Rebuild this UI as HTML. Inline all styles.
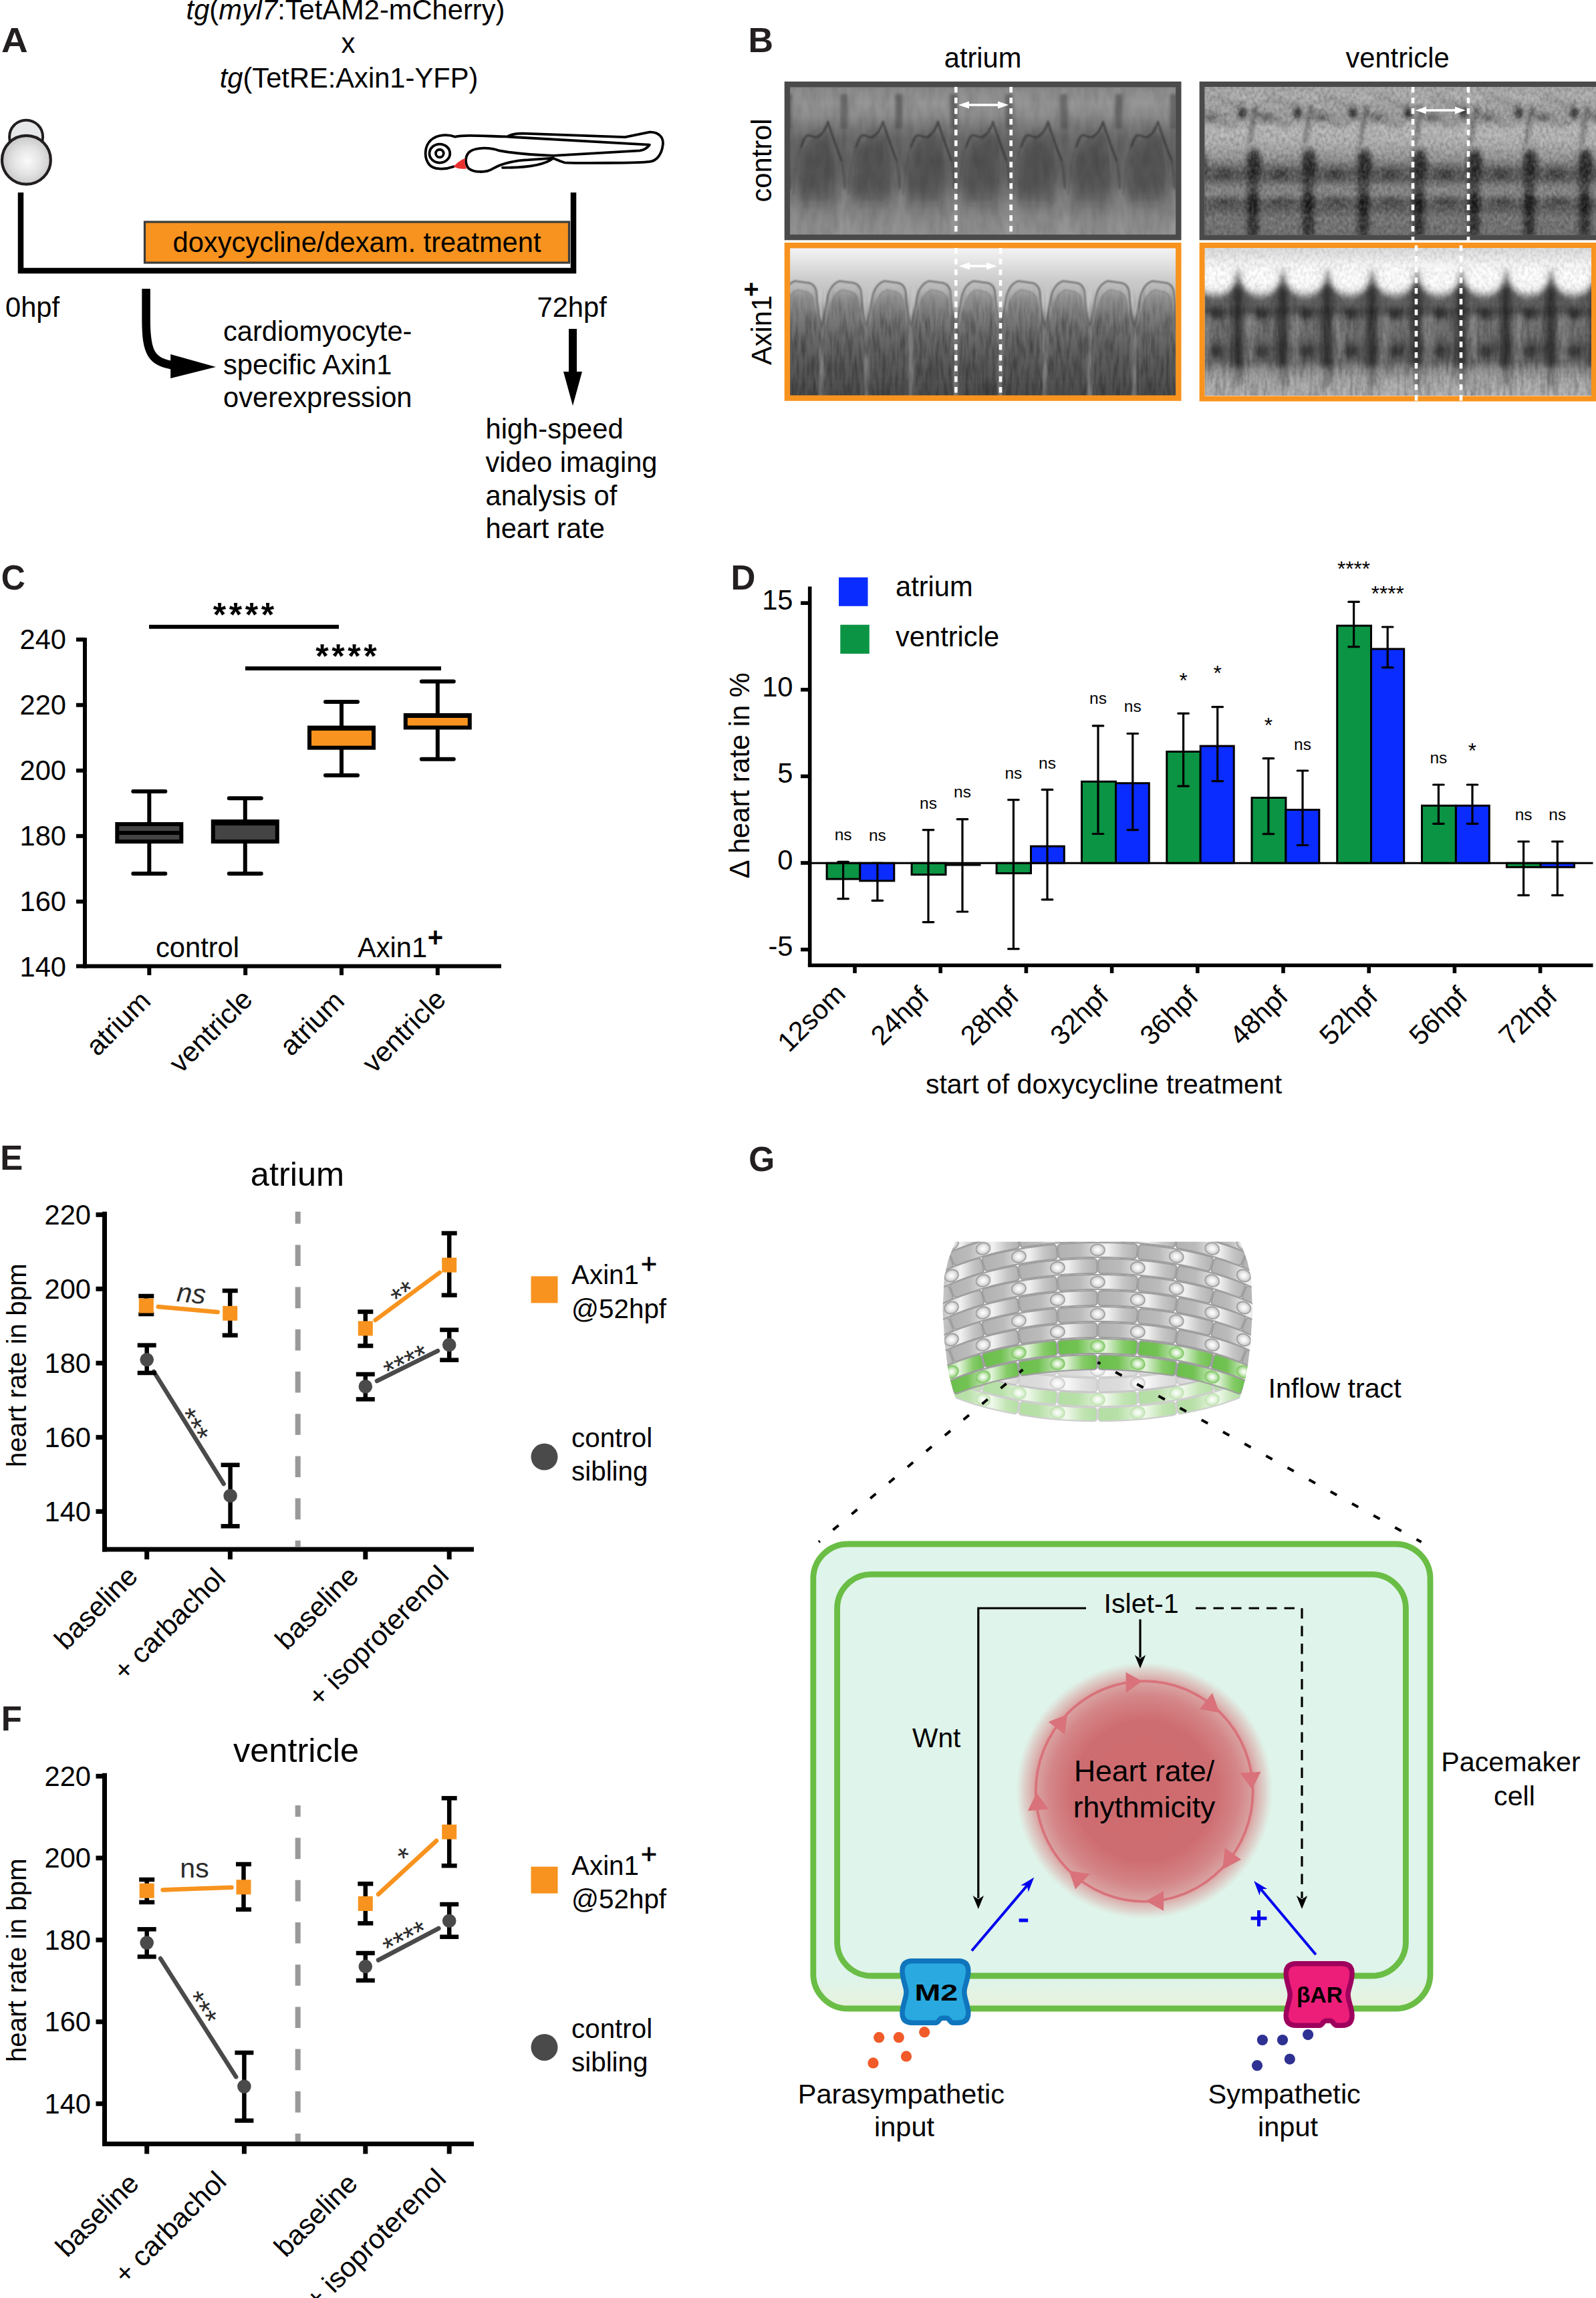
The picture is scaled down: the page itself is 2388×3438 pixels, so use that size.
<!DOCTYPE html>
<html><head><meta charset="utf-8"><title>Figure</title>
<style>
html,body{margin:0;padding:0;background:#fff;}
svg{display:block;}
text{font-family:"Liberation Sans",sans-serif;}
</style></head><body>
<svg width="2388" height="3438" viewBox="0 0 2388 3438">
<rect width="2388" height="3438" fill="#fff"/>
<defs><radialGradient id="eggG" cx="0.52" cy="0.52" r="0.55"><stop offset="0" stop-color="#fafafa"/><stop offset="0.5" stop-color="#e4e4e4"/><stop offset="1" stop-color="#c4c4c4"/></radialGradient>
<filter id="bl2" x="-10%" y="-10%" width="120%" height="120%"><feGaussianBlur stdDeviation="2"/></filter>
<filter id="bl1" x="-10%" y="-10%" width="120%" height="120%"><feGaussianBlur stdDeviation="1.1"/></filter>
<filter id="bl4" x="-10%" y="-10%" width="120%" height="120%"><feGaussianBlur stdDeviation="4"/></filter>
<filter id="bl6" x="-10%" y="-10%" width="120%" height="120%"><feGaussianBlur stdDeviation="6 9"/></filter>
<filter id="bl3" x="-10%" y="-10%" width="120%" height="120%"><feGaussianBlur stdDeviation="3 5"/></filter>
<filter id="nzA" x="0" y="0" width="100%" height="100%"><feTurbulence type="fractalNoise" baseFrequency="0.09 0.03" numOctaves="2" seed="3"/><feColorMatrix type="matrix" values="0 0 0 0 0  0 0 0 0 0  0 0 0 0 0  1.6 0 0 0 -0.55"/></filter>
<filter id="nzB" x="0" y="0" width="100%" height="100%"><feTurbulence type="fractalNoise" baseFrequency="0.22 0.16" numOctaves="3" seed="7"/><feColorMatrix type="matrix" values="0 0 0 0 0  0 0 0 0 0  0 0 0 0 0  2.2 0 0 0 -0.8"/></filter>
<filter id="nzW" x="0" y="0" width="100%" height="100%"><feTurbulence type="fractalNoise" baseFrequency="0.22 0.16" numOctaves="3" seed="11"/><feColorMatrix type="matrix" values="0 0 0 0 1  0 0 0 0 1  0 0 0 0 1  2.2 0 0 0 -0.8"/></filter>
<filter id="nzV" x="0" y="0" width="100%" height="100%"><feTurbulence type="fractalNoise" baseFrequency="0.22 0.025" numOctaves="2" seed="5"/><feColorMatrix type="matrix" values="0 0 0 0 0  0 0 0 0 0  0 0 0 0 0  2.0 0 0 0 -0.75"/></filter>
<linearGradient id="b1g" x1="0" y1="0" x2="0" y2="1"><stop offset="0.000" stop-color="#808080"/><stop offset="0.045" stop-color="#8e8e8e"/><stop offset="0.126" stop-color="#969696"/><stop offset="0.207" stop-color="#8e8e8e"/><stop offset="0.279" stop-color="#7a7a7a"/><stop offset="0.360" stop-color="#6c6c6c"/><stop offset="0.495" stop-color="#666666"/><stop offset="0.631" stop-color="#6a6a6a"/><stop offset="0.766" stop-color="#7a7a7a"/><stop offset="0.878" stop-color="#8a8a8a"/><stop offset="1.000" stop-color="#939393"/></linearGradient>
<linearGradient id="b2g" x1="0" y1="0" x2="0" y2="1"><stop offset="0.000" stop-color="#f4f4f4"/><stop offset="0.063" stop-color="#e6e6e6"/><stop offset="0.154" stop-color="#d4d4d4"/><stop offset="0.213" stop-color="#c8c8c8"/><stop offset="0.226" stop-color="#8c8c8c"/><stop offset="0.240" stop-color="#a8a8a8"/><stop offset="0.276" stop-color="#b0b0b0"/><stop offset="0.299" stop-color="#8e8e8e"/><stop offset="0.317" stop-color="#9a9a9a"/><stop offset="0.357" stop-color="#7c7c7c"/><stop offset="0.448" stop-color="#6a6a6a"/><stop offset="0.561" stop-color="#565656"/><stop offset="0.697" stop-color="#484848"/><stop offset="0.855" stop-color="#404040"/><stop offset="1.000" stop-color="#3b3b3b"/></linearGradient>
<linearGradient id="b3g" x1="0" y1="0" x2="0" y2="1"><stop offset="0.000" stop-color="#a0a0a0"/><stop offset="0.090" stop-color="#b2b2b2"/><stop offset="0.203" stop-color="#9c9c9c"/><stop offset="0.293" stop-color="#b6b6b6"/><stop offset="0.383" stop-color="#b0b0b0"/><stop offset="0.486" stop-color="#929292"/><stop offset="0.563" stop-color="#5a5a5a"/><stop offset="0.613" stop-color="#585858"/><stop offset="0.667" stop-color="#828282"/><stop offset="0.712" stop-color="#868686"/><stop offset="0.757" stop-color="#5e5e5e"/><stop offset="0.811" stop-color="#5c5c5c"/><stop offset="0.865" stop-color="#747474"/><stop offset="0.946" stop-color="#707070"/><stop offset="1.000" stop-color="#6c6c6c"/></linearGradient>
<linearGradient id="b4g" x1="0" y1="0" x2="0" y2="1"><stop offset="0.000" stop-color="#d8d8d8"/><stop offset="0.063" stop-color="#e4e4e4"/><stop offset="0.131" stop-color="#f6f6f6"/><stop offset="0.244" stop-color="#f2f2f2"/><stop offset="0.312" stop-color="#b0b0b0"/><stop offset="0.367" stop-color="#6c6c6c"/><stop offset="0.439" stop-color="#525252"/><stop offset="0.502" stop-color="#747474"/><stop offset="0.584" stop-color="#727272"/><stop offset="0.674" stop-color="#5c5c5c"/><stop offset="0.756" stop-color="#686868"/><stop offset="0.810" stop-color="#949494"/><stop offset="0.878" stop-color="#adadad"/><stop offset="1.000" stop-color="#b8b8b8"/></linearGradient>
<linearGradient id="b2bg" gradientUnits="userSpaceOnUse" x1="0" y1="371" x2="0" y2="592"><stop offset="0" stop-color="#f3f3f3"/><stop offset="0.07" stop-color="#e8e8e8"/><stop offset="0.16" stop-color="#d6d6d6"/><stop offset="0.24" stop-color="#c8c8c8"/><stop offset="0.36" stop-color="#c2c2c2"/><stop offset="0.45" stop-color="#b2b2b2"/><stop offset="0.52" stop-color="#909090"/><stop offset="0.6" stop-color="#6c6c6c"/><stop offset="1" stop-color="#484848"/></linearGradient>
<linearGradient id="b2out" gradientUnits="userSpaceOnUse" x1="0" y1="420" x2="0" y2="592"><stop offset="0" stop-color="#c0c0c0"/><stop offset="0.1" stop-color="#b2b2b2"/><stop offset="0.3" stop-color="#8a8a8a"/><stop offset="0.5" stop-color="#626262"/><stop offset="1" stop-color="#484848"/></linearGradient>
<linearGradient id="b2in" gradientUnits="userSpaceOnUse" x1="0" y1="435" x2="0" y2="592"><stop offset="0" stop-color="#a2a2a2"/><stop offset="0.06" stop-color="#929292"/><stop offset="0.2" stop-color="#808080"/><stop offset="0.4" stop-color="#6c6c6c"/><stop offset="0.6" stop-color="#5e5e5e"/><stop offset="1" stop-color="#4c4c4c"/></linearGradient>
<linearGradient id="fadeV" x1="0" y1="0" x2="0" y2="1"><stop offset="0" stop-color="#000" stop-opacity="0"/><stop offset="0.35" stop-color="#000" stop-opacity="1"/><stop offset="1" stop-color="#000" stop-opacity="1"/></linearGradient>
<filter id="nzVm" x="0" y="0" width="100%" height="100%"><feTurbulence type="fractalNoise" baseFrequency="0.2 0.03" numOctaves="2" seed="5"/><feColorMatrix type="matrix" values="0 0 0 0 0  0 0 0 0 0  0 0 0 0 0  2.0 0 0 0 -0.75"/><feComposite in2="SourceGraphic" operator="in"/></filter>
<linearGradient id="notchG" x1="0" y1="0" x2="0" y2="1"><stop offset="0.000" stop-color="#cdcdcd"/><stop offset="0.500" stop-color="#b4b4b4"/><stop offset="1.000" stop-color="#8a8a8a"/></linearGradient>
<clipPath id="c1"><rect x="1181.7" y="130" width="578" height="221.5"/></clipPath>
<clipPath id="c2"><rect x="1181.7" y="371" width="578" height="221"/></clipPath>
<clipPath id="c3"><rect x="1802.5" y="130" width="586" height="221.5"/></clipPath>
<clipPath id="c4"><rect x="1802.5" y="371" width="586" height="221"/></clipPath>
<linearGradient id="cg"><stop offset="0" stop-color="#b1b1b1"/><stop offset="0.28" stop-color="#bbbbbb"/><stop offset="0.62" stop-color="#f1f1f1"/><stop offset="0.82" stop-color="#c6c6c6"/><stop offset="1" stop-color="#b1b1b1"/></linearGradient>
<linearGradient id="cgr"><stop offset="0" stop-color="#6abf4b"/><stop offset="0.25" stop-color="#72c253"/><stop offset="0.6" stop-color="#e2f3da"/><stop offset="0.82" stop-color="#86cc69"/><stop offset="1" stop-color="#6abf4b"/></linearGradient>
<radialGradient id="ng" cx="0.5" cy="0.5" r="0.55"><stop offset="0" stop-color="#fff"/><stop offset="0.4" stop-color="#eeeeee"/><stop offset="1" stop-color="#bcbcbc"/></radialGradient>
<radialGradient id="ngr" cx="0.5" cy="0.5" r="0.55"><stop offset="0" stop-color="#fff"/><stop offset="0.4" stop-color="#d9f0cf"/><stop offset="1" stop-color="#7cc75e"/></radialGradient>
<radialGradient id="glow" cx="0.5" cy="0.5" r="0.5"><stop offset="0" stop-color="#cd6a6e"/><stop offset="0.55" stop-color="#ce6d71"/><stop offset="0.74" stop-color="#d48688"/><stop offset="0.86" stop-color="#d99c9c" stop-opacity="0.9"/><stop offset="0.94" stop-color="#dcb0ae" stop-opacity="0.5"/><stop offset="1" stop-color="#dfc0bd" stop-opacity="0"/></radialGradient>
<linearGradient id="tint" x1="0" y1="0" x2="0" y2="1"><stop offset="0" stop-color="#eef0d2" stop-opacity="0"/><stop offset="1" stop-color="#eef0d2" stop-opacity="0.55"/></linearGradient>
<clipPath id="cellClip"><rect x="1216.8" y="2310" width="923.2" height="695" rx="52" ry="52"/></clipPath>
<clipPath id="barrelClip"><path d="M1855.3,1857.7 L1865.8,1885.0 L1871.8,1911.0 L1874.1,1960.0 L1871.1,2009.0 L1867.1,2042.0 L1863.3,2063.0 L1858.3,2081.0 L1852.3,2100.0 L1840.3,2145.0 L1444.3,2145.0 L1432.3,2100.0 L1426.3,2081.0 L1421.3,2063.0 L1417.5,2042.0 L1413.5,2009.0 L1410.5,1960.0 L1412.8,1911.0 L1418.8,1885.0 L1429.3,1857.7 Z"/></clipPath></defs>
<g id="pA">
<text font-size="50" font-weight="bold" fill="#231f20" transform="translate(2.0 77.9) scale(1.1 1.02)">A</text>
<text x="517.0" y="29.0" font-size="41.67" text-anchor="middle"><tspan font-style="italic">tg</tspan>(<tspan font-style="italic">myl7</tspan>:TetAM2-mCherry)</text>
<text x="521.0" y="79.0" font-size="41.67" text-anchor="middle">x</text>
<text x="522.0" y="131.0" font-size="41.67" text-anchor="middle"><tspan font-style="italic">tg</tspan>(TetRE:Axin1-YFP)</text>
<circle cx="39.1" cy="204.7" r="25" fill="#e6e7e8" stroke="#231f20" stroke-width="4"/>
<circle cx="39.4" cy="239.3" r="36.4" fill="url(#eggG)" stroke="#231f20" stroke-width="4.2"/>
<path d="M31,288 V405 H858 V288" fill="none" stroke="#000" stroke-width="8.5"/>
<rect x="216.5" y="332.0" width="635.0" height="61.0" fill="#f7931e" stroke="#3c3c3b" stroke-width="3.2"/>
<text x="534.0" y="377.0" font-size="41.67" text-anchor="middle">doxycycline/dexam. treatment</text>
<text x="8.0" y="474.0" font-size="41.67">0hpf</text>
<text x="803.5" y="474.0" font-size="41.67">72hpf</text>
<path d="M218.6,432 V478 C218.6,528 226,542 262,547" fill="none" stroke="#000" stroke-width="12.5"/>
<path d="M255.2,530 L323,549 L255.2,566 Z" fill="#000"/>
<text x="334.0" y="510.0" font-size="41.67">cardiomyocyte-</text>
<text x="334.0" y="560.0" font-size="41.67">specific Axin1</text>
<text x="334.0" y="609.0" font-size="41.67">overexpression</text>
<path d="M851,492 H863 V556 H871 L857,607 L843,556 H851 Z" fill="#000"/>
<text x="726.5" y="656.0" font-size="41.67">high-speed</text>
<text x="726.5" y="706.0" font-size="41.67">video imaging</text>
<text x="726.5" y="756.0" font-size="41.67">analysis of</text>
<text x="726.5" y="805.0" font-size="41.67">heart rate</text>
<g transform="translate(620 180) scale(0.24438)" fill="none" stroke="#000" stroke-width="15.5" stroke-linejoin="round" stroke-linecap="round">
<path d="M240,283 C180,305 115,300 92,272 C58,232 60,160 100,122 C140,86 205,84 250,101 C300,88 400,95 560,100 L1440,150 C1425,172 1405,182 1380,186 L850,216 C700,212 600,200 520,186 C460,164 380,166 342,190 C310,212 308,262 330,292 C360,322 440,322 480,296 C540,262 610,246 700,242 L850,232" fill="#fff"/>
<path d="M575,97 C600,82 625,80 660,80 L1290,103 L1440,72 C1500,70 1528,110 1521,152 C1514,212 1480,250 1440,253 C1380,262 1000,263 920,259 C890,251 870,240 850,232 C800,272 700,290 540,290"/>
<ellipse cx="155" cy="203" rx="63" ry="57"/>
<circle cx="155" cy="203" r="24"/>
<path d="M240,283 C265,255 290,240 312,232 C306,255 310,280 322,296 C295,300 265,296 240,283 Z" fill="#e8312f" stroke="none"/>
</g>
</g>
<g id="pB">
<text font-size="50" font-weight="bold" fill="#231f20" transform="translate(1119.6 78.1) scale(1.04 1.02)">B</text>
<text x="1470.6" y="101.0" font-size="41.67" text-anchor="middle">atrium</text>
<text x="2091.0" y="101.0" font-size="41.67" text-anchor="middle">ventricle</text>
<text x="1153.5" y="240.0" font-size="41.67" text-anchor="middle" transform="rotate(-90 1153.5 240.0)">control</text>
<text x="1153.5" y="546.0" font-size="41.67" transform="rotate(-90 1153.5 546.0)">Axin1</text>
<text x="1137.0" y="433.0" font-size="38" text-anchor="middle" font-weight="bold" transform="rotate(-90 1137.0 433.0)">+</text>
<g clip-path="url(#c1)">
<rect x="1175" y="125" width="595" height="232" fill="url(#b1g)"/>
<g filter="url(#bl6)">
<path d="M1112.7,300 C1108.7,250 1116.7,215 1136.7,205 L1158.7,196 C1166.7,220 1170.7,270 1162.7,300 Z" fill="#262626" opacity="0.33"/>
<path d="M1172.7,352 L1180.7,262 L1192.7,352 Z" fill="#a0a0a0" opacity="0.55"/>
<path d="M1195.0,300 C1191.0,250 1199.0,215 1219.0,205 L1241.0,196 C1249.0,220 1253.0,270 1245.0,300 Z" fill="#262626" opacity="0.33"/>
<path d="M1255.0,352 L1263.0,262 L1275.0,352 Z" fill="#a0a0a0" opacity="0.55"/>
<path d="M1277.3,300 C1273.3,250 1281.3,215 1301.3,205 L1323.3,196 C1331.3,220 1335.3,270 1327.3,300 Z" fill="#262626" opacity="0.33"/>
<path d="M1337.3,352 L1345.3,262 L1357.3,352 Z" fill="#a0a0a0" opacity="0.55"/>
<path d="M1359.6,300 C1355.6,250 1363.6,215 1383.6,205 L1405.6,196 C1413.6,220 1417.6,270 1409.6,300 Z" fill="#262626" opacity="0.33"/>
<path d="M1419.6,352 L1427.6,262 L1439.6,352 Z" fill="#a0a0a0" opacity="0.55"/>
<path d="M1441.9,300 C1437.9,250 1445.9,215 1465.9,205 L1487.9,196 C1495.9,220 1499.9,270 1491.9,300 Z" fill="#262626" opacity="0.33"/>
<path d="M1501.9,352 L1509.9,262 L1521.9,352 Z" fill="#a0a0a0" opacity="0.55"/>
<path d="M1524.2,300 C1520.2,250 1528.2,215 1548.2,205 L1570.2,196 C1578.2,220 1582.2,270 1574.2,300 Z" fill="#262626" opacity="0.33"/>
<path d="M1584.2,352 L1592.2,262 L1604.2,352 Z" fill="#a0a0a0" opacity="0.55"/>
<path d="M1606.5,300 C1602.5,250 1610.5,215 1630.5,205 L1652.5,196 C1660.5,220 1664.5,270 1656.5,300 Z" fill="#262626" opacity="0.33"/>
<path d="M1666.5,352 L1674.5,262 L1686.5,352 Z" fill="#a0a0a0" opacity="0.55"/>
<path d="M1688.8,300 C1684.8,250 1692.8,215 1712.8,205 L1734.8,196 C1742.8,220 1746.8,270 1738.8,300 Z" fill="#262626" opacity="0.33"/>
<path d="M1748.8,352 L1756.8,262 L1768.8,352 Z" fill="#a0a0a0" opacity="0.55"/>
<path d="M1771.1,300 C1767.1,250 1775.1,215 1795.1,205 L1817.1,196 C1825.1,220 1829.1,270 1821.1,300 Z" fill="#262626" opacity="0.33"/>
<path d="M1831.1,352 L1839.1,262 L1851.1,352 Z" fill="#a0a0a0" opacity="0.55"/>
</g>
<g filter="url(#bl2)">
<rect x="1174.7" y="141" width="11" height="52" fill="#444" opacity="0.5"/>
<rect x="1175.7" y="195" width="9" height="85" fill="#555" opacity="0.3"/>
<rect x="1257.0" y="141" width="11" height="52" fill="#444" opacity="0.5"/>
<rect x="1258.0" y="195" width="9" height="85" fill="#555" opacity="0.3"/>
<rect x="1339.3" y="141" width="11" height="52" fill="#444" opacity="0.5"/>
<rect x="1340.3" y="195" width="9" height="85" fill="#555" opacity="0.3"/>
<rect x="1421.6" y="141" width="11" height="52" fill="#444" opacity="0.5"/>
<rect x="1422.6" y="195" width="9" height="85" fill="#555" opacity="0.3"/>
<rect x="1503.9" y="141" width="11" height="52" fill="#444" opacity="0.5"/>
<rect x="1504.9" y="195" width="9" height="85" fill="#555" opacity="0.3"/>
<rect x="1586.2" y="141" width="11" height="52" fill="#444" opacity="0.5"/>
<rect x="1587.2" y="195" width="9" height="85" fill="#555" opacity="0.3"/>
<rect x="1668.5" y="141" width="11" height="52" fill="#444" opacity="0.5"/>
<rect x="1669.5" y="195" width="9" height="85" fill="#555" opacity="0.3"/>
<rect x="1750.8" y="141" width="11" height="52" fill="#444" opacity="0.5"/>
<rect x="1751.8" y="195" width="9" height="85" fill="#555" opacity="0.3"/>
<rect x="1833.1" y="141" width="11" height="52" fill="#444" opacity="0.5"/>
<rect x="1834.1" y="195" width="9" height="85" fill="#555" opacity="0.3"/>
</g>
<g filter="url(#bl1)" fill="none" stroke-linecap="round" stroke-linejoin="round">
<path d="M1116.3,220 C1119.7,210 1121.7,204 1125.7,202.5 C1130.7,201 1134.7,207 1140.7,205 C1148.7,201 1153.7,192 1156.7,182 C1159.7,194 1163.7,204 1166.7,213 C1170.7,224 1173.7,232 1176.7,240" stroke="#2a2a2a" stroke-width="2.8" opacity="0.62"/>
<path d="M1176.7,240 C1179.7,255 1181.7,268 1181.7,282" stroke="#454545" stroke-width="2.4" opacity="0.6"/>
<path d="M1116.3,220 C1110.7,240 1106.7,265 1104.7,290" stroke="#555" stroke-width="2.4" opacity="0.5"/>
<path d="M1198.6,220 C1202.0,210 1204.0,204 1208.0,202.5 C1213.0,201 1217.0,207 1223.0,205 C1231.0,201 1236.0,192 1239.0,182 C1242.0,194 1246.0,204 1249.0,213 C1253.0,224 1256.0,232 1259.0,240" stroke="#2a2a2a" stroke-width="2.8" opacity="0.62"/>
<path d="M1259.0,240 C1262.0,255 1264.0,268 1264.0,282" stroke="#454545" stroke-width="2.4" opacity="0.6"/>
<path d="M1198.6,220 C1193.0,240 1189.0,265 1187.0,290" stroke="#555" stroke-width="2.4" opacity="0.5"/>
<path d="M1280.9,220 C1284.3,210 1286.3,204 1290.3,202.5 C1295.3,201 1299.3,207 1305.3,205 C1313.3,201 1318.3,192 1321.3,182 C1324.3,194 1328.3,204 1331.3,213 C1335.3,224 1338.3,232 1341.3,240" stroke="#2a2a2a" stroke-width="2.8" opacity="0.62"/>
<path d="M1341.3,240 C1344.3,255 1346.3,268 1346.3,282" stroke="#454545" stroke-width="2.4" opacity="0.6"/>
<path d="M1280.9,220 C1275.3,240 1271.3,265 1269.3,290" stroke="#555" stroke-width="2.4" opacity="0.5"/>
<path d="M1363.2,220 C1366.6,210 1368.6,204 1372.6,202.5 C1377.6,201 1381.6,207 1387.6,205 C1395.6,201 1400.6,192 1403.6,182 C1406.6,194 1410.6,204 1413.6,213 C1417.6,224 1420.6,232 1423.6,240" stroke="#2a2a2a" stroke-width="2.8" opacity="0.62"/>
<path d="M1423.6,240 C1426.6,255 1428.6,268 1428.6,282" stroke="#454545" stroke-width="2.4" opacity="0.6"/>
<path d="M1363.2,220 C1357.6,240 1353.6,265 1351.6,290" stroke="#555" stroke-width="2.4" opacity="0.5"/>
<path d="M1445.5,220 C1448.9,210 1450.9,204 1454.9,202.5 C1459.9,201 1463.9,207 1469.9,205 C1477.9,201 1482.9,192 1485.9,182 C1488.9,194 1492.9,204 1495.9,213 C1499.9,224 1502.9,232 1505.9,240" stroke="#2a2a2a" stroke-width="2.8" opacity="0.62"/>
<path d="M1505.9,240 C1508.9,255 1510.9,268 1510.9,282" stroke="#454545" stroke-width="2.4" opacity="0.6"/>
<path d="M1445.5,220 C1439.9,240 1435.9,265 1433.9,290" stroke="#555" stroke-width="2.4" opacity="0.5"/>
<path d="M1527.8,220 C1531.2,210 1533.2,204 1537.2,202.5 C1542.2,201 1546.2,207 1552.2,205 C1560.2,201 1565.2,192 1568.2,182 C1571.2,194 1575.2,204 1578.2,213 C1582.2,224 1585.2,232 1588.2,240" stroke="#2a2a2a" stroke-width="2.8" opacity="0.62"/>
<path d="M1588.2,240 C1591.2,255 1593.2,268 1593.2,282" stroke="#454545" stroke-width="2.4" opacity="0.6"/>
<path d="M1527.8,220 C1522.2,240 1518.2,265 1516.2,290" stroke="#555" stroke-width="2.4" opacity="0.5"/>
<path d="M1610.1,220 C1613.5,210 1615.5,204 1619.5,202.5 C1624.5,201 1628.5,207 1634.5,205 C1642.5,201 1647.5,192 1650.5,182 C1653.5,194 1657.5,204 1660.5,213 C1664.5,224 1667.5,232 1670.5,240" stroke="#2a2a2a" stroke-width="2.8" opacity="0.62"/>
<path d="M1670.5,240 C1673.5,255 1675.5,268 1675.5,282" stroke="#454545" stroke-width="2.4" opacity="0.6"/>
<path d="M1610.1,220 C1604.5,240 1600.5,265 1598.5,290" stroke="#555" stroke-width="2.4" opacity="0.5"/>
<path d="M1692.4,220 C1695.8,210 1697.8,204 1701.8,202.5 C1706.8,201 1710.8,207 1716.8,205 C1724.8,201 1729.8,192 1732.8,182 C1735.8,194 1739.8,204 1742.8,213 C1746.8,224 1749.8,232 1752.8,240" stroke="#2a2a2a" stroke-width="2.8" opacity="0.62"/>
<path d="M1752.8,240 C1755.8,255 1757.8,268 1757.8,282" stroke="#454545" stroke-width="2.4" opacity="0.6"/>
<path d="M1692.4,220 C1686.8,240 1682.8,265 1680.8,290" stroke="#555" stroke-width="2.4" opacity="0.5"/>
<path d="M1774.7,220 C1778.1,210 1780.1,204 1784.1,202.5 C1789.1,201 1793.1,207 1799.1,205 C1807.1,201 1812.1,192 1815.1,182 C1818.1,194 1822.1,204 1825.1,213 C1829.1,224 1832.1,232 1835.1,240" stroke="#2a2a2a" stroke-width="2.8" opacity="0.62"/>
<path d="M1835.1,240 C1838.1,255 1840.1,268 1840.1,282" stroke="#454545" stroke-width="2.4" opacity="0.6"/>
<path d="M1774.7,220 C1769.1,240 1765.1,265 1763.1,290" stroke="#555" stroke-width="2.4" opacity="0.5"/>
</g>
<rect x="1181" y="130" width="580" height="222" filter="url(#nzA)" opacity="0.12"/>
</g>
<rect x="1177.9" y="126.2" width="585.4" height="228.9" fill="none" stroke="#4a4a4a" stroke-width="8.4"/>
<line x1="1430.3" y1="130" x2="1430.3" y2="352" stroke="#fff" stroke-width="4.6" stroke-dasharray="8.6 7.4"/>
<line x1="1512.7" y1="130" x2="1512.7" y2="352" stroke="#fff" stroke-width="4.6" stroke-dasharray="8.6 7.4"/>
<path d="M1446,157 H1497" stroke="#fff" stroke-width="3.6" fill="none"/>
<path d="M1434,157 l16,-5.5 v11 Z M1509,157 l-16,-5.5 v11 Z" fill="#fff"/>
<g clip-path="url(#c2)">
<rect x="1175" y="365" width="595" height="232" fill="url(#b2bg)"/>
<g filter="url(#bl1)">
<path d="M1162.5,600 L1162.5,487.0 C1165.5,480.0 1168.0,462.0 1171.0,446.0 C1173.5,434.0 1178.5,424.0 1189.5,420.5 L1211.4,423.5 C1218.4,426.0 1221.4,432.0 1221.9,440.0 C1223.4,460.0 1225.4,478.0 1229.4,487.0 L1229.4,600 Z" fill="url(#b2out)" stroke="#6c6c6c" stroke-width="2.4"/>
<path d="M1229.4,600 L1229.4,487.0 C1232.4,480.0 1234.9,462.0 1237.9,446.0 C1240.4,434.0 1245.4,424.0 1256.4,420.5 L1278.3,423.5 C1285.3,426.0 1288.3,432.0 1288.8,440.0 C1290.3,460.0 1292.3,478.0 1296.3,487.0 L1296.3,600 Z" fill="url(#b2out)" stroke="#6c6c6c" stroke-width="2.4"/>
<path d="M1296.3,600 L1296.3,487.0 C1299.3,480.0 1301.8,462.0 1304.8,446.0 C1307.3,434.0 1312.3,424.0 1323.3,420.5 L1345.1,423.5 C1352.1,426.0 1355.1,432.0 1355.6,440.0 C1357.1,460.0 1359.1,478.0 1363.1,487.0 L1363.1,600 Z" fill="url(#b2out)" stroke="#6c6c6c" stroke-width="2.4"/>
<path d="M1363.1,600 L1363.1,487.0 C1366.1,480.0 1368.6,462.0 1371.6,446.0 C1374.1,434.0 1379.1,424.0 1390.1,420.5 L1412.0,423.5 C1419.0,426.0 1422.0,432.0 1422.5,440.0 C1424.0,460.0 1426.0,478.0 1430.0,487.0 L1430.0,600 Z" fill="url(#b2out)" stroke="#6c6c6c" stroke-width="2.4"/>
<path d="M1430.0,600 L1430.0,487.0 C1433.0,480.0 1435.5,462.0 1438.5,446.0 C1441.0,434.0 1446.0,424.0 1457.0,420.5 L1478.8,423.5 C1485.8,426.0 1488.8,432.0 1489.3,440.0 C1490.8,460.0 1492.8,478.0 1496.8,487.0 L1496.8,600 Z" fill="url(#b2out)" stroke="#6c6c6c" stroke-width="2.4"/>
<path d="M1496.8,600 L1496.8,487.0 C1499.8,480.0 1502.3,462.0 1505.3,446.0 C1507.8,434.0 1512.8,424.0 1523.8,420.5 L1545.7,423.5 C1552.7,426.0 1555.7,432.0 1556.2,440.0 C1557.7,460.0 1559.7,478.0 1563.7,487.0 L1563.7,600 Z" fill="url(#b2out)" stroke="#6c6c6c" stroke-width="2.4"/>
<path d="M1563.7,600 L1563.7,487.0 C1566.7,480.0 1569.2,462.0 1572.2,446.0 C1574.7,434.0 1579.7,424.0 1590.7,420.5 L1612.6,423.5 C1619.6,426.0 1622.6,432.0 1623.1,440.0 C1624.6,460.0 1626.6,478.0 1630.6,487.0 L1630.6,600 Z" fill="url(#b2out)" stroke="#6c6c6c" stroke-width="2.4"/>
<path d="M1630.6,600 L1630.6,487.0 C1633.6,480.0 1636.1,462.0 1639.1,446.0 C1641.6,434.0 1646.6,424.0 1657.6,420.5 L1679.4,423.5 C1686.4,426.0 1689.4,432.0 1689.9,440.0 C1691.4,460.0 1693.4,478.0 1697.4,487.0 L1697.4,600 Z" fill="url(#b2out)" stroke="#6c6c6c" stroke-width="2.4"/>
<path d="M1697.4,600 L1697.4,487.0 C1700.4,480.0 1702.9,462.0 1705.9,446.0 C1708.4,434.0 1713.4,424.0 1724.4,420.5 L1746.3,423.5 C1753.3,426.0 1756.3,432.0 1756.8,440.0 C1758.3,460.0 1760.3,478.0 1764.3,487.0 L1764.3,600 Z" fill="url(#b2out)" stroke="#6c6c6c" stroke-width="2.4"/>
<path d="M1764.3,600 L1764.3,487.0 C1767.3,480.0 1769.8,462.0 1772.8,446.0 C1775.3,434.0 1780.3,424.0 1791.3,420.5 L1813.1,423.5 C1820.1,426.0 1823.1,432.0 1823.6,440.0 C1825.1,460.0 1827.1,478.0 1831.1,487.0 L1831.1,600 Z" fill="url(#b2out)" stroke="#6c6c6c" stroke-width="2.4"/>
<path d="M1164.2,600 L1164.2,491.2 C1168.1,484.2 1172.2,466.2 1175.2,459.0 C1177.7,447.0 1182.7,437.0 1193.7,433.5 L1207.2,436.5 C1214.2,439.0 1217.2,445.0 1217.7,453.0 C1219.2,464.2 1221.2,482.2 1227.7,491.2 L1227.7,600 Z" fill="url(#b2in)" stroke="#858585" stroke-width="1.6"/>
<path d="M1231.1,600 L1231.1,491.2 C1234.9,484.2 1239.1,466.2 1242.1,459.0 C1244.6,447.0 1249.6,437.0 1260.6,433.5 L1274.1,436.5 C1281.1,439.0 1284.1,445.0 1284.6,453.0 C1286.1,464.2 1288.1,482.2 1294.6,491.2 L1294.6,600 Z" fill="url(#b2in)" stroke="#858585" stroke-width="1.6"/>
<path d="M1297.9,600 L1297.9,491.2 C1301.8,484.2 1306.0,466.2 1309.0,459.0 C1311.5,447.0 1316.5,437.0 1327.5,433.5 L1340.9,436.5 C1347.9,439.0 1350.9,445.0 1351.4,453.0 C1352.9,464.2 1354.9,482.2 1361.4,491.2 L1361.4,600 Z" fill="url(#b2in)" stroke="#858585" stroke-width="1.6"/>
<path d="M1364.8,600 L1364.8,491.2 C1368.6,484.2 1372.8,466.2 1375.8,459.0 C1378.3,447.0 1383.3,437.0 1394.3,433.5 L1407.8,436.5 C1414.8,439.0 1417.8,445.0 1418.3,453.0 C1419.8,464.2 1421.8,482.2 1428.3,491.2 L1428.3,600 Z" fill="url(#b2in)" stroke="#858585" stroke-width="1.6"/>
<path d="M1431.7,600 L1431.7,491.2 C1435.5,484.2 1439.7,466.2 1442.7,459.0 C1445.2,447.0 1450.2,437.0 1461.2,433.5 L1474.6,436.5 C1481.6,439.0 1484.6,445.0 1485.1,453.0 C1486.6,464.2 1488.6,482.2 1495.2,491.2 L1495.2,600 Z" fill="url(#b2in)" stroke="#858585" stroke-width="1.6"/>
<path d="M1498.5,600 L1498.5,491.2 C1502.4,484.2 1506.5,466.2 1509.5,459.0 C1512.0,447.0 1517.0,437.0 1528.0,433.5 L1541.5,436.5 C1548.5,439.0 1551.5,445.0 1552.0,453.0 C1553.5,464.2 1555.5,482.2 1562.0,491.2 L1562.0,600 Z" fill="url(#b2in)" stroke="#858585" stroke-width="1.6"/>
<path d="M1565.4,600 L1565.4,491.2 C1569.2,484.2 1573.4,466.2 1576.4,459.0 C1578.9,447.0 1583.9,437.0 1594.9,433.5 L1608.4,436.5 C1615.4,439.0 1618.4,445.0 1618.9,453.0 C1620.4,464.2 1622.4,482.2 1628.9,491.2 L1628.9,600 Z" fill="url(#b2in)" stroke="#858585" stroke-width="1.6"/>
<path d="M1632.2,600 L1632.2,491.2 C1636.1,484.2 1640.3,466.2 1643.3,459.0 C1645.8,447.0 1650.8,437.0 1661.8,433.5 L1675.2,436.5 C1682.2,439.0 1685.2,445.0 1685.7,453.0 C1687.2,464.2 1689.2,482.2 1695.7,491.2 L1695.7,600 Z" fill="url(#b2in)" stroke="#858585" stroke-width="1.6"/>
<path d="M1699.1,600 L1699.1,491.2 C1702.9,484.2 1707.1,466.2 1710.1,459.0 C1712.6,447.0 1717.6,437.0 1728.6,433.5 L1742.1,436.5 C1749.1,439.0 1752.1,445.0 1752.6,453.0 C1754.1,464.2 1756.1,482.2 1762.6,491.2 L1762.6,600 Z" fill="url(#b2in)" stroke="#858585" stroke-width="1.6"/>
<path d="M1766.0,600 L1766.0,491.2 C1769.8,484.2 1774.0,466.2 1777.0,459.0 C1779.5,447.0 1784.5,437.0 1795.5,433.5 L1808.9,436.5 C1815.9,439.0 1818.9,445.0 1819.4,453.0 C1820.9,464.2 1822.9,482.2 1829.5,491.2 L1829.5,600 Z" fill="url(#b2in)" stroke="#858585" stroke-width="1.6"/>
</g>
<g filter="url(#bl3)">
<rect x="1156.5" y="492" width="13" height="110" fill="#8a8a8a" opacity="0.2"/>
<rect x="1223.4" y="492" width="13" height="110" fill="#8a8a8a" opacity="0.2"/>
<rect x="1290.3" y="492" width="13" height="110" fill="#8a8a8a" opacity="0.2"/>
<rect x="1357.1" y="492" width="13" height="110" fill="#8a8a8a" opacity="0.2"/>
<rect x="1424.0" y="492" width="13" height="110" fill="#8a8a8a" opacity="0.2"/>
<rect x="1490.8" y="492" width="13" height="110" fill="#8a8a8a" opacity="0.2"/>
<rect x="1557.7" y="492" width="13" height="110" fill="#8a8a8a" opacity="0.2"/>
<rect x="1624.6" y="492" width="13" height="110" fill="#8a8a8a" opacity="0.2"/>
<rect x="1691.4" y="492" width="13" height="110" fill="#8a8a8a" opacity="0.2"/>
<rect x="1758.3" y="492" width="13" height="110" fill="#8a8a8a" opacity="0.2"/>
</g>
<rect x="1181" y="425" width="580" height="170" fill="url(#fadeV)" filter="url(#nzVm)" opacity="0.3"/>
</g>
<rect x="1177.9" y="367.2" width="585.4" height="228.4" fill="none" stroke="#f7931e" stroke-width="8.4"/>
<line x1="1430.3" y1="371" x2="1430.3" y2="592" stroke="#fff" stroke-width="4.6" stroke-dasharray="8.6 7.4"/>
<line x1="1497" y1="371" x2="1497" y2="592" stroke="#fff" stroke-width="4.6" stroke-dasharray="8.6 7.4"/>
<path d="M1447,398 H1480" stroke="#fff" stroke-width="3.6" fill="none"/>
<path d="M1435,398 l16,-5.5 v11 Z M1492,398 l-16,-5.5 v11 Z" fill="#fff"/>
<g clip-path="url(#c3)">
<rect x="1796" y="125" width="600" height="232" fill="url(#b3g)"/>
<g filter="url(#bl3)">
<rect x="1783.3" y="226" width="17" height="135" fill="#1e1e1e" opacity="0.6"/>
<ellipse cx="1794.3" cy="245" rx="11" ry="22" fill="#141414" opacity="0.6"/>
<ellipse cx="1792.3" cy="305" rx="9" ry="16" fill="#0c0c0c" opacity="0.65"/>
<ellipse cx="1792.3" cy="336" rx="9" ry="14" fill="#111" opacity="0.45"/>
<ellipse cx="1776.3" cy="169" rx="6.5" ry="8" fill="#1a1a1a" opacity="0.9"/>
<ellipse cx="1812.3" cy="176" rx="9" ry="4" fill="#333" opacity="0.7"/>
<ellipse cx="1729.3" cy="176" rx="9" ry="4" fill="#3a3a3a" opacity="0.6"/>
<path d="M1796.3,158 L1786.3,215" stroke="#3c3c3c" stroke-width="5" opacity="0.75"/>
<path d="M1794.3,160 L1803.3,176" stroke="#444" stroke-width="4" opacity="0.7"/>
<path d="M1721.3,178 q12,-9 24,3 t24,2" stroke="#4c4c4c" stroke-width="6" fill="none" opacity="0.5"/>
<path d="M1725.3,150 q14,-8 28,2 t26,0" stroke="#5c5c5c" stroke-width="6" fill="none" opacity="0.45"/>
<path d="M1731.3,200 q14,8 28,0 t26,4" stroke="#c0c0c0" stroke-width="9" fill="none" opacity="0.4"/>
<ellipse cx="1749.3" cy="260" rx="12" ry="6" fill="#222" opacity="0.6"/>
<ellipse cx="1751.3" cy="302" rx="16" ry="6" fill="#2a2a2a" opacity="0.5"/>
<rect x="1866.0" y="226" width="17" height="135" fill="#1e1e1e" opacity="0.6"/>
<ellipse cx="1877.0" cy="245" rx="11" ry="22" fill="#141414" opacity="0.6"/>
<ellipse cx="1875.0" cy="305" rx="9" ry="16" fill="#0c0c0c" opacity="0.65"/>
<ellipse cx="1875.0" cy="336" rx="9" ry="14" fill="#111" opacity="0.45"/>
<ellipse cx="1859.0" cy="169" rx="6.5" ry="8" fill="#1a1a1a" opacity="0.9"/>
<ellipse cx="1895.0" cy="176" rx="9" ry="4" fill="#333" opacity="0.7"/>
<ellipse cx="1812.0" cy="176" rx="9" ry="4" fill="#3a3a3a" opacity="0.6"/>
<path d="M1879.0,158 L1869.0,215" stroke="#3c3c3c" stroke-width="5" opacity="0.75"/>
<path d="M1877.0,160 L1886.0,176" stroke="#444" stroke-width="4" opacity="0.7"/>
<path d="M1804.0,178 q12,-9 24,3 t24,2" stroke="#4c4c4c" stroke-width="6" fill="none" opacity="0.5"/>
<path d="M1808.0,150 q14,-8 28,2 t26,0" stroke="#5c5c5c" stroke-width="6" fill="none" opacity="0.45"/>
<path d="M1814.0,200 q14,8 28,0 t26,4" stroke="#c0c0c0" stroke-width="9" fill="none" opacity="0.4"/>
<ellipse cx="1832.0" cy="260" rx="12" ry="6" fill="#222" opacity="0.6"/>
<ellipse cx="1834.0" cy="302" rx="16" ry="6" fill="#2a2a2a" opacity="0.5"/>
<rect x="1948.7" y="226" width="17" height="135" fill="#1e1e1e" opacity="0.6"/>
<ellipse cx="1959.7" cy="245" rx="11" ry="22" fill="#141414" opacity="0.6"/>
<ellipse cx="1957.7" cy="305" rx="9" ry="16" fill="#0c0c0c" opacity="0.65"/>
<ellipse cx="1957.7" cy="336" rx="9" ry="14" fill="#111" opacity="0.45"/>
<ellipse cx="1941.7" cy="169" rx="6.5" ry="8" fill="#1a1a1a" opacity="0.9"/>
<ellipse cx="1977.7" cy="176" rx="9" ry="4" fill="#333" opacity="0.7"/>
<ellipse cx="1894.7" cy="176" rx="9" ry="4" fill="#3a3a3a" opacity="0.6"/>
<path d="M1961.7,158 L1951.7,215" stroke="#3c3c3c" stroke-width="5" opacity="0.75"/>
<path d="M1959.7,160 L1968.7,176" stroke="#444" stroke-width="4" opacity="0.7"/>
<path d="M1886.7,178 q12,-9 24,3 t24,2" stroke="#4c4c4c" stroke-width="6" fill="none" opacity="0.5"/>
<path d="M1890.7,150 q14,-8 28,2 t26,0" stroke="#5c5c5c" stroke-width="6" fill="none" opacity="0.45"/>
<path d="M1896.7,200 q14,8 28,0 t26,4" stroke="#c0c0c0" stroke-width="9" fill="none" opacity="0.4"/>
<ellipse cx="1914.7" cy="260" rx="12" ry="6" fill="#222" opacity="0.6"/>
<ellipse cx="1916.7" cy="302" rx="16" ry="6" fill="#2a2a2a" opacity="0.5"/>
<rect x="2031.4" y="226" width="17" height="135" fill="#1e1e1e" opacity="0.6"/>
<ellipse cx="2042.4" cy="245" rx="11" ry="22" fill="#141414" opacity="0.6"/>
<ellipse cx="2040.4" cy="305" rx="9" ry="16" fill="#0c0c0c" opacity="0.65"/>
<ellipse cx="2040.4" cy="336" rx="9" ry="14" fill="#111" opacity="0.45"/>
<ellipse cx="2024.4" cy="169" rx="6.5" ry="8" fill="#1a1a1a" opacity="0.9"/>
<ellipse cx="2060.4" cy="176" rx="9" ry="4" fill="#333" opacity="0.7"/>
<ellipse cx="1977.4" cy="176" rx="9" ry="4" fill="#3a3a3a" opacity="0.6"/>
<path d="M2044.4,158 L2034.4,215" stroke="#3c3c3c" stroke-width="5" opacity="0.75"/>
<path d="M2042.4,160 L2051.4,176" stroke="#444" stroke-width="4" opacity="0.7"/>
<path d="M1969.4,178 q12,-9 24,3 t24,2" stroke="#4c4c4c" stroke-width="6" fill="none" opacity="0.5"/>
<path d="M1973.4,150 q14,-8 28,2 t26,0" stroke="#5c5c5c" stroke-width="6" fill="none" opacity="0.45"/>
<path d="M1979.4,200 q14,8 28,0 t26,4" stroke="#c0c0c0" stroke-width="9" fill="none" opacity="0.4"/>
<ellipse cx="1997.4" cy="260" rx="12" ry="6" fill="#222" opacity="0.6"/>
<ellipse cx="1999.4" cy="302" rx="16" ry="6" fill="#2a2a2a" opacity="0.5"/>
<rect x="2114.1" y="226" width="17" height="135" fill="#1e1e1e" opacity="0.6"/>
<ellipse cx="2125.1" cy="245" rx="11" ry="22" fill="#141414" opacity="0.6"/>
<ellipse cx="2123.1" cy="305" rx="9" ry="16" fill="#0c0c0c" opacity="0.65"/>
<ellipse cx="2123.1" cy="336" rx="9" ry="14" fill="#111" opacity="0.45"/>
<ellipse cx="2107.1" cy="169" rx="6.5" ry="8" fill="#1a1a1a" opacity="0.9"/>
<ellipse cx="2143.1" cy="176" rx="9" ry="4" fill="#333" opacity="0.7"/>
<ellipse cx="2060.1" cy="176" rx="9" ry="4" fill="#3a3a3a" opacity="0.6"/>
<path d="M2127.1,158 L2117.1,215" stroke="#3c3c3c" stroke-width="5" opacity="0.75"/>
<path d="M2125.1,160 L2134.1,176" stroke="#444" stroke-width="4" opacity="0.7"/>
<path d="M2052.1,178 q12,-9 24,3 t24,2" stroke="#4c4c4c" stroke-width="6" fill="none" opacity="0.5"/>
<path d="M2056.1,150 q14,-8 28,2 t26,0" stroke="#5c5c5c" stroke-width="6" fill="none" opacity="0.45"/>
<path d="M2062.1,200 q14,8 28,0 t26,4" stroke="#c0c0c0" stroke-width="9" fill="none" opacity="0.4"/>
<ellipse cx="2080.1" cy="260" rx="12" ry="6" fill="#222" opacity="0.6"/>
<ellipse cx="2082.1" cy="302" rx="16" ry="6" fill="#2a2a2a" opacity="0.5"/>
<rect x="2196.8" y="226" width="17" height="135" fill="#1e1e1e" opacity="0.6"/>
<ellipse cx="2207.8" cy="245" rx="11" ry="22" fill="#141414" opacity="0.6"/>
<ellipse cx="2205.8" cy="305" rx="9" ry="16" fill="#0c0c0c" opacity="0.65"/>
<ellipse cx="2205.8" cy="336" rx="9" ry="14" fill="#111" opacity="0.45"/>
<ellipse cx="2189.8" cy="169" rx="6.5" ry="8" fill="#1a1a1a" opacity="0.9"/>
<ellipse cx="2225.8" cy="176" rx="9" ry="4" fill="#333" opacity="0.7"/>
<ellipse cx="2142.8" cy="176" rx="9" ry="4" fill="#3a3a3a" opacity="0.6"/>
<path d="M2209.8,158 L2199.8,215" stroke="#3c3c3c" stroke-width="5" opacity="0.75"/>
<path d="M2207.8,160 L2216.8,176" stroke="#444" stroke-width="4" opacity="0.7"/>
<path d="M2134.8,178 q12,-9 24,3 t24,2" stroke="#4c4c4c" stroke-width="6" fill="none" opacity="0.5"/>
<path d="M2138.8,150 q14,-8 28,2 t26,0" stroke="#5c5c5c" stroke-width="6" fill="none" opacity="0.45"/>
<path d="M2144.8,200 q14,8 28,0 t26,4" stroke="#c0c0c0" stroke-width="9" fill="none" opacity="0.4"/>
<ellipse cx="2162.8" cy="260" rx="12" ry="6" fill="#222" opacity="0.6"/>
<ellipse cx="2164.8" cy="302" rx="16" ry="6" fill="#2a2a2a" opacity="0.5"/>
<rect x="2279.5" y="226" width="17" height="135" fill="#1e1e1e" opacity="0.6"/>
<ellipse cx="2290.5" cy="245" rx="11" ry="22" fill="#141414" opacity="0.6"/>
<ellipse cx="2288.5" cy="305" rx="9" ry="16" fill="#0c0c0c" opacity="0.65"/>
<ellipse cx="2288.5" cy="336" rx="9" ry="14" fill="#111" opacity="0.45"/>
<ellipse cx="2272.5" cy="169" rx="6.5" ry="8" fill="#1a1a1a" opacity="0.9"/>
<ellipse cx="2308.5" cy="176" rx="9" ry="4" fill="#333" opacity="0.7"/>
<ellipse cx="2225.5" cy="176" rx="9" ry="4" fill="#3a3a3a" opacity="0.6"/>
<path d="M2292.5,158 L2282.5,215" stroke="#3c3c3c" stroke-width="5" opacity="0.75"/>
<path d="M2290.5,160 L2299.5,176" stroke="#444" stroke-width="4" opacity="0.7"/>
<path d="M2217.5,178 q12,-9 24,3 t24,2" stroke="#4c4c4c" stroke-width="6" fill="none" opacity="0.5"/>
<path d="M2221.5,150 q14,-8 28,2 t26,0" stroke="#5c5c5c" stroke-width="6" fill="none" opacity="0.45"/>
<path d="M2227.5,200 q14,8 28,0 t26,4" stroke="#c0c0c0" stroke-width="9" fill="none" opacity="0.4"/>
<ellipse cx="2245.5" cy="260" rx="12" ry="6" fill="#222" opacity="0.6"/>
<ellipse cx="2247.5" cy="302" rx="16" ry="6" fill="#2a2a2a" opacity="0.5"/>
<rect x="2362.2" y="226" width="17" height="135" fill="#1e1e1e" opacity="0.6"/>
<ellipse cx="2373.2" cy="245" rx="11" ry="22" fill="#141414" opacity="0.6"/>
<ellipse cx="2371.2" cy="305" rx="9" ry="16" fill="#0c0c0c" opacity="0.65"/>
<ellipse cx="2371.2" cy="336" rx="9" ry="14" fill="#111" opacity="0.45"/>
<ellipse cx="2355.2" cy="169" rx="6.5" ry="8" fill="#1a1a1a" opacity="0.9"/>
<ellipse cx="2391.2" cy="176" rx="9" ry="4" fill="#333" opacity="0.7"/>
<ellipse cx="2308.2" cy="176" rx="9" ry="4" fill="#3a3a3a" opacity="0.6"/>
<path d="M2375.2,158 L2365.2,215" stroke="#3c3c3c" stroke-width="5" opacity="0.75"/>
<path d="M2373.2,160 L2382.2,176" stroke="#444" stroke-width="4" opacity="0.7"/>
<path d="M2300.2,178 q12,-9 24,3 t24,2" stroke="#4c4c4c" stroke-width="6" fill="none" opacity="0.5"/>
<path d="M2304.2,150 q14,-8 28,2 t26,0" stroke="#5c5c5c" stroke-width="6" fill="none" opacity="0.45"/>
<path d="M2310.2,200 q14,8 28,0 t26,4" stroke="#c0c0c0" stroke-width="9" fill="none" opacity="0.4"/>
<ellipse cx="2328.2" cy="260" rx="12" ry="6" fill="#222" opacity="0.6"/>
<ellipse cx="2330.2" cy="302" rx="16" ry="6" fill="#2a2a2a" opacity="0.5"/>
<rect x="2444.9" y="226" width="17" height="135" fill="#1e1e1e" opacity="0.6"/>
<ellipse cx="2455.9" cy="245" rx="11" ry="22" fill="#141414" opacity="0.6"/>
<ellipse cx="2453.9" cy="305" rx="9" ry="16" fill="#0c0c0c" opacity="0.65"/>
<ellipse cx="2453.9" cy="336" rx="9" ry="14" fill="#111" opacity="0.45"/>
<ellipse cx="2437.9" cy="169" rx="6.5" ry="8" fill="#1a1a1a" opacity="0.9"/>
<ellipse cx="2473.9" cy="176" rx="9" ry="4" fill="#333" opacity="0.7"/>
<ellipse cx="2390.9" cy="176" rx="9" ry="4" fill="#3a3a3a" opacity="0.6"/>
<path d="M2457.9,158 L2447.9,215" stroke="#3c3c3c" stroke-width="5" opacity="0.75"/>
<path d="M2455.9,160 L2464.9,176" stroke="#444" stroke-width="4" opacity="0.7"/>
<path d="M2382.9,178 q12,-9 24,3 t24,2" stroke="#4c4c4c" stroke-width="6" fill="none" opacity="0.5"/>
<path d="M2386.9,150 q14,-8 28,2 t26,0" stroke="#5c5c5c" stroke-width="6" fill="none" opacity="0.45"/>
<path d="M2392.9,200 q14,8 28,0 t26,4" stroke="#c0c0c0" stroke-width="9" fill="none" opacity="0.4"/>
<ellipse cx="2410.9" cy="260" rx="12" ry="6" fill="#222" opacity="0.6"/>
<ellipse cx="2412.9" cy="302" rx="16" ry="6" fill="#2a2a2a" opacity="0.5"/>
</g>
<rect x="1802" y="130" width="588" height="222" filter="url(#nzB)" opacity="0.18"/>
<rect x="1802" y="130" width="588" height="222" filter="url(#nzW)" opacity="0.14"/>
</g>
<path d="M2392,126 H1798.6 V355.3 H2392" fill="none" stroke="#4a4a4a" stroke-width="8"/>
<line x1="2114" y1="130" x2="2114" y2="366" stroke="#fff" stroke-width="4.6" stroke-dasharray="8.6 7.4"/>
<line x1="2197" y1="130" x2="2197" y2="366" stroke="#fff" stroke-width="4.6" stroke-dasharray="8.6 7.4"/>
<path d="M2130,165 H2181" stroke="#fff" stroke-width="3.6" fill="none"/>
<path d="M2118,165 l16,-5.5 v11 Z M2193,165 l-16,-5.5 v11 Z" fill="#fff"/>
<g clip-path="url(#c4)">
<rect x="1796" y="365" width="600" height="232" fill="url(#b4g)"/>
<g filter="url(#bl4)">
<path d="M1755.6,452 C1773.6,440 1780.6,425 1785.6,400 C1790.6,425 1797.6,440 1815.6,452 Z" fill="#555" opacity="0.85"/>
<rect x="1777.6" y="428" width="15" height="122" fill="#181818" opacity="0.6"/>
<rect x="1780.6" y="550" width="11" height="28" fill="#444" opacity="0.45"/>
<ellipse cx="1752.6" cy="469" rx="11" ry="8" fill="#222" opacity="0.7"/>
<ellipse cx="1752.6" cy="526" rx="13" ry="9" fill="#2a2a2a" opacity="0.6"/>
<rect x="1799.6" y="470" width="9" height="70" fill="#b0b0b0" opacity="0.5"/>
<ellipse cx="1819.0" cy="418" rx="24" ry="20" fill="#fff" opacity="0.9"/>
<path d="M1822.5,452 C1840.5,440 1847.5,425 1852.5,400 C1857.5,425 1864.5,440 1882.5,452 Z" fill="#555" opacity="0.85"/>
<rect x="1844.5" y="428" width="15" height="122" fill="#181818" opacity="0.6"/>
<rect x="1847.5" y="550" width="11" height="28" fill="#444" opacity="0.45"/>
<ellipse cx="1819.5" cy="469" rx="11" ry="8" fill="#222" opacity="0.7"/>
<ellipse cx="1819.5" cy="526" rx="13" ry="9" fill="#2a2a2a" opacity="0.6"/>
<rect x="1866.5" y="470" width="9" height="70" fill="#b0b0b0" opacity="0.5"/>
<ellipse cx="1885.9" cy="418" rx="24" ry="20" fill="#fff" opacity="0.9"/>
<path d="M1889.4,452 C1907.4,440 1914.4,425 1919.4,400 C1924.4,425 1931.4,440 1949.4,452 Z" fill="#555" opacity="0.85"/>
<rect x="1911.4" y="428" width="15" height="122" fill="#181818" opacity="0.6"/>
<rect x="1914.4" y="550" width="11" height="28" fill="#444" opacity="0.45"/>
<ellipse cx="1886.4" cy="469" rx="11" ry="8" fill="#222" opacity="0.7"/>
<ellipse cx="1886.4" cy="526" rx="13" ry="9" fill="#2a2a2a" opacity="0.6"/>
<rect x="1933.4" y="470" width="9" height="70" fill="#b0b0b0" opacity="0.5"/>
<ellipse cx="1952.8" cy="418" rx="24" ry="20" fill="#fff" opacity="0.9"/>
<path d="M1956.3,452 C1974.3,440 1981.3,425 1986.3,400 C1991.3,425 1998.3,440 2016.3,452 Z" fill="#555" opacity="0.85"/>
<rect x="1978.3" y="428" width="15" height="122" fill="#181818" opacity="0.6"/>
<rect x="1981.3" y="550" width="11" height="28" fill="#444" opacity="0.45"/>
<ellipse cx="1953.3" cy="469" rx="11" ry="8" fill="#222" opacity="0.7"/>
<ellipse cx="1953.3" cy="526" rx="13" ry="9" fill="#2a2a2a" opacity="0.6"/>
<rect x="2000.3" y="470" width="9" height="70" fill="#b0b0b0" opacity="0.5"/>
<ellipse cx="2019.7" cy="418" rx="24" ry="20" fill="#fff" opacity="0.9"/>
<path d="M2023.2,452 C2041.2,440 2048.2,425 2053.2,400 C2058.2,425 2065.2,440 2083.2,452 Z" fill="#555" opacity="0.85"/>
<rect x="2045.2" y="428" width="15" height="122" fill="#181818" opacity="0.6"/>
<rect x="2048.2" y="550" width="11" height="28" fill="#444" opacity="0.45"/>
<ellipse cx="2020.2" cy="469" rx="11" ry="8" fill="#222" opacity="0.7"/>
<ellipse cx="2020.2" cy="526" rx="13" ry="9" fill="#2a2a2a" opacity="0.6"/>
<rect x="2067.2" y="470" width="9" height="70" fill="#b0b0b0" opacity="0.5"/>
<ellipse cx="2086.6" cy="418" rx="24" ry="20" fill="#fff" opacity="0.9"/>
<path d="M2090.1,452 C2108.1,440 2115.1,425 2120.1,400 C2125.1,425 2132.1,440 2150.1,452 Z" fill="#555" opacity="0.85"/>
<rect x="2112.1" y="428" width="15" height="122" fill="#181818" opacity="0.6"/>
<rect x="2115.1" y="550" width="11" height="28" fill="#444" opacity="0.45"/>
<ellipse cx="2087.1" cy="469" rx="11" ry="8" fill="#222" opacity="0.7"/>
<ellipse cx="2087.1" cy="526" rx="13" ry="9" fill="#2a2a2a" opacity="0.6"/>
<rect x="2134.1" y="470" width="9" height="70" fill="#b0b0b0" opacity="0.5"/>
<ellipse cx="2153.5" cy="418" rx="24" ry="20" fill="#fff" opacity="0.9"/>
<path d="M2157.0,452 C2175.0,440 2182.0,425 2187.0,400 C2192.0,425 2199.0,440 2217.0,452 Z" fill="#555" opacity="0.85"/>
<rect x="2179.0" y="428" width="15" height="122" fill="#181818" opacity="0.6"/>
<rect x="2182.0" y="550" width="11" height="28" fill="#444" opacity="0.45"/>
<ellipse cx="2154.0" cy="469" rx="11" ry="8" fill="#222" opacity="0.7"/>
<ellipse cx="2154.0" cy="526" rx="13" ry="9" fill="#2a2a2a" opacity="0.6"/>
<rect x="2201.0" y="470" width="9" height="70" fill="#b0b0b0" opacity="0.5"/>
<ellipse cx="2220.4" cy="418" rx="24" ry="20" fill="#fff" opacity="0.9"/>
<path d="M2223.9,452 C2241.9,440 2248.9,425 2253.9,400 C2258.9,425 2265.9,440 2283.9,452 Z" fill="#555" opacity="0.85"/>
<rect x="2245.9" y="428" width="15" height="122" fill="#181818" opacity="0.6"/>
<rect x="2248.9" y="550" width="11" height="28" fill="#444" opacity="0.45"/>
<ellipse cx="2220.9" cy="469" rx="11" ry="8" fill="#222" opacity="0.7"/>
<ellipse cx="2220.9" cy="526" rx="13" ry="9" fill="#2a2a2a" opacity="0.6"/>
<rect x="2267.9" y="470" width="9" height="70" fill="#b0b0b0" opacity="0.5"/>
<ellipse cx="2287.3" cy="418" rx="24" ry="20" fill="#fff" opacity="0.9"/>
<path d="M2290.8,452 C2308.8,440 2315.8,425 2320.8,400 C2325.8,425 2332.8,440 2350.8,452 Z" fill="#555" opacity="0.85"/>
<rect x="2312.8" y="428" width="15" height="122" fill="#181818" opacity="0.6"/>
<rect x="2315.8" y="550" width="11" height="28" fill="#444" opacity="0.45"/>
<ellipse cx="2287.8" cy="469" rx="11" ry="8" fill="#222" opacity="0.7"/>
<ellipse cx="2287.8" cy="526" rx="13" ry="9" fill="#2a2a2a" opacity="0.6"/>
<rect x="2334.8" y="470" width="9" height="70" fill="#b0b0b0" opacity="0.5"/>
<ellipse cx="2354.2" cy="418" rx="24" ry="20" fill="#fff" opacity="0.9"/>
<path d="M2357.7,452 C2375.7,440 2382.7,425 2387.7,400 C2392.7,425 2399.7,440 2417.7,452 Z" fill="#555" opacity="0.85"/>
<rect x="2379.7" y="428" width="15" height="122" fill="#181818" opacity="0.6"/>
<rect x="2382.7" y="550" width="11" height="28" fill="#444" opacity="0.45"/>
<ellipse cx="2354.7" cy="469" rx="11" ry="8" fill="#222" opacity="0.7"/>
<ellipse cx="2354.7" cy="526" rx="13" ry="9" fill="#2a2a2a" opacity="0.6"/>
<rect x="2401.7" y="470" width="9" height="70" fill="#b0b0b0" opacity="0.5"/>
<ellipse cx="2421.1" cy="418" rx="24" ry="20" fill="#fff" opacity="0.9"/>
</g>
<rect x="1802" y="420" width="588" height="173" fill="url(#fadeV)" filter="url(#nzVm)" opacity="0.22"/>
<rect x="1802" y="371" width="588" height="222" filter="url(#nzB)" opacity="0.1"/>
</g>
<path d="M2392,367 H1798.6 V596.5 H2392" fill="none" stroke="#f7931e" stroke-width="8"/>
<line x1="2384.5" y1="363" x2="2384.5" y2="600" stroke="#f7931e" stroke-width="7"/>
<line x1="2119" y1="367" x2="2119" y2="600" stroke="#fff" stroke-width="4.6" stroke-dasharray="8.6 7.4"/>
<line x1="2186" y1="367" x2="2186" y2="600" stroke="#fff" stroke-width="4.6" stroke-dasharray="8.6 7.4"/>
<path d="M2136,398 H2169" stroke="#f4f4f4" stroke-width="3.6" fill="none"/>
<path d="M2124,398 l16,-5.5 v11 Z M2181,398 l-16,-5.5 v11 Z" fill="#f4f4f4"/>
</g>
<g id="pC">
<text font-size="50" font-weight="bold" fill="#231f20" transform="translate(1.7 881.8) scale(1.0 1.02)">C</text>
<path d="M127,954 V1448.6" stroke="#000" stroke-width="6" fill="none"/>
<path d="M114,1445.6 H750" stroke="#000" stroke-width="6" fill="none"/>
<line x1="114.0" y1="956.8" x2="127.0" y2="956.8" stroke="#000" stroke-width="6"/>
<text x="99.0" y="971.4" font-size="41.67" text-anchor="end">240</text>
<line x1="114.0" y1="1054.8" x2="127.0" y2="1054.8" stroke="#000" stroke-width="6"/>
<text x="99.0" y="1069.4" font-size="41.67" text-anchor="end">220</text>
<line x1="114.0" y1="1152.8" x2="127.0" y2="1152.8" stroke="#000" stroke-width="6"/>
<text x="99.0" y="1167.4" font-size="41.67" text-anchor="end">200</text>
<line x1="114.0" y1="1250.8" x2="127.0" y2="1250.8" stroke="#000" stroke-width="6"/>
<text x="99.0" y="1265.4" font-size="41.67" text-anchor="end">180</text>
<line x1="114.0" y1="1348.8" x2="127.0" y2="1348.8" stroke="#000" stroke-width="6"/>
<text x="99.0" y="1363.4" font-size="41.67" text-anchor="end">160</text>
<text x="99.0" y="1461.4" font-size="41.67" text-anchor="end">140</text>
<line x1="223.3" y1="1445.0" x2="223.3" y2="1459.0" stroke="#000" stroke-width="6"/>
<line x1="367.2" y1="1445.0" x2="367.2" y2="1459.0" stroke="#000" stroke-width="6"/>
<line x1="511.0" y1="1445.0" x2="511.0" y2="1459.0" stroke="#000" stroke-width="6"/>
<line x1="654.8" y1="1445.0" x2="654.8" y2="1459.0" stroke="#000" stroke-width="6"/>
<line x1="223.0" y1="937.7" x2="507.0" y2="937.7" stroke="#000" stroke-width="6"/>
<line x1="367.0" y1="1000.0" x2="660.0" y2="1000.0" stroke="#000" stroke-width="6"/>
<text x="366.8" y="936.5" font-size="50" text-anchor="middle" font-weight="bold" letter-spacing="4.6">****</text>
<text x="520.3" y="998.5" font-size="50" text-anchor="middle" font-weight="bold" letter-spacing="4.6">****</text>
<line x1="223.3" y1="1184.0" x2="223.3" y2="1307.0" stroke="#000" stroke-width="6"/>
<line x1="199.3" y1="1184.0" x2="247.3" y2="1184.0" stroke="#000" stroke-width="6" stroke-linecap="round"/>
<line x1="199.3" y1="1307.0" x2="247.3" y2="1307.0" stroke="#000" stroke-width="6" stroke-linecap="round"/>
<rect x="175.3" y="1233.0" width="96.0" height="26.0" fill="#444" stroke="#000" stroke-width="6" stroke-linejoin="miter"/>
<line x1="175.3" y1="1246.0" x2="271.3" y2="1246.0" stroke="#000" stroke-width="6"/>
<line x1="366.8" y1="1194.2" x2="366.8" y2="1307.0" stroke="#000" stroke-width="6"/>
<line x1="342.8" y1="1194.2" x2="390.8" y2="1194.2" stroke="#000" stroke-width="6" stroke-linecap="round"/>
<line x1="342.8" y1="1307.0" x2="390.8" y2="1307.0" stroke="#000" stroke-width="6" stroke-linecap="round"/>
<rect x="318.8" y="1229.0" width="96.0" height="30.0" fill="#444" stroke="#000" stroke-width="6" stroke-linejoin="miter"/>
<line x1="318.8" y1="1232.0" x2="414.8" y2="1232.0" stroke="#000" stroke-width="6"/>
<line x1="511.0" y1="1050.0" x2="511.0" y2="1160.0" stroke="#000" stroke-width="6"/>
<line x1="487.0" y1="1050.0" x2="535.0" y2="1050.0" stroke="#000" stroke-width="6" stroke-linecap="round"/>
<line x1="487.0" y1="1160.0" x2="535.0" y2="1160.0" stroke="#000" stroke-width="6" stroke-linecap="round"/>
<rect x="463.0" y="1088.6" width="96.0" height="30.1" fill="#f7931e" stroke="#000" stroke-width="6" stroke-linejoin="miter"/>
<line x1="463.0" y1="1090.0" x2="559.0" y2="1090.0" stroke="#000" stroke-width="6"/>
<line x1="654.8" y1="1019.4" x2="654.8" y2="1135.7" stroke="#000" stroke-width="6"/>
<line x1="630.8" y1="1019.4" x2="678.8" y2="1019.4" stroke="#000" stroke-width="6" stroke-linecap="round"/>
<line x1="630.8" y1="1135.7" x2="678.8" y2="1135.7" stroke="#000" stroke-width="6" stroke-linecap="round"/>
<rect x="606.8" y="1070.0" width="96.0" height="18.5" fill="#f7931e" stroke="#000" stroke-width="6" stroke-linejoin="miter"/>
<line x1="606.8" y1="1071.0" x2="702.8" y2="1071.0" stroke="#000" stroke-width="6"/>
<text x="233.0" y="1431.6" font-size="41.67">control</text>
<text x="535.0" y="1431.6" font-size="41.67">Axin1</text>
<text x="651.5" y="1416.0" font-size="40" text-anchor="middle" font-weight="bold">+</text>
<text x="227.8" y="1500.0" font-size="41.67" text-anchor="end" transform="rotate(-45 227.8 1500.0)">atrium</text>
<text x="380.2" y="1497.5" font-size="41.67" text-anchor="end" transform="rotate(-45 380.2 1497.5)">ventricle</text>
<text x="517.5" y="1500.0" font-size="41.67" text-anchor="end" transform="rotate(-45 517.5 1500.0)">atrium</text>
<text x="669.3" y="1497.5" font-size="41.67" text-anchor="end" transform="rotate(-45 669.3 1497.5)">ventricle</text>
</g>
<g id="pD">
<text font-size="50" font-weight="bold" fill="#231f20" transform="translate(1093.6 881.5) scale(1.02 1.02)">D</text>
<rect x="1255.0" y="863.8" width="43.5" height="43.0" fill="#0a2cff"/>
<rect x="1257.3" y="934.7" width="43.5" height="43.3" fill="#0b9444"/>
<text x="1340.0" y="892.0" font-size="41.67">atrium</text>
<text x="1340.0" y="966.7" font-size="41.67">ventricle</text>
<rect x="1237.1" y="1291.3" width="49.7" height="23.8" fill="#0b9444" stroke="#000" stroke-width="3"/>
<rect x="1286.8" y="1291.3" width="51.0" height="26.5" fill="#0a2cff" stroke="#000" stroke-width="3"/>
<rect x="1364.1" y="1291.3" width="50.9" height="17.2" fill="#0b9444" stroke="#000" stroke-width="3"/>
<line x1="1413.5" y1="1294.0" x2="1467.5" y2="1294.0" stroke="#000" stroke-width="3"/>
<rect x="1491.1" y="1291.3" width="51.4" height="15.2" fill="#0b9444" stroke="#000" stroke-width="3"/>
<rect x="1542.5" y="1266.1" width="49.8" height="25.2" fill="#0a2cff" stroke="#000" stroke-width="3"/>
<rect x="1618.5" y="1169.3" width="51.0" height="122.0" fill="#0b9444" stroke="#000" stroke-width="3"/>
<rect x="1669.5" y="1171.7" width="49.8" height="119.6" fill="#0a2cff" stroke="#000" stroke-width="3"/>
<rect x="1745.8" y="1124.5" width="50.4" height="166.8" fill="#0b9444" stroke="#000" stroke-width="3"/>
<rect x="1796.2" y="1116.1" width="50.0" height="175.2" fill="#0a2cff" stroke="#000" stroke-width="3"/>
<rect x="1873.0" y="1193.5" width="50.9" height="97.8" fill="#0b9444" stroke="#000" stroke-width="3"/>
<rect x="1923.9" y="1211.5" width="49.9" height="79.8" fill="#0a2cff" stroke="#000" stroke-width="3"/>
<rect x="2000.7" y="936.1" width="50.8" height="355.2" fill="#0b9444" stroke="#000" stroke-width="3"/>
<rect x="2051.5" y="970.9" width="49.2" height="320.4" fill="#0a2cff" stroke="#000" stroke-width="3"/>
<rect x="2127.5" y="1205.3" width="50.9" height="86.0" fill="#0b9444" stroke="#000" stroke-width="3"/>
<rect x="2178.4" y="1205.3" width="49.9" height="86.0" fill="#0a2cff" stroke="#000" stroke-width="3"/>
<rect x="2254.4" y="1291.3" width="50.8" height="6.0" fill="#0b9444" stroke="#000" stroke-width="3"/>
<rect x="2305.2" y="1291.3" width="50.3" height="6.0" fill="#0a2cff" stroke="#000" stroke-width="3"/>
<line x1="1211.7" y1="1291.3" x2="2383.5" y2="1291.3" stroke="#000" stroke-width="3"/>
<line x1="1261.6" y1="1289.4" x2="1261.6" y2="1344.6" stroke="#000" stroke-width="3.2"/>
<line x1="1253.8" y1="1289.4" x2="1269.4" y2="1289.4" stroke="#000" stroke-width="3.2" stroke-linecap="round"/>
<line x1="1253.8" y1="1344.6" x2="1269.4" y2="1344.6" stroke="#000" stroke-width="3.2" stroke-linecap="round"/>
<line x1="1312.9" y1="1291.3" x2="1312.9" y2="1347.3" stroke="#000" stroke-width="3.2"/>
<line x1="1305.1" y1="1291.3" x2="1320.7" y2="1291.3" stroke="#000" stroke-width="3.2" stroke-linecap="round"/>
<line x1="1305.1" y1="1347.3" x2="1320.7" y2="1347.3" stroke="#000" stroke-width="3.2" stroke-linecap="round"/>
<text x="1261.6" y="1257.0" font-size="24.5" text-anchor="middle">ns</text>
<text x="1312.9" y="1257.5" font-size="24.5" text-anchor="middle">ns</text>
<line x1="1389.0" y1="1241.6" x2="1389.0" y2="1379.6" stroke="#000" stroke-width="3.2"/>
<line x1="1381.2" y1="1241.6" x2="1396.8" y2="1241.6" stroke="#000" stroke-width="3.2" stroke-linecap="round"/>
<line x1="1381.2" y1="1379.6" x2="1396.8" y2="1379.6" stroke="#000" stroke-width="3.2" stroke-linecap="round"/>
<line x1="1440.0" y1="1225.7" x2="1440.0" y2="1364.0" stroke="#000" stroke-width="3.2"/>
<line x1="1432.2" y1="1225.7" x2="1447.8" y2="1225.7" stroke="#000" stroke-width="3.2" stroke-linecap="round"/>
<line x1="1432.2" y1="1364.0" x2="1447.8" y2="1364.0" stroke="#000" stroke-width="3.2" stroke-linecap="round"/>
<text x="1389.0" y="1209.8" font-size="24.5" text-anchor="middle">ns</text>
<text x="1440.0" y="1193.0" font-size="24.5" text-anchor="middle">ns</text>
<line x1="1516.4" y1="1196.6" x2="1516.4" y2="1419.6" stroke="#000" stroke-width="3.2"/>
<line x1="1508.6" y1="1196.6" x2="1524.2" y2="1196.6" stroke="#000" stroke-width="3.2" stroke-linecap="round"/>
<line x1="1508.6" y1="1419.6" x2="1524.2" y2="1419.6" stroke="#000" stroke-width="3.2" stroke-linecap="round"/>
<line x1="1567.0" y1="1181.4" x2="1567.0" y2="1345.8" stroke="#000" stroke-width="3.2"/>
<line x1="1559.2" y1="1181.4" x2="1574.8" y2="1181.4" stroke="#000" stroke-width="3.2" stroke-linecap="round"/>
<line x1="1559.2" y1="1345.8" x2="1574.8" y2="1345.8" stroke="#000" stroke-width="3.2" stroke-linecap="round"/>
<text x="1516.4" y="1164.7" font-size="24.5" text-anchor="middle">ns</text>
<text x="1567.0" y="1149.6" font-size="24.5" text-anchor="middle">ns</text>
<line x1="1643.0" y1="1085.9" x2="1643.0" y2="1247.5" stroke="#000" stroke-width="3.2"/>
<line x1="1635.2" y1="1085.9" x2="1650.8" y2="1085.9" stroke="#000" stroke-width="3.2" stroke-linecap="round"/>
<line x1="1635.2" y1="1247.5" x2="1650.8" y2="1247.5" stroke="#000" stroke-width="3.2" stroke-linecap="round"/>
<line x1="1694.8" y1="1097.5" x2="1694.8" y2="1241.6" stroke="#000" stroke-width="3.2"/>
<line x1="1687.0" y1="1097.5" x2="1702.6" y2="1097.5" stroke="#000" stroke-width="3.2" stroke-linecap="round"/>
<line x1="1687.0" y1="1241.6" x2="1702.6" y2="1241.6" stroke="#000" stroke-width="3.2" stroke-linecap="round"/>
<text x="1643.0" y="1053.0" font-size="24.5" text-anchor="middle">ns</text>
<text x="1694.8" y="1065.0" font-size="24.5" text-anchor="middle">ns</text>
<line x1="1770.6" y1="1067.3" x2="1770.6" y2="1176.2" stroke="#000" stroke-width="3.2"/>
<line x1="1762.8" y1="1067.3" x2="1778.4" y2="1067.3" stroke="#000" stroke-width="3.2" stroke-linecap="round"/>
<line x1="1762.8" y1="1176.2" x2="1778.4" y2="1176.2" stroke="#000" stroke-width="3.2" stroke-linecap="round"/>
<line x1="1821.7" y1="1057.7" x2="1821.7" y2="1168.6" stroke="#000" stroke-width="3.2"/>
<line x1="1813.9" y1="1057.7" x2="1829.5" y2="1057.7" stroke="#000" stroke-width="3.2" stroke-linecap="round"/>
<line x1="1813.9" y1="1168.6" x2="1829.5" y2="1168.6" stroke="#000" stroke-width="3.2" stroke-linecap="round"/>
<text x="1770.6" y="1028.5" font-size="31.5" text-anchor="middle">*</text>
<text x="1821.7" y="1018.2" font-size="31.5" text-anchor="middle">*</text>
<line x1="1897.9" y1="1134.7" x2="1897.9" y2="1247.7" stroke="#000" stroke-width="3.2"/>
<line x1="1890.1" y1="1134.7" x2="1905.7" y2="1134.7" stroke="#000" stroke-width="3.2" stroke-linecap="round"/>
<line x1="1890.1" y1="1247.7" x2="1905.7" y2="1247.7" stroke="#000" stroke-width="3.2" stroke-linecap="round"/>
<line x1="1949.0" y1="1153.0" x2="1949.0" y2="1264.5" stroke="#000" stroke-width="3.2"/>
<line x1="1941.2" y1="1153.0" x2="1956.8" y2="1153.0" stroke="#000" stroke-width="3.2" stroke-linecap="round"/>
<line x1="1941.2" y1="1264.5" x2="1956.8" y2="1264.5" stroke="#000" stroke-width="3.2" stroke-linecap="round"/>
<text x="1897.9" y="1095.5" font-size="31.5" text-anchor="middle">*</text>
<text x="1949.0" y="1122.0" font-size="24.5" text-anchor="middle">ns</text>
<line x1="2025.6" y1="900.3" x2="2025.6" y2="967.7" stroke="#000" stroke-width="3.2"/>
<line x1="2017.8" y1="900.3" x2="2033.4" y2="900.3" stroke="#000" stroke-width="3.2" stroke-linecap="round"/>
<line x1="2017.8" y1="967.7" x2="2033.4" y2="967.7" stroke="#000" stroke-width="3.2" stroke-linecap="round"/>
<line x1="2076.2" y1="938.0" x2="2076.2" y2="998.7" stroke="#000" stroke-width="3.2"/>
<line x1="2068.4" y1="938.0" x2="2084.0" y2="938.0" stroke="#000" stroke-width="3.2" stroke-linecap="round"/>
<line x1="2068.4" y1="998.7" x2="2084.0" y2="998.7" stroke="#000" stroke-width="3.2" stroke-linecap="round"/>
<text x="2025.6" y="862.1" font-size="31.5" text-anchor="middle">****</text>
<text x="2076.2" y="898.9" font-size="31.5" text-anchor="middle">****</text>
<line x1="2152.4" y1="1174.0" x2="2152.4" y2="1232.3" stroke="#000" stroke-width="3.2"/>
<line x1="2144.6" y1="1174.0" x2="2160.2" y2="1174.0" stroke="#000" stroke-width="3.2" stroke-linecap="round"/>
<line x1="2144.6" y1="1232.3" x2="2160.2" y2="1232.3" stroke="#000" stroke-width="3.2" stroke-linecap="round"/>
<line x1="2203.0" y1="1174.0" x2="2203.0" y2="1232.3" stroke="#000" stroke-width="3.2"/>
<line x1="2195.2" y1="1174.0" x2="2210.8" y2="1174.0" stroke="#000" stroke-width="3.2" stroke-linecap="round"/>
<line x1="2195.2" y1="1232.3" x2="2210.8" y2="1232.3" stroke="#000" stroke-width="3.2" stroke-linecap="round"/>
<text x="2152.4" y="1141.8" font-size="24.5" text-anchor="middle">ns</text>
<text x="2203.0" y="1134.2" font-size="31.5" text-anchor="middle">*</text>
<line x1="2279.6" y1="1259.0" x2="2279.6" y2="1339.4" stroke="#000" stroke-width="3.2"/>
<line x1="2271.8" y1="1259.0" x2="2287.4" y2="1259.0" stroke="#000" stroke-width="3.2" stroke-linecap="round"/>
<line x1="2271.8" y1="1339.4" x2="2287.4" y2="1339.4" stroke="#000" stroke-width="3.2" stroke-linecap="round"/>
<line x1="2330.3" y1="1259.0" x2="2330.3" y2="1339.4" stroke="#000" stroke-width="3.2"/>
<line x1="2322.5" y1="1259.0" x2="2338.1" y2="1259.0" stroke="#000" stroke-width="3.2" stroke-linecap="round"/>
<line x1="2322.5" y1="1339.4" x2="2338.1" y2="1339.4" stroke="#000" stroke-width="3.2" stroke-linecap="round"/>
<text x="2279.6" y="1226.8" font-size="24.5" text-anchor="middle">ns</text>
<text x="2330.3" y="1226.8" font-size="24.5" text-anchor="middle">ns</text>
<path d="M1211.7,877.4 V1447" stroke="#000" stroke-width="5.6" fill="none"/>
<path d="M1208.9,1444.3 H2383.5" stroke="#000" stroke-width="5.6" fill="none"/>
<line x1="1198.0" y1="902.2" x2="1211.7" y2="902.2" stroke="#000" stroke-width="5.6"/>
<text x="1186.5" y="911.9" font-size="41.67" text-anchor="end">15</text>
<line x1="1198.0" y1="1031.8" x2="1211.7" y2="1031.8" stroke="#000" stroke-width="5.6"/>
<text x="1186.5" y="1041.5" font-size="41.67" text-anchor="end">10</text>
<line x1="1198.0" y1="1161.4" x2="1211.7" y2="1161.4" stroke="#000" stroke-width="5.6"/>
<text x="1186.5" y="1171.1" font-size="41.67" text-anchor="end">5</text>
<line x1="1198.0" y1="1291.0" x2="1211.7" y2="1291.0" stroke="#000" stroke-width="5.6"/>
<text x="1186.5" y="1300.7" font-size="41.67" text-anchor="end">0</text>
<line x1="1198.0" y1="1420.6" x2="1211.7" y2="1420.6" stroke="#000" stroke-width="5.6"/>
<text x="1186.5" y="1430.3" font-size="41.67" text-anchor="end">-5</text>
<line x1="1279.0" y1="1444.0" x2="1279.0" y2="1456.0" stroke="#000" stroke-width="5.6"/>
<text x="1267.4" y="1489.0" font-size="41" text-anchor="end" transform="rotate(-45 1267.4 1489.0)">12som</text>
<line x1="1407.2" y1="1444.0" x2="1407.2" y2="1456.0" stroke="#000" stroke-width="5.6"/>
<text x="1392.5" y="1493.5" font-size="41" text-anchor="end" transform="rotate(-45 1392.5 1493.5)">24hpf</text>
<line x1="1535.4" y1="1444.0" x2="1535.4" y2="1456.0" stroke="#000" stroke-width="5.6"/>
<text x="1526.8" y="1493.5" font-size="41" text-anchor="end" transform="rotate(-45 1526.8 1493.5)">28hpf</text>
<line x1="1663.6" y1="1444.0" x2="1663.6" y2="1456.0" stroke="#000" stroke-width="5.6"/>
<text x="1661.0" y="1493.5" font-size="41" text-anchor="end" transform="rotate(-45 1661.0 1493.5)">32hpf</text>
<line x1="1791.8" y1="1444.0" x2="1791.8" y2="1456.0" stroke="#000" stroke-width="5.6"/>
<text x="1795.3" y="1493.5" font-size="41" text-anchor="end" transform="rotate(-45 1795.3 1493.5)">36hpf</text>
<line x1="1920.0" y1="1444.0" x2="1920.0" y2="1456.0" stroke="#000" stroke-width="5.6"/>
<text x="1929.6" y="1493.5" font-size="41" text-anchor="end" transform="rotate(-45 1929.6 1493.5)">48hpf</text>
<line x1="2048.2" y1="1444.0" x2="2048.2" y2="1456.0" stroke="#000" stroke-width="5.6"/>
<text x="2063.8" y="1493.5" font-size="41" text-anchor="end" transform="rotate(-45 2063.8 1493.5)">52hpf</text>
<line x1="2176.4" y1="1444.0" x2="2176.4" y2="1456.0" stroke="#000" stroke-width="5.6"/>
<text x="2198.1" y="1493.5" font-size="41" text-anchor="end" transform="rotate(-45 2198.1 1493.5)">56hpf</text>
<line x1="2304.6" y1="1444.0" x2="2304.6" y2="1456.0" stroke="#000" stroke-width="5.6"/>
<text x="2332.4" y="1493.5" font-size="41" text-anchor="end" transform="rotate(-45 2332.4 1493.5)">72hpf</text>
<text x="1651.5" y="1636.0" font-size="41" text-anchor="middle">start of doxycycline treatment</text>
<text x="1121.0" y="1160.2" font-size="41.67" text-anchor="middle" transform="rotate(-90 1121.0 1160.2)">Δ heart rate in %</text>
</g>
<g id="pE">
<text font-size="50" font-weight="bold" fill="#231f20" transform="translate(0.2 1750.4) scale(1.02 1.02)">E</text>
<text x="445.0" y="1773.5" font-size="50.5" text-anchor="middle">atrium</text>
<line x1="445.7" y1="1812.8" x2="445.7" y2="2314.0" stroke="#999" stroke-width="8" stroke-dasharray="31.6 31.6" stroke-dashoffset="13.6"/>
<path d="M156.5,1812.8 V2321.5" stroke="#000" stroke-width="7" fill="none"/>
<path d="M153,2318.0 H709" stroke="#000" stroke-width="7" fill="none"/>
<line x1="143.5" y1="1817.3" x2="156.5" y2="1817.3" stroke="#000" stroke-width="7"/>
<text x="136.0" y="1831.9" font-size="41.67" text-anchor="end">220</text>
<line x1="143.5" y1="1928.3" x2="156.5" y2="1928.3" stroke="#000" stroke-width="7"/>
<text x="136.0" y="1942.9" font-size="41.67" text-anchor="end">200</text>
<line x1="143.5" y1="2039.3" x2="156.5" y2="2039.3" stroke="#000" stroke-width="7"/>
<text x="136.0" y="2053.9" font-size="41.67" text-anchor="end">180</text>
<line x1="143.5" y1="2150.3" x2="156.5" y2="2150.3" stroke="#000" stroke-width="7"/>
<text x="136.0" y="2164.9" font-size="41.67" text-anchor="end">160</text>
<line x1="143.5" y1="2261.3" x2="156.5" y2="2261.3" stroke="#000" stroke-width="7"/>
<text x="136.0" y="2275.9" font-size="41.67" text-anchor="end">140</text>
<line x1="219.7" y1="2318.0" x2="219.7" y2="2333.0" stroke="#000" stroke-width="7"/>
<line x1="344.4" y1="2318.0" x2="344.4" y2="2333.0" stroke="#000" stroke-width="7"/>
<line x1="546.8" y1="2318.0" x2="546.8" y2="2333.0" stroke="#000" stroke-width="7"/>
<line x1="672.2" y1="2318.0" x2="672.2" y2="2333.0" stroke="#000" stroke-width="7"/>
<text x="39.0" y="2042.7" font-size="40.3" text-anchor="middle" transform="rotate(-90 39.0 2042.7)">heart rate in bpm</text>
<line x1="236.8" y1="1955.0" x2="325.7" y2="1963.0" stroke="#f7931e" stroke-width="6.5" stroke-linecap="round"/>
<line x1="230.0" y1="2051.9" x2="334.7" y2="2220.0" stroke="#4a4a4a" stroke-width="6.5" stroke-linecap="round"/>
<line x1="561.6" y1="1975.0" x2="657.7" y2="1904.0" stroke="#f7931e" stroke-width="6.5" stroke-linecap="round"/>
<line x1="564.0" y1="2066.0" x2="655.0" y2="2021.0" stroke="#4a4a4a" stroke-width="6.5" stroke-linecap="round"/>
<line x1="218.8" y1="1939.0" x2="218.8" y2="1966.0" stroke="#000" stroke-width="6.5"/>
<line x1="207.3" y1="1939.0" x2="230.3" y2="1939.0" stroke="#000" stroke-width="6.5"/>
<line x1="207.3" y1="1966.0" x2="230.3" y2="1966.0" stroke="#000" stroke-width="6.5"/>
<rect x="207.8" y="1942.5" width="22.0" height="22.0" fill="#f7931e"/>
<line x1="344.2" y1="1931.0" x2="344.2" y2="1997.7" stroke="#000" stroke-width="6.5"/>
<line x1="332.7" y1="1931.0" x2="355.7" y2="1931.0" stroke="#000" stroke-width="6.5"/>
<line x1="332.7" y1="1997.7" x2="355.7" y2="1997.7" stroke="#000" stroke-width="6.5"/>
<rect x="333.2" y="1953.8" width="22.0" height="22.0" fill="#f7931e"/>
<line x1="546.8" y1="1962.5" x2="546.8" y2="2013.5" stroke="#000" stroke-width="6.5"/>
<line x1="535.3" y1="1962.5" x2="558.3" y2="1962.5" stroke="#000" stroke-width="6.5"/>
<line x1="535.3" y1="2013.5" x2="558.3" y2="2013.5" stroke="#000" stroke-width="6.5"/>
<rect x="535.8" y="1976.4" width="22.0" height="22.0" fill="#f7931e"/>
<line x1="672.2" y1="1845.0" x2="672.2" y2="1937.7" stroke="#000" stroke-width="6.5"/>
<line x1="660.7" y1="1845.0" x2="683.7" y2="1845.0" stroke="#000" stroke-width="6.5"/>
<line x1="660.7" y1="1937.7" x2="683.7" y2="1937.7" stroke="#000" stroke-width="6.5"/>
<rect x="661.2" y="1881.6" width="22.0" height="22.0" fill="#f7931e"/>
<line x1="219.7" y1="2012.6" x2="219.7" y2="2054.0" stroke="#000" stroke-width="6.5"/>
<line x1="205.7" y1="2012.6" x2="233.7" y2="2012.6" stroke="#000" stroke-width="6.5"/>
<line x1="205.7" y1="2054.0" x2="233.7" y2="2054.0" stroke="#000" stroke-width="6.5"/>
<circle cx="219.7" cy="2034.3" r="10.3" fill="#4a4a4a"/>
<line x1="344.6" y1="2191.7" x2="344.6" y2="2283.3" stroke="#000" stroke-width="6.5"/>
<line x1="330.6" y1="2191.7" x2="358.6" y2="2191.7" stroke="#000" stroke-width="6.5"/>
<line x1="330.6" y1="2283.3" x2="358.6" y2="2283.3" stroke="#000" stroke-width="6.5"/>
<circle cx="344.6" cy="2237.7" r="10.3" fill="#4a4a4a"/>
<line x1="546.8" y1="2056.0" x2="546.8" y2="2093.4" stroke="#000" stroke-width="6.5"/>
<line x1="532.8" y1="2056.0" x2="560.8" y2="2056.0" stroke="#000" stroke-width="6.5"/>
<line x1="532.8" y1="2093.4" x2="560.8" y2="2093.4" stroke="#000" stroke-width="6.5"/>
<circle cx="546.8" cy="2074.4" r="10.3" fill="#4a4a4a"/>
<line x1="672.2" y1="1989.6" x2="672.2" y2="2034.7" stroke="#000" stroke-width="6.5"/>
<line x1="658.2" y1="1989.6" x2="686.2" y2="1989.6" stroke="#000" stroke-width="6.5"/>
<line x1="658.2" y1="2034.7" x2="686.2" y2="2034.7" stroke="#000" stroke-width="6.5"/>
<circle cx="672.2" cy="2012.0" r="10.3" fill="#4a4a4a"/>
<text x="285.0" y="1949.0" font-size="41" text-anchor="middle" font-style="italic" fill="#2b2b2b" transform="rotate(5 285.0 1949.0)">ns</text>
<text x="275.3" y="2141.1" font-size="44" text-anchor="middle" fill="#2b2b2b" transform="rotate(58 275.3 2141.1)">***</text>
<text x="612.7" y="1948.1" font-size="44" text-anchor="middle" fill="#2b2b2b" transform="rotate(-36.5 612.7 1948.1)">**</text>
<text x="614.8" y="2052.0" font-size="44" text-anchor="middle" fill="#2b2b2b" transform="rotate(-26.3 614.8 2052.0)">****</text>
<rect x="794.5" y="1909.4" width="40.0" height="40.0" fill="#f7931e"/>
<text x="855.0" y="1921.4" font-size="40.4">Axin1</text>
<text x="971.0" y="1904.5" font-size="41" text-anchor="middle" stroke="#000" stroke-width="0.8">+</text>
<text x="855.0" y="1971.6" font-size="40.4">@52hpf</text>
<circle cx="814.5" cy="2179.6" r="20" fill="#4a4a4a"/>
<text x="855.0" y="2165.3" font-size="40.4">control</text>
<text x="855.0" y="2215.2" font-size="40.4">sibling</text>
<text x="208.4" y="2360.5" font-size="41.67" text-anchor="end" transform="rotate(-45 208.4 2360.5)">baseline</text>
<text x="339.8" y="2363.5" font-size="41.67" text-anchor="end" transform="rotate(-45 339.8 2363.5)">+ carbachol</text>
<text x="538.8" y="2360.5" font-size="41.67" text-anchor="end" transform="rotate(-45 538.8 2360.5)">baseline</text>
<text x="673.7" y="2359.8" font-size="41.67" text-anchor="end" transform="rotate(-45 673.7 2359.8)">+ isoproterenol</text>
</g>
<g id="pF">
<text font-size="50" font-weight="bold" fill="#231f20" transform="translate(1.8 2589.0) scale(1.02 1.02)">F</text>
<text x="443.0" y="2635.6" font-size="50.5" text-anchor="middle">ventricle</text>
<line x1="445.7" y1="2701.0" x2="445.7" y2="3205.0" stroke="#999" stroke-width="8" stroke-dasharray="31.6 31.6" stroke-dashoffset="14.6"/>
<path d="M156.5,2652.8 V3210.9" stroke="#000" stroke-width="7" fill="none"/>
<path d="M153,3207.4 H709" stroke="#000" stroke-width="7" fill="none"/>
<line x1="143.5" y1="2657.3" x2="156.5" y2="2657.3" stroke="#000" stroke-width="7"/>
<text x="136.0" y="2671.9" font-size="41.67" text-anchor="end">220</text>
<line x1="143.5" y1="2779.8" x2="156.5" y2="2779.8" stroke="#000" stroke-width="7"/>
<text x="136.0" y="2794.4" font-size="41.67" text-anchor="end">200</text>
<line x1="143.5" y1="2902.3" x2="156.5" y2="2902.3" stroke="#000" stroke-width="7"/>
<text x="136.0" y="2916.9" font-size="41.67" text-anchor="end">180</text>
<line x1="143.5" y1="3024.8" x2="156.5" y2="3024.8" stroke="#000" stroke-width="7"/>
<text x="136.0" y="3039.4" font-size="41.67" text-anchor="end">160</text>
<line x1="143.5" y1="3147.3" x2="156.5" y2="3147.3" stroke="#000" stroke-width="7"/>
<text x="136.0" y="3161.9" font-size="41.67" text-anchor="end">140</text>
<line x1="219.7" y1="3207.4" x2="219.7" y2="3222.4" stroke="#000" stroke-width="7"/>
<line x1="365.4" y1="3207.4" x2="365.4" y2="3222.4" stroke="#000" stroke-width="7"/>
<line x1="546.8" y1="3207.4" x2="546.8" y2="3222.4" stroke="#000" stroke-width="7"/>
<line x1="672.2" y1="3207.4" x2="672.2" y2="3222.4" stroke="#000" stroke-width="7"/>
<text x="39.0" y="2932.8" font-size="40.3" text-anchor="middle" transform="rotate(-90 39.0 2932.8)">heart rate in bpm</text>
<line x1="243.6" y1="2827.4" x2="346.5" y2="2823.8" stroke="#f7931e" stroke-width="6.5" stroke-linecap="round"/>
<line x1="240.0" y1="2930.0" x2="353.2" y2="3107.2" stroke="#4a4a4a" stroke-width="6.5" stroke-linecap="round"/>
<line x1="566.0" y1="2834.0" x2="653.0" y2="2754.0" stroke="#f7931e" stroke-width="6.5" stroke-linecap="round"/>
<line x1="566.0" y1="2932.5" x2="656.4" y2="2885.0" stroke="#4a4a4a" stroke-width="6.5" stroke-linecap="round"/>
<line x1="219.7" y1="2812.0" x2="219.7" y2="2845.9" stroke="#000" stroke-width="6.5"/>
<line x1="208.2" y1="2812.0" x2="231.2" y2="2812.0" stroke="#000" stroke-width="6.5"/>
<line x1="208.2" y1="2845.9" x2="231.2" y2="2845.9" stroke="#000" stroke-width="6.5"/>
<rect x="208.7" y="2817.7" width="22.0" height="22.0" fill="#f7931e"/>
<line x1="364.5" y1="2789.0" x2="364.5" y2="2856.7" stroke="#000" stroke-width="6.5"/>
<line x1="353.0" y1="2789.0" x2="376.0" y2="2789.0" stroke="#000" stroke-width="6.5"/>
<line x1="353.0" y1="2856.7" x2="376.0" y2="2856.7" stroke="#000" stroke-width="6.5"/>
<rect x="353.5" y="2812.3" width="22.0" height="22.0" fill="#f7931e"/>
<line x1="546.8" y1="2818.3" x2="546.8" y2="2877.4" stroke="#000" stroke-width="6.5"/>
<line x1="535.3" y1="2818.3" x2="558.3" y2="2818.3" stroke="#000" stroke-width="6.5"/>
<line x1="535.3" y1="2877.4" x2="558.3" y2="2877.4" stroke="#000" stroke-width="6.5"/>
<rect x="535.8" y="2837.0" width="22.0" height="22.0" fill="#f7931e"/>
<line x1="672.2" y1="2690.2" x2="672.2" y2="2791.3" stroke="#000" stroke-width="6.5"/>
<line x1="660.7" y1="2690.2" x2="683.7" y2="2690.2" stroke="#000" stroke-width="6.5"/>
<line x1="660.7" y1="2791.3" x2="683.7" y2="2791.3" stroke="#000" stroke-width="6.5"/>
<rect x="661.2" y="2729.7" width="22.0" height="22.0" fill="#f7931e"/>
<line x1="219.7" y1="2886.3" x2="219.7" y2="2927.4" stroke="#000" stroke-width="6.5"/>
<line x1="205.7" y1="2886.3" x2="233.7" y2="2886.3" stroke="#000" stroke-width="6.5"/>
<line x1="205.7" y1="2927.4" x2="233.7" y2="2927.4" stroke="#000" stroke-width="6.5"/>
<circle cx="219.7" cy="2906.6" r="10.3" fill="#4a4a4a"/>
<line x1="365.4" y1="3071.0" x2="365.4" y2="3172.6" stroke="#000" stroke-width="6.5"/>
<line x1="351.4" y1="3071.0" x2="379.4" y2="3071.0" stroke="#000" stroke-width="6.5"/>
<line x1="351.4" y1="3172.6" x2="379.4" y2="3172.6" stroke="#000" stroke-width="6.5"/>
<circle cx="365.4" cy="3121.6" r="10.3" fill="#4a4a4a"/>
<line x1="546.8" y1="2922.0" x2="546.8" y2="2962.9" stroke="#000" stroke-width="6.5"/>
<line x1="532.8" y1="2922.0" x2="560.8" y2="2922.0" stroke="#000" stroke-width="6.5"/>
<line x1="532.8" y1="2962.9" x2="560.8" y2="2962.9" stroke="#000" stroke-width="6.5"/>
<circle cx="546.8" cy="2942.0" r="10.3" fill="#4a4a4a"/>
<line x1="672.2" y1="2849.0" x2="672.2" y2="2897.7" stroke="#000" stroke-width="6.5"/>
<line x1="658.2" y1="2849.0" x2="686.2" y2="2849.0" stroke="#000" stroke-width="6.5"/>
<line x1="658.2" y1="2897.7" x2="686.2" y2="2897.7" stroke="#000" stroke-width="6.5"/>
<circle cx="672.2" cy="2873.8" r="10.3" fill="#4a4a4a"/>
<text x="291.0" y="2809.3" font-size="41" text-anchor="middle" fill="#2b2b2b" transform="rotate(0 291.0 2809.3)">ns</text>
<text x="287.7" y="3013.4" font-size="44" text-anchor="middle" fill="#2b2b2b" transform="rotate(57.4 287.7 3013.4)">***</text>
<text x="618.1" y="2788.6" font-size="44" text-anchor="middle" fill="#2b2b2b" transform="rotate(-42.6 618.1 2788.6)">*</text>
<text x="613.8" y="2914.4" font-size="44" text-anchor="middle" fill="#2b2b2b" transform="rotate(-27.7 613.8 2914.4)">****</text>
<rect x="794.5" y="2792.7" width="40.0" height="40.0" fill="#f7931e"/>
<text x="855.0" y="2804.7" font-size="40.4">Axin1</text>
<text x="971.0" y="2787.8" font-size="41" text-anchor="middle" stroke="#000" stroke-width="0.8">+</text>
<text x="855.0" y="2854.9" font-size="40.4">@52hpf</text>
<circle cx="814.5" cy="3062.9" r="20" fill="#4a4a4a"/>
<text x="855.0" y="3048.6" font-size="40.4">control</text>
<text x="855.0" y="3098.5" font-size="40.4">sibling</text>
<text x="210.2" y="3269.0" font-size="41.67" text-anchor="end" transform="rotate(-45 210.2 3269.0)">baseline</text>
<text x="341.1" y="3266.0" font-size="41.67" text-anchor="end" transform="rotate(-45 341.1 3266.0)">+ carbachol</text>
<text x="537.3" y="3269.0" font-size="41.67" text-anchor="end" transform="rotate(-45 537.3 3269.0)">baseline</text>
<text x="669.8" y="3262.0" font-size="41.67" text-anchor="end" transform="rotate(-45 669.8 3262.0)">+ isoproterenol</text>
</g>
<g id="pG">
<text font-size="50" font-weight="bold" fill="#231f20" transform="translate(1120.3 1751.6) scale(1.0 1.02)">G</text>
<g clip-path="url(#barrelClip)">
<g opacity="0.5">
<path d="M1393.2,1985.2 L1401.1,1989.6 L1409.5,1994.0 L1418.3,1998.2 L1427.5,2002.2 L1437.2,2006.1 L1447.2,2009.8 L1457.6,2013.3 L1468.4,2016.6 Q1472.9,2017.9 1471.5,2022.7 L1468.7,2032.7 Q1467.3,2037.5 1462.6,2036.2 L1451.4,2032.7 L1440.4,2029.0 L1429.9,2025.1 L1419.6,2021.0 L1409.8,2016.7 L1400.4,2012.2 L1391.4,2007.6 L1382.8,2002.7 Q1379.4,2000.7 1382.1,1996.4 L1387.5,1987.5 Q1390.1,1983.3 1393.2,1985.2 Z" fill="url(#cg)" stroke="#9e9e9e" stroke-width="2.1" stroke-linejoin="round"/>
<path d="M1479.0,2019.6 L1490.4,2022.5 L1502.1,2025.2 L1514.0,2027.7 L1526.2,2030.0 L1538.6,2032.0 L1551.2,2033.9 L1564.0,2035.4 L1576.9,2036.8 Q1582.2,2037.2 1581.8,2042.2 L1580.9,2052.6 Q1580.5,2057.6 1575.0,2057.1 L1561.7,2055.7 L1548.5,2054.1 L1535.5,2052.2 L1522.7,2050.1 L1510.1,2047.7 L1497.7,2045.1 L1485.5,2042.3 L1473.7,2039.3 Q1468.9,2038.0 1470.3,2033.2 L1473.1,2023.1 Q1474.4,2018.3 1479.0,2019.6 Z" fill="url(#cg)" stroke="#9e9e9e" stroke-width="2.1" stroke-linejoin="round"/>
<path d="M1589.4,2037.8 L1602.5,2038.7 L1615.7,2039.3 L1629.0,2039.7 L1642.3,2039.8 L1655.6,2039.7 L1668.9,2039.3 L1682.1,2038.7 L1695.2,2037.8 Q1700.6,2037.4 1701.0,2042.4 L1701.8,2052.7 Q1702.2,2057.7 1696.7,2058.2 L1683.2,2059.1 L1669.6,2059.7 L1656.0,2060.1 L1642.3,2060.2 L1628.6,2060.1 L1615.0,2059.7 L1601.4,2059.1 L1587.9,2058.2 Q1582.4,2057.7 1582.8,2052.7 L1583.6,2042.4 Q1584.0,2037.4 1589.4,2037.8 Z" fill="url(#cg)" stroke="#9e9e9e" stroke-width="2.1" stroke-linejoin="round"/>
<path d="M1707.7,2036.8 L1720.6,2035.4 L1733.4,2033.9 L1746.0,2032.0 L1758.4,2030.0 L1770.6,2027.7 L1782.5,2025.2 L1794.2,2022.5 L1805.6,2019.6 Q1810.2,2018.3 1811.5,2023.1 L1814.3,2033.2 Q1815.7,2038.0 1810.9,2039.3 L1799.1,2042.3 L1786.9,2045.1 L1774.5,2047.7 L1761.9,2050.1 L1749.1,2052.2 L1736.1,2054.1 L1722.9,2055.7 L1709.6,2057.1 Q1704.1,2057.6 1703.7,2052.6 L1702.8,2042.2 Q1702.4,2037.2 1707.7,2036.8 Z" fill="url(#cg)" stroke="#9e9e9e" stroke-width="2.1" stroke-linejoin="round"/>
<path d="M1816.2,2016.6 L1827.0,2013.3 L1837.4,2009.8 L1847.4,2006.1 L1857.1,2002.2 L1866.3,1998.2 L1875.1,1994.0 L1883.5,1989.6 L1891.4,1985.2 Q1894.5,1983.3 1897.1,1987.5 L1902.5,1996.4 Q1905.2,2000.7 1901.8,2002.7 L1893.2,2007.6 L1884.2,2012.2 L1874.8,2016.7 L1865.0,2021.0 L1854.7,2025.1 L1844.2,2029.0 L1833.2,2032.7 L1822.0,2036.2 Q1817.3,2037.5 1815.9,2032.7 L1813.1,2022.7 Q1811.7,2017.9 1816.2,2016.6 Z" fill="url(#cg)" stroke="#9e9e9e" stroke-width="2.1" stroke-linejoin="round"/>
<ellipse cx="1423.6" cy="2011.6" rx="10.6" ry="8.7" transform="rotate(22.7 1423.6 2011.6)" fill="url(#ng)" stroke="#9d9d9d" stroke-width="1.7"/>
<ellipse cx="1524.4" cy="2040.0" rx="10.6" ry="8.7" transform="rotate(10.0 1524.4 2040.0)" fill="url(#ng)" stroke="#9d9d9d" stroke-width="1.7"/>
<ellipse cx="1642.3" cy="2050.0" rx="10.6" ry="8.7" transform="rotate(-0.0 1642.3 2050.0)" fill="url(#ng)" stroke="#9d9d9d" stroke-width="1.7"/>
<ellipse cx="1760.2" cy="2040.0" rx="10.6" ry="8.7" transform="rotate(-10.0 1760.2 2040.0)" fill="url(#ng)" stroke="#9d9d9d" stroke-width="1.7"/>
<ellipse cx="1861.0" cy="2011.6" rx="10.6" ry="8.7" transform="rotate(-22.7 1861.0 2011.6)" fill="url(#ng)" stroke="#9d9d9d" stroke-width="1.7"/>
<path d="M1432.1,2026.1 L1441.9,2029.9 L1452.1,2033.5 L1462.7,2036.9 L1473.7,2040.1 L1484.9,2043.1 L1496.4,2046.0 L1508.3,2048.6 L1520.3,2050.9 Q1525.3,2051.8 1524.5,2056.8 L1522.7,2067.0 Q1521.8,2071.9 1516.6,2071.0 L1504.1,2068.5 L1491.8,2065.8 L1479.8,2062.9 L1468.1,2059.8 L1456.7,2056.4 L1445.6,2052.8 L1434.9,2049.0 L1424.5,2045.0 Q1420.3,2043.3 1422.3,2038.7 L1426.3,2029.1 Q1428.2,2024.5 1432.1,2026.1 Z" fill="url(#cg)" stroke="#9e9e9e" stroke-width="2.1" stroke-linejoin="round"/>
<path d="M1532.1,2053.0 L1544.6,2054.9 L1557.3,2056.6 L1570.1,2058.1 L1583.1,2059.3 L1596.2,2060.3 L1609.4,2061.0 L1622.7,2061.5 L1635.9,2061.8 Q1641.4,2061.8 1641.4,2066.8 L1641.4,2077.2 Q1641.3,2082.2 1635.8,2082.2 L1622.1,2081.9 L1608.5,2081.4 L1594.9,2080.7 L1581.4,2079.7 L1568.0,2078.4 L1554.8,2076.9 L1541.7,2075.1 L1528.8,2073.1 Q1523.6,2072.2 1524.4,2067.3 L1526.2,2057.1 Q1527.1,2052.1 1532.1,2053.0 Z" fill="url(#cg)" stroke="#9e9e9e" stroke-width="2.1" stroke-linejoin="round"/>
<path d="M1648.7,2061.8 L1661.9,2061.5 L1675.2,2061.0 L1688.4,2060.3 L1701.5,2059.3 L1714.5,2058.1 L1727.3,2056.6 L1740.0,2054.9 L1752.5,2053.0 Q1757.5,2052.1 1758.4,2057.1 L1760.2,2067.3 Q1761.0,2072.2 1755.8,2073.1 L1742.9,2075.1 L1729.8,2076.9 L1716.6,2078.4 L1703.2,2079.7 L1689.7,2080.7 L1676.1,2081.4 L1662.5,2081.9 L1648.8,2082.2 Q1643.3,2082.2 1643.2,2077.2 L1643.2,2066.8 Q1643.2,2061.8 1648.7,2061.8 Z" fill="url(#cg)" stroke="#9e9e9e" stroke-width="2.1" stroke-linejoin="round"/>
<path d="M1764.3,2050.9 L1776.3,2048.6 L1788.2,2046.0 L1799.7,2043.1 L1810.9,2040.1 L1821.9,2036.9 L1832.5,2033.5 L1842.7,2029.9 L1852.5,2026.1 Q1856.4,2024.5 1858.3,2029.1 L1862.3,2038.7 Q1864.3,2043.3 1860.1,2045.0 L1849.7,2049.0 L1839.0,2052.8 L1827.9,2056.4 L1816.5,2059.8 L1804.8,2062.9 L1792.8,2065.8 L1780.5,2068.5 L1768.0,2071.0 Q1762.8,2071.9 1761.9,2067.0 L1760.1,2056.8 Q1759.3,2051.8 1764.3,2050.9 Z" fill="url(#cg)" stroke="#9e9e9e" stroke-width="2.1" stroke-linejoin="round"/>
<ellipse cx="1470.9" cy="2049.9" rx="10.6" ry="8.7" transform="rotate(15.7 1470.9 2049.9)" fill="url(#ng)" stroke="#9d9d9d" stroke-width="1.7"/>
<ellipse cx="1582.3" cy="2069.5" rx="10.6" ry="8.7" transform="rotate(4.8 1582.3 2069.5)" fill="url(#ng)" stroke="#9d9d9d" stroke-width="1.7"/>
<ellipse cx="1702.3" cy="2069.5" rx="10.6" ry="8.7" transform="rotate(-4.8 1702.3 2069.5)" fill="url(#ng)" stroke="#9d9d9d" stroke-width="1.7"/>
<ellipse cx="1813.7" cy="2049.9" rx="10.6" ry="8.7" transform="rotate(-15.7 1813.7 2049.9)" fill="url(#ng)" stroke="#9d9d9d" stroke-width="1.7"/>
</g><g opacity="0.5">
<path d="M1393.2,2029.2 L1401.1,2033.6 L1409.5,2038.0 L1418.3,2042.2 L1427.5,2046.2 L1437.2,2050.1 L1447.2,2053.8 L1457.6,2057.3 L1468.4,2060.6 Q1472.9,2061.9 1471.5,2066.7 L1468.7,2076.7 Q1467.3,2081.5 1462.6,2080.2 L1451.4,2076.7 L1440.4,2073.0 L1429.9,2069.1 L1419.6,2065.0 L1409.8,2060.7 L1400.4,2056.2 L1391.4,2051.6 L1382.8,2046.7 Q1379.4,2044.7 1382.1,2040.4 L1387.5,2031.5 Q1390.1,2027.3 1393.2,2029.2 Z" fill="url(#cgr)" stroke="#9e9e9e" stroke-width="2.1" stroke-linejoin="round"/>
<path d="M1479.0,2063.6 L1490.4,2066.5 L1502.1,2069.2 L1514.0,2071.7 L1526.2,2074.0 L1538.6,2076.0 L1551.2,2077.9 L1564.0,2079.4 L1576.9,2080.8 Q1582.2,2081.2 1581.8,2086.2 L1580.9,2096.6 Q1580.5,2101.6 1575.0,2101.1 L1561.7,2099.7 L1548.5,2098.1 L1535.5,2096.2 L1522.7,2094.1 L1510.1,2091.7 L1497.7,2089.1 L1485.5,2086.3 L1473.7,2083.3 Q1468.9,2082.0 1470.3,2077.2 L1473.1,2067.1 Q1474.4,2062.3 1479.0,2063.6 Z" fill="url(#cgr)" stroke="#9e9e9e" stroke-width="2.1" stroke-linejoin="round"/>
<path d="M1589.4,2081.8 L1602.5,2082.7 L1615.7,2083.3 L1629.0,2083.7 L1642.3,2083.8 L1655.6,2083.7 L1668.9,2083.3 L1682.1,2082.7 L1695.2,2081.8 Q1700.6,2081.4 1701.0,2086.4 L1701.8,2096.7 Q1702.2,2101.7 1696.7,2102.2 L1683.2,2103.1 L1669.6,2103.7 L1656.0,2104.1 L1642.3,2104.2 L1628.6,2104.1 L1615.0,2103.7 L1601.4,2103.1 L1587.9,2102.2 Q1582.4,2101.7 1582.8,2096.7 L1583.6,2086.4 Q1584.0,2081.4 1589.4,2081.8 Z" fill="url(#cgr)" stroke="#9e9e9e" stroke-width="2.1" stroke-linejoin="round"/>
<path d="M1707.7,2080.8 L1720.6,2079.4 L1733.4,2077.9 L1746.0,2076.0 L1758.4,2074.0 L1770.6,2071.7 L1782.5,2069.2 L1794.2,2066.5 L1805.6,2063.6 Q1810.2,2062.3 1811.5,2067.1 L1814.3,2077.2 Q1815.7,2082.0 1810.9,2083.3 L1799.1,2086.3 L1786.9,2089.1 L1774.5,2091.7 L1761.9,2094.1 L1749.1,2096.2 L1736.1,2098.1 L1722.9,2099.7 L1709.6,2101.1 Q1704.1,2101.6 1703.7,2096.6 L1702.8,2086.2 Q1702.4,2081.2 1707.7,2080.8 Z" fill="url(#cgr)" stroke="#9e9e9e" stroke-width="2.1" stroke-linejoin="round"/>
<path d="M1816.2,2060.6 L1827.0,2057.3 L1837.4,2053.8 L1847.4,2050.1 L1857.1,2046.2 L1866.3,2042.2 L1875.1,2038.0 L1883.5,2033.6 L1891.4,2029.2 Q1894.5,2027.3 1897.1,2031.5 L1902.5,2040.4 Q1905.2,2044.7 1901.8,2046.7 L1893.2,2051.6 L1884.2,2056.2 L1874.8,2060.7 L1865.0,2065.0 L1854.7,2069.1 L1844.2,2073.0 L1833.2,2076.7 L1822.0,2080.2 Q1817.3,2081.5 1815.9,2076.7 L1813.1,2066.7 Q1811.7,2061.9 1816.2,2060.6 Z" fill="url(#cgr)" stroke="#9e9e9e" stroke-width="2.1" stroke-linejoin="round"/>
<ellipse cx="1423.6" cy="2055.6" rx="10.6" ry="8.7" transform="rotate(22.7 1423.6 2055.6)" fill="url(#ngr)" stroke="#86c96b" stroke-width="1.7"/>
<ellipse cx="1524.4" cy="2084.0" rx="10.6" ry="8.7" transform="rotate(10.0 1524.4 2084.0)" fill="url(#ngr)" stroke="#86c96b" stroke-width="1.7"/>
<ellipse cx="1642.3" cy="2094.0" rx="10.6" ry="8.7" transform="rotate(-0.0 1642.3 2094.0)" fill="url(#ngr)" stroke="#86c96b" stroke-width="1.7"/>
<ellipse cx="1760.2" cy="2084.0" rx="10.6" ry="8.7" transform="rotate(-10.0 1760.2 2084.0)" fill="url(#ngr)" stroke="#86c96b" stroke-width="1.7"/>
<ellipse cx="1861.0" cy="2055.6" rx="10.6" ry="8.7" transform="rotate(-22.7 1861.0 2055.6)" fill="url(#ngr)" stroke="#86c96b" stroke-width="1.7"/>
<path d="M1432.1,2070.1 L1441.9,2073.9 L1452.1,2077.5 L1462.7,2080.9 L1473.7,2084.1 L1484.9,2087.1 L1496.4,2090.0 L1508.3,2092.6 L1520.3,2094.9 Q1525.3,2095.8 1524.5,2100.8 L1522.7,2111.0 Q1521.8,2115.9 1516.6,2115.0 L1504.1,2112.5 L1491.8,2109.8 L1479.8,2106.9 L1468.1,2103.8 L1456.7,2100.4 L1445.6,2096.8 L1434.9,2093.0 L1424.5,2089.0 Q1420.3,2087.3 1422.3,2082.7 L1426.3,2073.1 Q1428.2,2068.5 1432.1,2070.1 Z" fill="url(#cgr)" stroke="#9e9e9e" stroke-width="2.1" stroke-linejoin="round"/>
<path d="M1532.1,2097.0 L1544.6,2098.9 L1557.3,2100.6 L1570.1,2102.1 L1583.1,2103.3 L1596.2,2104.3 L1609.4,2105.0 L1622.7,2105.5 L1635.9,2105.8 Q1641.4,2105.8 1641.4,2110.8 L1641.4,2121.2 Q1641.3,2126.2 1635.8,2126.2 L1622.1,2125.9 L1608.5,2125.4 L1594.9,2124.7 L1581.4,2123.7 L1568.0,2122.4 L1554.8,2120.9 L1541.7,2119.1 L1528.8,2117.1 Q1523.6,2116.2 1524.4,2111.3 L1526.2,2101.1 Q1527.1,2096.1 1532.1,2097.0 Z" fill="url(#cgr)" stroke="#9e9e9e" stroke-width="2.1" stroke-linejoin="round"/>
<path d="M1648.7,2105.8 L1661.9,2105.5 L1675.2,2105.0 L1688.4,2104.3 L1701.5,2103.3 L1714.5,2102.1 L1727.3,2100.6 L1740.0,2098.9 L1752.5,2097.0 Q1757.5,2096.1 1758.4,2101.1 L1760.2,2111.3 Q1761.0,2116.2 1755.8,2117.1 L1742.9,2119.1 L1729.8,2120.9 L1716.6,2122.4 L1703.2,2123.7 L1689.7,2124.7 L1676.1,2125.4 L1662.5,2125.9 L1648.8,2126.2 Q1643.3,2126.2 1643.2,2121.2 L1643.2,2110.8 Q1643.2,2105.8 1648.7,2105.8 Z" fill="url(#cgr)" stroke="#9e9e9e" stroke-width="2.1" stroke-linejoin="round"/>
<path d="M1764.3,2094.9 L1776.3,2092.6 L1788.2,2090.0 L1799.7,2087.1 L1810.9,2084.1 L1821.9,2080.9 L1832.5,2077.5 L1842.7,2073.9 L1852.5,2070.1 Q1856.4,2068.5 1858.3,2073.1 L1862.3,2082.7 Q1864.3,2087.3 1860.1,2089.0 L1849.7,2093.0 L1839.0,2096.8 L1827.9,2100.4 L1816.5,2103.8 L1804.8,2106.9 L1792.8,2109.8 L1780.5,2112.5 L1768.0,2115.0 Q1762.8,2115.9 1761.9,2111.0 L1760.1,2100.8 Q1759.3,2095.8 1764.3,2094.9 Z" fill="url(#cgr)" stroke="#9e9e9e" stroke-width="2.1" stroke-linejoin="round"/>
<ellipse cx="1470.9" cy="2093.9" rx="10.6" ry="8.7" transform="rotate(15.7 1470.9 2093.9)" fill="url(#ngr)" stroke="#86c96b" stroke-width="1.7"/>
<ellipse cx="1582.3" cy="2113.5" rx="10.6" ry="8.7" transform="rotate(4.8 1582.3 2113.5)" fill="url(#ngr)" stroke="#86c96b" stroke-width="1.7"/>
<ellipse cx="1702.3" cy="2113.5" rx="10.6" ry="8.7" transform="rotate(-4.8 1702.3 2113.5)" fill="url(#ngr)" stroke="#86c96b" stroke-width="1.7"/>
<ellipse cx="1813.7" cy="2093.9" rx="10.6" ry="8.7" transform="rotate(-15.7 1813.7 2093.9)" fill="url(#ngr)" stroke="#86c96b" stroke-width="1.7"/>
</g>
<path d="M1349.6,1868.5 L1356.1,1862.9 L1363.1,1857.4 L1370.5,1852.1 L1378.5,1847.0 L1386.8,1842.0 L1395.7,1837.3 L1404.9,1832.7 L1414.6,1828.3 Q1418.6,1826.5 1420.6,1831.2 L1425.2,1842.2 Q1427.2,1846.8 1423.4,1848.5 L1414.4,1852.6 L1405.8,1856.8 L1397.7,1861.2 L1390.0,1865.7 L1382.9,1870.3 L1376.2,1875.1 L1370.1,1879.9 L1364.4,1884.8 Q1362.3,1886.8 1358.8,1883.2 L1350.5,1874.5 Q1347.1,1870.9 1349.6,1868.5 Z" fill="url(#cg)" stroke="#9e9e9e" stroke-width="2.1" stroke-linejoin="round"/>
<path d="M1424.2,1824.3 L1434.6,1820.3 L1445.4,1816.4 L1456.5,1812.9 L1467.9,1809.5 L1479.6,1806.3 L1491.7,1803.4 L1503.9,1800.7 L1516.5,1798.2 Q1521.6,1797.3 1522.5,1802.2 L1524.6,1814.0 Q1525.5,1818.9 1520.5,1819.9 L1508.4,1822.2 L1496.6,1824.8 L1485.1,1827.6 L1473.9,1830.7 L1463.0,1833.9 L1452.4,1837.3 L1442.2,1840.9 L1432.4,1844.7 Q1428.5,1846.3 1426.6,1841.7 L1422.0,1830.6 Q1420.0,1826.0 1424.2,1824.3 Z" fill="url(#cg)" stroke="#9e9e9e" stroke-width="2.1" stroke-linejoin="round"/>
<path d="M1528.7,1796.1 L1541.6,1794.1 L1554.7,1792.3 L1568.0,1790.8 L1581.3,1789.6 L1594.8,1788.5 L1608.4,1787.8 L1622.1,1787.3 L1635.7,1787.0 Q1641.3,1787.0 1641.4,1792.0 L1641.4,1804.0 Q1641.4,1809.0 1635.9,1809.0 L1622.7,1809.3 L1609.4,1809.8 L1596.3,1810.5 L1583.2,1811.5 L1570.2,1812.7 L1557.4,1814.2 L1544.7,1815.9 L1532.2,1817.8 Q1527.2,1818.6 1526.3,1813.7 L1524.3,1801.9 Q1523.4,1797.0 1528.7,1796.1 Z" fill="url(#cg)" stroke="#9e9e9e" stroke-width="2.1" stroke-linejoin="round"/>
<path d="M1648.9,1787.0 L1662.5,1787.3 L1676.2,1787.8 L1689.8,1788.5 L1703.3,1789.6 L1716.6,1790.8 L1729.9,1792.3 L1743.0,1794.1 L1755.9,1796.1 Q1761.2,1797.0 1760.3,1801.9 L1758.3,1813.7 Q1757.4,1818.6 1752.4,1817.8 L1739.9,1815.9 L1727.2,1814.2 L1714.4,1812.7 L1701.4,1811.5 L1688.3,1810.5 L1675.2,1809.8 L1661.9,1809.3 L1648.7,1809.0 Q1643.2,1809.0 1643.2,1804.0 L1643.2,1792.0 Q1643.3,1787.0 1648.9,1787.0 Z" fill="url(#cg)" stroke="#9e9e9e" stroke-width="2.1" stroke-linejoin="round"/>
<path d="M1768.1,1798.2 L1780.7,1800.7 L1792.9,1803.4 L1805.0,1806.3 L1816.7,1809.5 L1828.1,1812.9 L1839.2,1816.4 L1850.0,1820.3 L1860.4,1824.3 Q1864.6,1826.0 1862.6,1830.6 L1858.0,1841.7 Q1856.1,1846.3 1852.2,1844.7 L1842.4,1840.9 L1832.2,1837.3 L1821.6,1833.9 L1810.7,1830.7 L1799.5,1827.6 L1788.0,1824.8 L1776.2,1822.2 L1764.1,1819.9 Q1759.1,1818.9 1760.0,1814.0 L1762.1,1802.2 Q1763.0,1797.3 1768.1,1798.2 Z" fill="url(#cg)" stroke="#9e9e9e" stroke-width="2.1" stroke-linejoin="round"/>
<path d="M1870.0,1828.3 L1879.7,1832.7 L1888.9,1837.3 L1897.8,1842.0 L1906.1,1847.0 L1914.1,1852.1 L1921.5,1857.4 L1928.5,1862.9 L1935.0,1868.5 Q1937.5,1870.9 1934.1,1874.5 L1925.8,1883.2 Q1922.3,1886.8 1920.2,1884.8 L1914.5,1879.9 L1908.4,1875.1 L1901.7,1870.3 L1894.6,1865.7 L1886.9,1861.2 L1878.8,1856.8 L1870.2,1852.6 L1861.2,1848.5 Q1857.4,1846.8 1859.4,1842.2 L1864.0,1831.2 Q1866.0,1826.5 1870.0,1828.3 Z" fill="url(#cg)" stroke="#9e9e9e" stroke-width="2.1" stroke-linejoin="round"/>
<ellipse cx="1384.2" cy="1856.4" rx="10.6" ry="8.7" transform="rotate(-31.7 1384.2 1856.4)" fill="url(#ng)" stroke="#9d9d9d" stroke-width="1.7"/>
<ellipse cx="1470.9" cy="1820.1" rx="10.6" ry="8.7" transform="rotate(-15.7 1470.9 1820.1)" fill="url(#ng)" stroke="#9d9d9d" stroke-width="1.7"/>
<ellipse cx="1582.3" cy="1800.5" rx="10.6" ry="8.7" transform="rotate(-4.8 1582.3 1800.5)" fill="url(#ng)" stroke="#9d9d9d" stroke-width="1.7"/>
<ellipse cx="1702.3" cy="1800.5" rx="10.6" ry="8.7" transform="rotate(4.8 1702.3 1800.5)" fill="url(#ng)" stroke="#9d9d9d" stroke-width="1.7"/>
<ellipse cx="1813.7" cy="1820.1" rx="10.6" ry="8.7" transform="rotate(15.7 1813.7 1820.1)" fill="url(#ng)" stroke="#9d9d9d" stroke-width="1.7"/>
<ellipse cx="1900.4" cy="1856.4" rx="10.6" ry="8.7" transform="rotate(31.7 1900.4 1856.4)" fill="url(#ng)" stroke="#9d9d9d" stroke-width="1.7"/>
<path d="M1382.4,1868.6 L1391.0,1863.7 L1400.0,1859.1 L1409.5,1854.6 L1419.3,1850.3 L1429.6,1846.1 L1440.2,1842.2 L1451.1,1838.5 L1462.4,1835.1 Q1467.1,1833.7 1468.5,1838.5 L1471.7,1850.1 Q1473.1,1854.9 1468.6,1856.2 L1457.9,1859.5 L1447.5,1863.0 L1437.5,1866.7 L1427.8,1870.5 L1418.6,1874.6 L1409.8,1878.8 L1401.5,1883.1 L1393.6,1887.5 Q1390.5,1889.4 1387.9,1885.1 L1381.6,1874.9 Q1379.0,1870.6 1382.4,1868.6 Z" fill="url(#cg)" stroke="#9e9e9e" stroke-width="2.1" stroke-linejoin="round"/>
<path d="M1473.5,1831.9 L1485.4,1828.9 L1497.5,1826.1 L1509.9,1823.5 L1522.5,1821.1 L1535.4,1819.0 L1548.4,1817.1 L1561.6,1815.5 L1574.9,1814.1 Q1580.4,1813.6 1580.8,1818.6 L1581.9,1830.6 Q1582.3,1835.6 1577.0,1836.0 L1564.1,1837.4 L1551.3,1838.9 L1538.7,1840.8 L1526.3,1842.8 L1514.2,1845.1 L1502.2,1847.6 L1490.6,1850.3 L1479.2,1853.2 Q1474.6,1854.4 1473.3,1849.6 L1470.1,1838.1 Q1468.7,1833.3 1473.5,1831.9 Z" fill="url(#cg)" stroke="#9e9e9e" stroke-width="2.1" stroke-linejoin="round"/>
<path d="M1587.8,1813.0 L1601.3,1812.1 L1615.0,1811.5 L1628.6,1811.1 L1642.3,1811.0 L1656.0,1811.1 L1669.6,1811.5 L1683.3,1812.1 L1696.8,1813.0 Q1702.3,1813.5 1701.9,1818.5 L1700.9,1830.4 Q1700.5,1835.4 1695.2,1835.0 L1682.0,1834.1 L1668.8,1833.5 L1655.6,1833.1 L1642.3,1833.0 L1629.0,1833.1 L1615.8,1833.5 L1602.6,1834.1 L1589.4,1835.0 Q1584.1,1835.4 1583.7,1830.4 L1582.7,1818.5 Q1582.3,1813.5 1587.8,1813.0 Z" fill="url(#cg)" stroke="#9e9e9e" stroke-width="2.1" stroke-linejoin="round"/>
<path d="M1709.7,1814.1 L1723.0,1815.5 L1736.2,1817.1 L1749.2,1819.0 L1762.1,1821.1 L1774.7,1823.5 L1787.1,1826.1 L1799.2,1828.9 L1811.1,1831.9 Q1815.9,1833.3 1814.5,1838.1 L1811.3,1849.6 Q1810.0,1854.4 1805.4,1853.2 L1794.0,1850.3 L1782.4,1847.6 L1770.4,1845.1 L1758.3,1842.8 L1745.9,1840.8 L1733.3,1838.9 L1720.5,1837.4 L1707.6,1836.0 Q1702.3,1835.6 1702.7,1830.6 L1703.8,1818.6 Q1704.2,1813.6 1709.7,1814.1 Z" fill="url(#cg)" stroke="#9e9e9e" stroke-width="2.1" stroke-linejoin="round"/>
<path d="M1822.2,1835.1 L1833.5,1838.5 L1844.4,1842.2 L1855.0,1846.1 L1865.3,1850.3 L1875.1,1854.6 L1884.6,1859.1 L1893.6,1863.7 L1902.2,1868.6 Q1905.6,1870.6 1903.0,1874.9 L1896.7,1885.1 Q1894.1,1889.4 1891.0,1887.5 L1883.1,1883.1 L1874.8,1878.8 L1866.0,1874.6 L1856.8,1870.5 L1847.1,1866.7 L1837.1,1863.0 L1826.7,1859.5 L1816.0,1856.2 Q1811.5,1854.9 1812.9,1850.1 L1816.1,1838.5 Q1817.5,1833.7 1822.2,1835.1 Z" fill="url(#cg)" stroke="#9e9e9e" stroke-width="2.1" stroke-linejoin="round"/>
<ellipse cx="1423.6" cy="1860.4" rx="10.6" ry="8.7" transform="rotate(-22.7 1423.6 1860.4)" fill="url(#ng)" stroke="#9d9d9d" stroke-width="1.7"/>
<ellipse cx="1524.4" cy="1832.0" rx="10.6" ry="8.7" transform="rotate(-10.0 1524.4 1832.0)" fill="url(#ng)" stroke="#9d9d9d" stroke-width="1.7"/>
<ellipse cx="1642.3" cy="1822.0" rx="10.6" ry="8.7" transform="rotate(0.0 1642.3 1822.0)" fill="url(#ng)" stroke="#9d9d9d" stroke-width="1.7"/>
<ellipse cx="1760.2" cy="1832.0" rx="10.6" ry="8.7" transform="rotate(10.0 1760.2 1832.0)" fill="url(#ng)" stroke="#9d9d9d" stroke-width="1.7"/>
<ellipse cx="1861.0" cy="1860.4" rx="10.6" ry="8.7" transform="rotate(22.7 1861.0 1860.4)" fill="url(#ng)" stroke="#9d9d9d" stroke-width="1.7"/>
<path d="M1349.6,1916.5 L1356.1,1910.9 L1363.1,1905.4 L1370.5,1900.1 L1378.5,1895.0 L1386.8,1890.0 L1395.7,1885.3 L1404.9,1880.7 L1414.6,1876.3 Q1418.6,1874.5 1420.6,1879.2 L1425.2,1890.2 Q1427.2,1894.8 1423.4,1896.5 L1414.4,1900.6 L1405.8,1904.8 L1397.7,1909.2 L1390.0,1913.7 L1382.9,1918.3 L1376.2,1923.1 L1370.1,1927.9 L1364.4,1932.8 Q1362.3,1934.8 1358.8,1931.2 L1350.5,1922.5 Q1347.1,1918.9 1349.6,1916.5 Z" fill="url(#cg)" stroke="#9e9e9e" stroke-width="2.1" stroke-linejoin="round"/>
<path d="M1424.2,1872.3 L1434.6,1868.3 L1445.4,1864.4 L1456.5,1860.9 L1467.9,1857.5 L1479.6,1854.3 L1491.7,1851.4 L1503.9,1848.7 L1516.5,1846.2 Q1521.6,1845.3 1522.5,1850.2 L1524.6,1862.0 Q1525.5,1866.9 1520.5,1867.9 L1508.4,1870.2 L1496.6,1872.8 L1485.1,1875.6 L1473.9,1878.7 L1463.0,1881.9 L1452.4,1885.3 L1442.2,1888.9 L1432.4,1892.7 Q1428.5,1894.3 1426.6,1889.7 L1422.0,1878.6 Q1420.0,1874.0 1424.2,1872.3 Z" fill="url(#cg)" stroke="#9e9e9e" stroke-width="2.1" stroke-linejoin="round"/>
<path d="M1528.7,1844.1 L1541.6,1842.1 L1554.7,1840.3 L1568.0,1838.8 L1581.3,1837.6 L1594.8,1836.5 L1608.4,1835.8 L1622.1,1835.3 L1635.7,1835.0 Q1641.3,1835.0 1641.4,1840.0 L1641.4,1852.0 Q1641.4,1857.0 1635.9,1857.0 L1622.7,1857.3 L1609.4,1857.8 L1596.3,1858.5 L1583.2,1859.5 L1570.2,1860.7 L1557.4,1862.2 L1544.7,1863.9 L1532.2,1865.8 Q1527.2,1866.6 1526.3,1861.7 L1524.3,1849.9 Q1523.4,1845.0 1528.7,1844.1 Z" fill="url(#cg)" stroke="#9e9e9e" stroke-width="2.1" stroke-linejoin="round"/>
<path d="M1648.9,1835.0 L1662.5,1835.3 L1676.2,1835.8 L1689.8,1836.5 L1703.3,1837.6 L1716.6,1838.8 L1729.9,1840.3 L1743.0,1842.1 L1755.9,1844.1 Q1761.2,1845.0 1760.3,1849.9 L1758.3,1861.7 Q1757.4,1866.6 1752.4,1865.8 L1739.9,1863.9 L1727.2,1862.2 L1714.4,1860.7 L1701.4,1859.5 L1688.3,1858.5 L1675.2,1857.8 L1661.9,1857.3 L1648.7,1857.0 Q1643.2,1857.0 1643.2,1852.0 L1643.2,1840.0 Q1643.3,1835.0 1648.9,1835.0 Z" fill="url(#cg)" stroke="#9e9e9e" stroke-width="2.1" stroke-linejoin="round"/>
<path d="M1768.1,1846.2 L1780.7,1848.7 L1792.9,1851.4 L1805.0,1854.3 L1816.7,1857.5 L1828.1,1860.9 L1839.2,1864.4 L1850.0,1868.3 L1860.4,1872.3 Q1864.6,1874.0 1862.6,1878.6 L1858.0,1889.7 Q1856.1,1894.3 1852.2,1892.7 L1842.4,1888.9 L1832.2,1885.3 L1821.6,1881.9 L1810.7,1878.7 L1799.5,1875.6 L1788.0,1872.8 L1776.2,1870.2 L1764.1,1867.9 Q1759.1,1866.9 1760.0,1862.0 L1762.1,1850.2 Q1763.0,1845.3 1768.1,1846.2 Z" fill="url(#cg)" stroke="#9e9e9e" stroke-width="2.1" stroke-linejoin="round"/>
<path d="M1870.0,1876.3 L1879.7,1880.7 L1888.9,1885.3 L1897.8,1890.0 L1906.1,1895.0 L1914.1,1900.1 L1921.5,1905.4 L1928.5,1910.9 L1935.0,1916.5 Q1937.5,1918.9 1934.1,1922.5 L1925.8,1931.2 Q1922.3,1934.8 1920.2,1932.8 L1914.5,1927.9 L1908.4,1923.1 L1901.7,1918.3 L1894.6,1913.7 L1886.9,1909.2 L1878.8,1904.8 L1870.2,1900.6 L1861.2,1896.5 Q1857.4,1894.8 1859.4,1890.2 L1864.0,1879.2 Q1866.0,1874.5 1870.0,1876.3 Z" fill="url(#cg)" stroke="#9e9e9e" stroke-width="2.1" stroke-linejoin="round"/>
<ellipse cx="1384.2" cy="1904.4" rx="10.6" ry="8.7" transform="rotate(-31.7 1384.2 1904.4)" fill="url(#ng)" stroke="#9d9d9d" stroke-width="1.7"/>
<ellipse cx="1470.9" cy="1868.1" rx="10.6" ry="8.7" transform="rotate(-15.7 1470.9 1868.1)" fill="url(#ng)" stroke="#9d9d9d" stroke-width="1.7"/>
<ellipse cx="1582.3" cy="1848.5" rx="10.6" ry="8.7" transform="rotate(-4.8 1582.3 1848.5)" fill="url(#ng)" stroke="#9d9d9d" stroke-width="1.7"/>
<ellipse cx="1702.3" cy="1848.5" rx="10.6" ry="8.7" transform="rotate(4.8 1702.3 1848.5)" fill="url(#ng)" stroke="#9d9d9d" stroke-width="1.7"/>
<ellipse cx="1813.7" cy="1868.1" rx="10.6" ry="8.7" transform="rotate(15.7 1813.7 1868.1)" fill="url(#ng)" stroke="#9d9d9d" stroke-width="1.7"/>
<ellipse cx="1900.4" cy="1904.4" rx="10.6" ry="8.7" transform="rotate(31.7 1900.4 1904.4)" fill="url(#ng)" stroke="#9d9d9d" stroke-width="1.7"/>
<path d="M1382.4,1916.6 L1391.0,1911.7 L1400.0,1907.1 L1409.5,1902.6 L1419.3,1898.3 L1429.6,1894.1 L1440.2,1890.2 L1451.1,1886.5 L1462.4,1883.1 Q1467.1,1881.7 1468.5,1886.5 L1471.7,1898.1 Q1473.1,1902.9 1468.6,1904.2 L1457.9,1907.5 L1447.5,1911.0 L1437.5,1914.7 L1427.8,1918.5 L1418.6,1922.6 L1409.8,1926.8 L1401.5,1931.1 L1393.6,1935.5 Q1390.5,1937.4 1387.9,1933.1 L1381.6,1922.9 Q1379.0,1918.6 1382.4,1916.6 Z" fill="url(#cg)" stroke="#9e9e9e" stroke-width="2.1" stroke-linejoin="round"/>
<path d="M1473.5,1879.9 L1485.4,1876.9 L1497.5,1874.1 L1509.9,1871.5 L1522.5,1869.1 L1535.4,1867.0 L1548.4,1865.1 L1561.6,1863.5 L1574.9,1862.1 Q1580.4,1861.6 1580.8,1866.6 L1581.9,1878.6 Q1582.3,1883.6 1577.0,1884.0 L1564.1,1885.4 L1551.3,1886.9 L1538.7,1888.8 L1526.3,1890.8 L1514.2,1893.1 L1502.2,1895.6 L1490.6,1898.3 L1479.2,1901.2 Q1474.6,1902.4 1473.3,1897.6 L1470.1,1886.1 Q1468.7,1881.3 1473.5,1879.9 Z" fill="url(#cg)" stroke="#9e9e9e" stroke-width="2.1" stroke-linejoin="round"/>
<path d="M1587.8,1861.0 L1601.3,1860.1 L1615.0,1859.5 L1628.6,1859.1 L1642.3,1859.0 L1656.0,1859.1 L1669.6,1859.5 L1683.3,1860.1 L1696.8,1861.0 Q1702.3,1861.5 1701.9,1866.5 L1700.9,1878.4 Q1700.5,1883.4 1695.2,1883.0 L1682.0,1882.1 L1668.8,1881.5 L1655.6,1881.1 L1642.3,1881.0 L1629.0,1881.1 L1615.8,1881.5 L1602.6,1882.1 L1589.4,1883.0 Q1584.1,1883.4 1583.7,1878.4 L1582.7,1866.5 Q1582.3,1861.5 1587.8,1861.0 Z" fill="url(#cg)" stroke="#9e9e9e" stroke-width="2.1" stroke-linejoin="round"/>
<path d="M1709.7,1862.1 L1723.0,1863.5 L1736.2,1865.1 L1749.2,1867.0 L1762.1,1869.1 L1774.7,1871.5 L1787.1,1874.1 L1799.2,1876.9 L1811.1,1879.9 Q1815.9,1881.3 1814.5,1886.1 L1811.3,1897.6 Q1810.0,1902.4 1805.4,1901.2 L1794.0,1898.3 L1782.4,1895.6 L1770.4,1893.1 L1758.3,1890.8 L1745.9,1888.8 L1733.3,1886.9 L1720.5,1885.4 L1707.6,1884.0 Q1702.3,1883.6 1702.7,1878.6 L1703.8,1866.6 Q1704.2,1861.6 1709.7,1862.1 Z" fill="url(#cg)" stroke="#9e9e9e" stroke-width="2.1" stroke-linejoin="round"/>
<path d="M1822.2,1883.1 L1833.5,1886.5 L1844.4,1890.2 L1855.0,1894.1 L1865.3,1898.3 L1875.1,1902.6 L1884.6,1907.1 L1893.6,1911.7 L1902.2,1916.6 Q1905.6,1918.6 1903.0,1922.9 L1896.7,1933.1 Q1894.1,1937.4 1891.0,1935.5 L1883.1,1931.1 L1874.8,1926.8 L1866.0,1922.6 L1856.8,1918.5 L1847.1,1914.7 L1837.1,1911.0 L1826.7,1907.5 L1816.0,1904.2 Q1811.5,1902.9 1812.9,1898.1 L1816.1,1886.5 Q1817.5,1881.7 1822.2,1883.1 Z" fill="url(#cg)" stroke="#9e9e9e" stroke-width="2.1" stroke-linejoin="round"/>
<ellipse cx="1423.6" cy="1908.4" rx="10.6" ry="8.7" transform="rotate(-22.7 1423.6 1908.4)" fill="url(#ng)" stroke="#9d9d9d" stroke-width="1.7"/>
<ellipse cx="1524.4" cy="1880.0" rx="10.6" ry="8.7" transform="rotate(-10.0 1524.4 1880.0)" fill="url(#ng)" stroke="#9d9d9d" stroke-width="1.7"/>
<ellipse cx="1642.3" cy="1870.0" rx="10.6" ry="8.7" transform="rotate(0.0 1642.3 1870.0)" fill="url(#ng)" stroke="#9d9d9d" stroke-width="1.7"/>
<ellipse cx="1760.2" cy="1880.0" rx="10.6" ry="8.7" transform="rotate(10.0 1760.2 1880.0)" fill="url(#ng)" stroke="#9d9d9d" stroke-width="1.7"/>
<ellipse cx="1861.0" cy="1908.4" rx="10.6" ry="8.7" transform="rotate(22.7 1861.0 1908.4)" fill="url(#ng)" stroke="#9d9d9d" stroke-width="1.7"/>
<path d="M1349.6,1964.5 L1356.1,1958.9 L1363.1,1953.4 L1370.5,1948.1 L1378.5,1943.0 L1386.8,1938.0 L1395.7,1933.3 L1404.9,1928.7 L1414.6,1924.3 Q1418.6,1922.5 1420.6,1927.2 L1425.2,1938.2 Q1427.2,1942.8 1423.4,1944.5 L1414.4,1948.6 L1405.8,1952.8 L1397.7,1957.2 L1390.0,1961.7 L1382.9,1966.3 L1376.2,1971.1 L1370.1,1975.9 L1364.4,1980.8 Q1362.3,1982.8 1358.8,1979.2 L1350.5,1970.5 Q1347.1,1966.9 1349.6,1964.5 Z" fill="url(#cg)" stroke="#9e9e9e" stroke-width="2.1" stroke-linejoin="round"/>
<path d="M1424.2,1920.3 L1434.6,1916.3 L1445.4,1912.4 L1456.5,1908.9 L1467.9,1905.5 L1479.6,1902.3 L1491.7,1899.4 L1503.9,1896.7 L1516.5,1894.2 Q1521.6,1893.3 1522.5,1898.2 L1524.6,1910.0 Q1525.5,1914.9 1520.5,1915.9 L1508.4,1918.2 L1496.6,1920.8 L1485.1,1923.6 L1473.9,1926.7 L1463.0,1929.9 L1452.4,1933.3 L1442.2,1936.9 L1432.4,1940.7 Q1428.5,1942.3 1426.6,1937.7 L1422.0,1926.6 Q1420.0,1922.0 1424.2,1920.3 Z" fill="url(#cg)" stroke="#9e9e9e" stroke-width="2.1" stroke-linejoin="round"/>
<path d="M1528.7,1892.1 L1541.6,1890.1 L1554.7,1888.3 L1568.0,1886.8 L1581.3,1885.6 L1594.8,1884.5 L1608.4,1883.8 L1622.1,1883.3 L1635.7,1883.0 Q1641.3,1883.0 1641.4,1888.0 L1641.4,1900.0 Q1641.4,1905.0 1635.9,1905.0 L1622.7,1905.3 L1609.4,1905.8 L1596.3,1906.5 L1583.2,1907.5 L1570.2,1908.7 L1557.4,1910.2 L1544.7,1911.9 L1532.2,1913.8 Q1527.2,1914.6 1526.3,1909.7 L1524.3,1897.9 Q1523.4,1893.0 1528.7,1892.1 Z" fill="url(#cg)" stroke="#9e9e9e" stroke-width="2.1" stroke-linejoin="round"/>
<path d="M1648.9,1883.0 L1662.5,1883.3 L1676.2,1883.8 L1689.8,1884.5 L1703.3,1885.6 L1716.6,1886.8 L1729.9,1888.3 L1743.0,1890.1 L1755.9,1892.1 Q1761.2,1893.0 1760.3,1897.9 L1758.3,1909.7 Q1757.4,1914.6 1752.4,1913.8 L1739.9,1911.9 L1727.2,1910.2 L1714.4,1908.7 L1701.4,1907.5 L1688.3,1906.5 L1675.2,1905.8 L1661.9,1905.3 L1648.7,1905.0 Q1643.2,1905.0 1643.2,1900.0 L1643.2,1888.0 Q1643.3,1883.0 1648.9,1883.0 Z" fill="url(#cg)" stroke="#9e9e9e" stroke-width="2.1" stroke-linejoin="round"/>
<path d="M1768.1,1894.2 L1780.7,1896.7 L1792.9,1899.4 L1805.0,1902.3 L1816.7,1905.5 L1828.1,1908.9 L1839.2,1912.4 L1850.0,1916.3 L1860.4,1920.3 Q1864.6,1922.0 1862.6,1926.6 L1858.0,1937.7 Q1856.1,1942.3 1852.2,1940.7 L1842.4,1936.9 L1832.2,1933.3 L1821.6,1929.9 L1810.7,1926.7 L1799.5,1923.6 L1788.0,1920.8 L1776.2,1918.2 L1764.1,1915.9 Q1759.1,1914.9 1760.0,1910.0 L1762.1,1898.2 Q1763.0,1893.3 1768.1,1894.2 Z" fill="url(#cg)" stroke="#9e9e9e" stroke-width="2.1" stroke-linejoin="round"/>
<path d="M1870.0,1924.3 L1879.7,1928.7 L1888.9,1933.3 L1897.8,1938.0 L1906.1,1943.0 L1914.1,1948.1 L1921.5,1953.4 L1928.5,1958.9 L1935.0,1964.5 Q1937.5,1966.9 1934.1,1970.5 L1925.8,1979.2 Q1922.3,1982.8 1920.2,1980.8 L1914.5,1975.9 L1908.4,1971.1 L1901.7,1966.3 L1894.6,1961.7 L1886.9,1957.2 L1878.8,1952.8 L1870.2,1948.6 L1861.2,1944.5 Q1857.4,1942.8 1859.4,1938.2 L1864.0,1927.2 Q1866.0,1922.5 1870.0,1924.3 Z" fill="url(#cg)" stroke="#9e9e9e" stroke-width="2.1" stroke-linejoin="round"/>
<ellipse cx="1384.2" cy="1952.4" rx="10.6" ry="8.7" transform="rotate(-31.7 1384.2 1952.4)" fill="url(#ng)" stroke="#9d9d9d" stroke-width="1.7"/>
<ellipse cx="1470.9" cy="1916.1" rx="10.6" ry="8.7" transform="rotate(-15.7 1470.9 1916.1)" fill="url(#ng)" stroke="#9d9d9d" stroke-width="1.7"/>
<ellipse cx="1582.3" cy="1896.5" rx="10.6" ry="8.7" transform="rotate(-4.8 1582.3 1896.5)" fill="url(#ng)" stroke="#9d9d9d" stroke-width="1.7"/>
<ellipse cx="1702.3" cy="1896.5" rx="10.6" ry="8.7" transform="rotate(4.8 1702.3 1896.5)" fill="url(#ng)" stroke="#9d9d9d" stroke-width="1.7"/>
<ellipse cx="1813.7" cy="1916.1" rx="10.6" ry="8.7" transform="rotate(15.7 1813.7 1916.1)" fill="url(#ng)" stroke="#9d9d9d" stroke-width="1.7"/>
<ellipse cx="1900.4" cy="1952.4" rx="10.6" ry="8.7" transform="rotate(31.7 1900.4 1952.4)" fill="url(#ng)" stroke="#9d9d9d" stroke-width="1.7"/>
<path d="M1382.4,1964.6 L1391.0,1959.7 L1400.0,1955.1 L1409.5,1950.6 L1419.3,1946.3 L1429.6,1942.1 L1440.2,1938.2 L1451.1,1934.5 L1462.4,1931.1 Q1467.1,1929.7 1468.5,1934.5 L1471.7,1946.1 Q1473.1,1950.9 1468.6,1952.2 L1457.9,1955.5 L1447.5,1959.0 L1437.5,1962.7 L1427.8,1966.5 L1418.6,1970.6 L1409.8,1974.8 L1401.5,1979.1 L1393.6,1983.5 Q1390.5,1985.4 1387.9,1981.1 L1381.6,1970.9 Q1379.0,1966.6 1382.4,1964.6 Z" fill="url(#cg)" stroke="#9e9e9e" stroke-width="2.1" stroke-linejoin="round"/>
<path d="M1473.5,1927.9 L1485.4,1924.9 L1497.5,1922.1 L1509.9,1919.5 L1522.5,1917.1 L1535.4,1915.0 L1548.4,1913.1 L1561.6,1911.5 L1574.9,1910.1 Q1580.4,1909.6 1580.8,1914.6 L1581.9,1926.6 Q1582.3,1931.6 1577.0,1932.0 L1564.1,1933.4 L1551.3,1934.9 L1538.7,1936.8 L1526.3,1938.8 L1514.2,1941.1 L1502.2,1943.6 L1490.6,1946.3 L1479.2,1949.2 Q1474.6,1950.4 1473.3,1945.6 L1470.1,1934.1 Q1468.7,1929.3 1473.5,1927.9 Z" fill="url(#cg)" stroke="#9e9e9e" stroke-width="2.1" stroke-linejoin="round"/>
<path d="M1587.8,1909.0 L1601.3,1908.1 L1615.0,1907.5 L1628.6,1907.1 L1642.3,1907.0 L1656.0,1907.1 L1669.6,1907.5 L1683.3,1908.1 L1696.8,1909.0 Q1702.3,1909.5 1701.9,1914.5 L1700.9,1926.4 Q1700.5,1931.4 1695.2,1931.0 L1682.0,1930.1 L1668.8,1929.5 L1655.6,1929.1 L1642.3,1929.0 L1629.0,1929.1 L1615.8,1929.5 L1602.6,1930.1 L1589.4,1931.0 Q1584.1,1931.4 1583.7,1926.4 L1582.7,1914.5 Q1582.3,1909.5 1587.8,1909.0 Z" fill="url(#cg)" stroke="#9e9e9e" stroke-width="2.1" stroke-linejoin="round"/>
<path d="M1709.7,1910.1 L1723.0,1911.5 L1736.2,1913.1 L1749.2,1915.0 L1762.1,1917.1 L1774.7,1919.5 L1787.1,1922.1 L1799.2,1924.9 L1811.1,1927.9 Q1815.9,1929.3 1814.5,1934.1 L1811.3,1945.6 Q1810.0,1950.4 1805.4,1949.2 L1794.0,1946.3 L1782.4,1943.6 L1770.4,1941.1 L1758.3,1938.8 L1745.9,1936.8 L1733.3,1934.9 L1720.5,1933.4 L1707.6,1932.0 Q1702.3,1931.6 1702.7,1926.6 L1703.8,1914.6 Q1704.2,1909.6 1709.7,1910.1 Z" fill="url(#cg)" stroke="#9e9e9e" stroke-width="2.1" stroke-linejoin="round"/>
<path d="M1822.2,1931.1 L1833.5,1934.5 L1844.4,1938.2 L1855.0,1942.1 L1865.3,1946.3 L1875.1,1950.6 L1884.6,1955.1 L1893.6,1959.7 L1902.2,1964.6 Q1905.6,1966.6 1903.0,1970.9 L1896.7,1981.1 Q1894.1,1985.4 1891.0,1983.5 L1883.1,1979.1 L1874.8,1974.8 L1866.0,1970.6 L1856.8,1966.5 L1847.1,1962.7 L1837.1,1959.0 L1826.7,1955.5 L1816.0,1952.2 Q1811.5,1950.9 1812.9,1946.1 L1816.1,1934.5 Q1817.5,1929.7 1822.2,1931.1 Z" fill="url(#cg)" stroke="#9e9e9e" stroke-width="2.1" stroke-linejoin="round"/>
<ellipse cx="1423.6" cy="1956.4" rx="10.6" ry="8.7" transform="rotate(-22.7 1423.6 1956.4)" fill="url(#ng)" stroke="#9d9d9d" stroke-width="1.7"/>
<ellipse cx="1524.4" cy="1928.0" rx="10.6" ry="8.7" transform="rotate(-10.0 1524.4 1928.0)" fill="url(#ng)" stroke="#9d9d9d" stroke-width="1.7"/>
<ellipse cx="1642.3" cy="1918.0" rx="10.6" ry="8.7" transform="rotate(0.0 1642.3 1918.0)" fill="url(#ng)" stroke="#9d9d9d" stroke-width="1.7"/>
<ellipse cx="1760.2" cy="1928.0" rx="10.6" ry="8.7" transform="rotate(10.0 1760.2 1928.0)" fill="url(#ng)" stroke="#9d9d9d" stroke-width="1.7"/>
<ellipse cx="1861.0" cy="1956.4" rx="10.6" ry="8.7" transform="rotate(22.7 1861.0 1956.4)" fill="url(#ng)" stroke="#9d9d9d" stroke-width="1.7"/>
<path d="M1349.6,2012.5 L1356.1,2006.9 L1363.1,2001.4 L1370.5,1996.1 L1378.5,1991.0 L1386.8,1986.0 L1395.7,1981.3 L1404.9,1976.7 L1414.6,1972.3 Q1418.6,1970.5 1420.6,1975.2 L1425.2,1986.2 Q1427.2,1990.8 1423.4,1992.5 L1414.4,1996.6 L1405.8,2000.8 L1397.7,2005.2 L1390.0,2009.7 L1382.9,2014.3 L1376.2,2019.1 L1370.1,2023.9 L1364.4,2028.8 Q1362.3,2030.8 1358.8,2027.2 L1350.5,2018.5 Q1347.1,2014.9 1349.6,2012.5 Z" fill="url(#cg)" stroke="#9e9e9e" stroke-width="2.1" stroke-linejoin="round"/>
<path d="M1424.2,1968.3 L1434.6,1964.3 L1445.4,1960.4 L1456.5,1956.9 L1467.9,1953.5 L1479.6,1950.3 L1491.7,1947.4 L1503.9,1944.7 L1516.5,1942.2 Q1521.6,1941.3 1522.5,1946.2 L1524.6,1958.0 Q1525.5,1962.9 1520.5,1963.9 L1508.4,1966.2 L1496.6,1968.8 L1485.1,1971.6 L1473.9,1974.7 L1463.0,1977.9 L1452.4,1981.3 L1442.2,1984.9 L1432.4,1988.7 Q1428.5,1990.3 1426.6,1985.7 L1422.0,1974.6 Q1420.0,1970.0 1424.2,1968.3 Z" fill="url(#cg)" stroke="#9e9e9e" stroke-width="2.1" stroke-linejoin="round"/>
<path d="M1528.7,1940.1 L1541.6,1938.1 L1554.7,1936.3 L1568.0,1934.8 L1581.3,1933.6 L1594.8,1932.5 L1608.4,1931.8 L1622.1,1931.3 L1635.7,1931.0 Q1641.3,1931.0 1641.4,1936.0 L1641.4,1948.0 Q1641.4,1953.0 1635.9,1953.0 L1622.7,1953.3 L1609.4,1953.8 L1596.3,1954.5 L1583.2,1955.5 L1570.2,1956.7 L1557.4,1958.2 L1544.7,1959.9 L1532.2,1961.8 Q1527.2,1962.6 1526.3,1957.7 L1524.3,1945.9 Q1523.4,1941.0 1528.7,1940.1 Z" fill="url(#cg)" stroke="#9e9e9e" stroke-width="2.1" stroke-linejoin="round"/>
<path d="M1648.9,1931.0 L1662.5,1931.3 L1676.2,1931.8 L1689.8,1932.5 L1703.3,1933.6 L1716.6,1934.8 L1729.9,1936.3 L1743.0,1938.1 L1755.9,1940.1 Q1761.2,1941.0 1760.3,1945.9 L1758.3,1957.7 Q1757.4,1962.6 1752.4,1961.8 L1739.9,1959.9 L1727.2,1958.2 L1714.4,1956.7 L1701.4,1955.5 L1688.3,1954.5 L1675.2,1953.8 L1661.9,1953.3 L1648.7,1953.0 Q1643.2,1953.0 1643.2,1948.0 L1643.2,1936.0 Q1643.3,1931.0 1648.9,1931.0 Z" fill="url(#cg)" stroke="#9e9e9e" stroke-width="2.1" stroke-linejoin="round"/>
<path d="M1768.1,1942.2 L1780.7,1944.7 L1792.9,1947.4 L1805.0,1950.3 L1816.7,1953.5 L1828.1,1956.9 L1839.2,1960.4 L1850.0,1964.3 L1860.4,1968.3 Q1864.6,1970.0 1862.6,1974.6 L1858.0,1985.7 Q1856.1,1990.3 1852.2,1988.7 L1842.4,1984.9 L1832.2,1981.3 L1821.6,1977.9 L1810.7,1974.7 L1799.5,1971.6 L1788.0,1968.8 L1776.2,1966.2 L1764.1,1963.9 Q1759.1,1962.9 1760.0,1958.0 L1762.1,1946.2 Q1763.0,1941.3 1768.1,1942.2 Z" fill="url(#cg)" stroke="#9e9e9e" stroke-width="2.1" stroke-linejoin="round"/>
<path d="M1870.0,1972.3 L1879.7,1976.7 L1888.9,1981.3 L1897.8,1986.0 L1906.1,1991.0 L1914.1,1996.1 L1921.5,2001.4 L1928.5,2006.9 L1935.0,2012.5 Q1937.5,2014.9 1934.1,2018.5 L1925.8,2027.2 Q1922.3,2030.8 1920.2,2028.8 L1914.5,2023.9 L1908.4,2019.1 L1901.7,2014.3 L1894.6,2009.7 L1886.9,2005.2 L1878.8,2000.8 L1870.2,1996.6 L1861.2,1992.5 Q1857.4,1990.8 1859.4,1986.2 L1864.0,1975.2 Q1866.0,1970.5 1870.0,1972.3 Z" fill="url(#cg)" stroke="#9e9e9e" stroke-width="2.1" stroke-linejoin="round"/>
<ellipse cx="1384.2" cy="2000.4" rx="10.6" ry="8.7" transform="rotate(-31.7 1384.2 2000.4)" fill="url(#ng)" stroke="#9d9d9d" stroke-width="1.7"/>
<ellipse cx="1470.9" cy="1964.1" rx="10.6" ry="8.7" transform="rotate(-15.7 1470.9 1964.1)" fill="url(#ng)" stroke="#9d9d9d" stroke-width="1.7"/>
<ellipse cx="1582.3" cy="1944.5" rx="10.6" ry="8.7" transform="rotate(-4.8 1582.3 1944.5)" fill="url(#ng)" stroke="#9d9d9d" stroke-width="1.7"/>
<ellipse cx="1702.3" cy="1944.5" rx="10.6" ry="8.7" transform="rotate(4.8 1702.3 1944.5)" fill="url(#ng)" stroke="#9d9d9d" stroke-width="1.7"/>
<ellipse cx="1813.7" cy="1964.1" rx="10.6" ry="8.7" transform="rotate(15.7 1813.7 1964.1)" fill="url(#ng)" stroke="#9d9d9d" stroke-width="1.7"/>
<ellipse cx="1900.4" cy="2000.4" rx="10.6" ry="8.7" transform="rotate(31.7 1900.4 2000.4)" fill="url(#ng)" stroke="#9d9d9d" stroke-width="1.7"/>
<path d="M1382.4,2012.6 L1391.0,2007.7 L1400.0,2003.1 L1409.5,1998.6 L1419.3,1994.3 L1429.6,1990.1 L1440.2,1986.2 L1451.1,1982.5 L1462.4,1979.1 Q1467.1,1977.7 1468.5,1982.5 L1471.7,1994.1 Q1473.1,1998.9 1468.6,2000.2 L1457.9,2003.5 L1447.5,2007.0 L1437.5,2010.7 L1427.8,2014.5 L1418.6,2018.6 L1409.8,2022.8 L1401.5,2027.1 L1393.6,2031.5 Q1390.5,2033.4 1387.9,2029.1 L1381.6,2018.9 Q1379.0,2014.6 1382.4,2012.6 Z" fill="url(#cg)" stroke="#9e9e9e" stroke-width="2.1" stroke-linejoin="round"/>
<path d="M1473.5,1975.9 L1485.4,1972.9 L1497.5,1970.1 L1509.9,1967.5 L1522.5,1965.1 L1535.4,1963.0 L1548.4,1961.1 L1561.6,1959.5 L1574.9,1958.1 Q1580.4,1957.6 1580.8,1962.6 L1581.9,1974.6 Q1582.3,1979.6 1577.0,1980.0 L1564.1,1981.4 L1551.3,1982.9 L1538.7,1984.8 L1526.3,1986.8 L1514.2,1989.1 L1502.2,1991.6 L1490.6,1994.3 L1479.2,1997.2 Q1474.6,1998.4 1473.3,1993.6 L1470.1,1982.1 Q1468.7,1977.3 1473.5,1975.9 Z" fill="url(#cg)" stroke="#9e9e9e" stroke-width="2.1" stroke-linejoin="round"/>
<path d="M1587.8,1957.0 L1601.3,1956.1 L1615.0,1955.5 L1628.6,1955.1 L1642.3,1955.0 L1656.0,1955.1 L1669.6,1955.5 L1683.3,1956.1 L1696.8,1957.0 Q1702.3,1957.5 1701.9,1962.5 L1700.9,1974.4 Q1700.5,1979.4 1695.2,1979.0 L1682.0,1978.1 L1668.8,1977.5 L1655.6,1977.1 L1642.3,1977.0 L1629.0,1977.1 L1615.8,1977.5 L1602.6,1978.1 L1589.4,1979.0 Q1584.1,1979.4 1583.7,1974.4 L1582.7,1962.5 Q1582.3,1957.5 1587.8,1957.0 Z" fill="url(#cg)" stroke="#9e9e9e" stroke-width="2.1" stroke-linejoin="round"/>
<path d="M1709.7,1958.1 L1723.0,1959.5 L1736.2,1961.1 L1749.2,1963.0 L1762.1,1965.1 L1774.7,1967.5 L1787.1,1970.1 L1799.2,1972.9 L1811.1,1975.9 Q1815.9,1977.3 1814.5,1982.1 L1811.3,1993.6 Q1810.0,1998.4 1805.4,1997.2 L1794.0,1994.3 L1782.4,1991.6 L1770.4,1989.1 L1758.3,1986.8 L1745.9,1984.8 L1733.3,1982.9 L1720.5,1981.4 L1707.6,1980.0 Q1702.3,1979.6 1702.7,1974.6 L1703.8,1962.6 Q1704.2,1957.6 1709.7,1958.1 Z" fill="url(#cg)" stroke="#9e9e9e" stroke-width="2.1" stroke-linejoin="round"/>
<path d="M1822.2,1979.1 L1833.5,1982.5 L1844.4,1986.2 L1855.0,1990.1 L1865.3,1994.3 L1875.1,1998.6 L1884.6,2003.1 L1893.6,2007.7 L1902.2,2012.6 Q1905.6,2014.6 1903.0,2018.9 L1896.7,2029.1 Q1894.1,2033.4 1891.0,2031.5 L1883.1,2027.1 L1874.8,2022.8 L1866.0,2018.6 L1856.8,2014.5 L1847.1,2010.7 L1837.1,2007.0 L1826.7,2003.5 L1816.0,2000.2 Q1811.5,1998.9 1812.9,1994.1 L1816.1,1982.5 Q1817.5,1977.7 1822.2,1979.1 Z" fill="url(#cg)" stroke="#9e9e9e" stroke-width="2.1" stroke-linejoin="round"/>
<ellipse cx="1423.6" cy="2004.4" rx="10.6" ry="8.7" transform="rotate(-22.7 1423.6 2004.4)" fill="url(#ng)" stroke="#9d9d9d" stroke-width="1.7"/>
<ellipse cx="1524.4" cy="1976.0" rx="10.6" ry="8.7" transform="rotate(-10.0 1524.4 1976.0)" fill="url(#ng)" stroke="#9d9d9d" stroke-width="1.7"/>
<ellipse cx="1642.3" cy="1966.0" rx="10.6" ry="8.7" transform="rotate(0.0 1642.3 1966.0)" fill="url(#ng)" stroke="#9d9d9d" stroke-width="1.7"/>
<ellipse cx="1760.2" cy="1976.0" rx="10.6" ry="8.7" transform="rotate(10.0 1760.2 1976.0)" fill="url(#ng)" stroke="#9d9d9d" stroke-width="1.7"/>
<ellipse cx="1861.0" cy="2004.4" rx="10.6" ry="8.7" transform="rotate(22.7 1861.0 2004.4)" fill="url(#ng)" stroke="#9d9d9d" stroke-width="1.7"/>
<path d="M1349.6,2060.5 L1356.1,2054.9 L1363.1,2049.4 L1370.5,2044.1 L1378.5,2039.0 L1386.8,2034.0 L1395.7,2029.3 L1404.9,2024.7 L1414.6,2020.3 Q1418.6,2018.5 1420.6,2023.2 L1425.2,2034.2 Q1427.2,2038.8 1423.4,2040.5 L1414.4,2044.6 L1405.8,2048.8 L1397.7,2053.2 L1390.0,2057.7 L1382.9,2062.3 L1376.2,2067.1 L1370.1,2071.9 L1364.4,2076.8 Q1362.3,2078.8 1358.8,2075.2 L1350.5,2066.5 Q1347.1,2062.9 1349.6,2060.5 Z" fill="url(#cg)" stroke="#9e9e9e" stroke-width="2.1" stroke-linejoin="round"/>
<path d="M1424.2,2016.3 L1434.6,2012.3 L1445.4,2008.4 L1456.5,2004.9 L1467.9,2001.5 L1479.6,1998.3 L1491.7,1995.4 L1503.9,1992.7 L1516.5,1990.2 Q1521.6,1989.3 1522.5,1994.2 L1524.6,2006.0 Q1525.5,2010.9 1520.5,2011.9 L1508.4,2014.2 L1496.6,2016.8 L1485.1,2019.6 L1473.9,2022.7 L1463.0,2025.9 L1452.4,2029.3 L1442.2,2032.9 L1432.4,2036.7 Q1428.5,2038.3 1426.6,2033.7 L1422.0,2022.6 Q1420.0,2018.0 1424.2,2016.3 Z" fill="url(#cg)" stroke="#9e9e9e" stroke-width="2.1" stroke-linejoin="round"/>
<path d="M1528.7,1988.1 L1541.6,1986.1 L1554.7,1984.3 L1568.0,1982.8 L1581.3,1981.6 L1594.8,1980.5 L1608.4,1979.8 L1622.1,1979.3 L1635.7,1979.0 Q1641.3,1979.0 1641.4,1984.0 L1641.4,1996.0 Q1641.4,2001.0 1635.9,2001.0 L1622.7,2001.3 L1609.4,2001.8 L1596.3,2002.5 L1583.2,2003.5 L1570.2,2004.7 L1557.4,2006.2 L1544.7,2007.9 L1532.2,2009.8 Q1527.2,2010.6 1526.3,2005.7 L1524.3,1993.9 Q1523.4,1989.0 1528.7,1988.1 Z" fill="url(#cg)" stroke="#9e9e9e" stroke-width="2.1" stroke-linejoin="round"/>
<path d="M1648.9,1979.0 L1662.5,1979.3 L1676.2,1979.8 L1689.8,1980.5 L1703.3,1981.6 L1716.6,1982.8 L1729.9,1984.3 L1743.0,1986.1 L1755.9,1988.1 Q1761.2,1989.0 1760.3,1993.9 L1758.3,2005.7 Q1757.4,2010.6 1752.4,2009.8 L1739.9,2007.9 L1727.2,2006.2 L1714.4,2004.7 L1701.4,2003.5 L1688.3,2002.5 L1675.2,2001.8 L1661.9,2001.3 L1648.7,2001.0 Q1643.2,2001.0 1643.2,1996.0 L1643.2,1984.0 Q1643.3,1979.0 1648.9,1979.0 Z" fill="url(#cg)" stroke="#9e9e9e" stroke-width="2.1" stroke-linejoin="round"/>
<path d="M1768.1,1990.2 L1780.7,1992.7 L1792.9,1995.4 L1805.0,1998.3 L1816.7,2001.5 L1828.1,2004.9 L1839.2,2008.4 L1850.0,2012.3 L1860.4,2016.3 Q1864.6,2018.0 1862.6,2022.6 L1858.0,2033.7 Q1856.1,2038.3 1852.2,2036.7 L1842.4,2032.9 L1832.2,2029.3 L1821.6,2025.9 L1810.7,2022.7 L1799.5,2019.6 L1788.0,2016.8 L1776.2,2014.2 L1764.1,2011.9 Q1759.1,2010.9 1760.0,2006.0 L1762.1,1994.2 Q1763.0,1989.3 1768.1,1990.2 Z" fill="url(#cg)" stroke="#9e9e9e" stroke-width="2.1" stroke-linejoin="round"/>
<path d="M1870.0,2020.3 L1879.7,2024.7 L1888.9,2029.3 L1897.8,2034.0 L1906.1,2039.0 L1914.1,2044.1 L1921.5,2049.4 L1928.5,2054.9 L1935.0,2060.5 Q1937.5,2062.9 1934.1,2066.5 L1925.8,2075.2 Q1922.3,2078.8 1920.2,2076.8 L1914.5,2071.9 L1908.4,2067.1 L1901.7,2062.3 L1894.6,2057.7 L1886.9,2053.2 L1878.8,2048.8 L1870.2,2044.6 L1861.2,2040.5 Q1857.4,2038.8 1859.4,2034.2 L1864.0,2023.2 Q1866.0,2018.5 1870.0,2020.3 Z" fill="url(#cg)" stroke="#9e9e9e" stroke-width="2.1" stroke-linejoin="round"/>
<ellipse cx="1384.2" cy="2048.4" rx="10.6" ry="8.7" transform="rotate(-31.7 1384.2 2048.4)" fill="url(#ng)" stroke="#9d9d9d" stroke-width="1.7"/>
<ellipse cx="1470.9" cy="2012.1" rx="10.6" ry="8.7" transform="rotate(-15.7 1470.9 2012.1)" fill="url(#ng)" stroke="#9d9d9d" stroke-width="1.7"/>
<ellipse cx="1582.3" cy="1992.5" rx="10.6" ry="8.7" transform="rotate(-4.8 1582.3 1992.5)" fill="url(#ng)" stroke="#9d9d9d" stroke-width="1.7"/>
<ellipse cx="1702.3" cy="1992.5" rx="10.6" ry="8.7" transform="rotate(4.8 1702.3 1992.5)" fill="url(#ng)" stroke="#9d9d9d" stroke-width="1.7"/>
<ellipse cx="1813.7" cy="2012.1" rx="10.6" ry="8.7" transform="rotate(15.7 1813.7 2012.1)" fill="url(#ng)" stroke="#9d9d9d" stroke-width="1.7"/>
<ellipse cx="1900.4" cy="2048.4" rx="10.6" ry="8.7" transform="rotate(31.7 1900.4 2048.4)" fill="url(#ng)" stroke="#9d9d9d" stroke-width="1.7"/>
<path d="M1382.4,2060.6 L1391.0,2055.7 L1400.0,2051.1 L1409.5,2046.6 L1419.3,2042.3 L1429.6,2038.1 L1440.2,2034.2 L1451.1,2030.5 L1462.4,2027.1 Q1467.1,2025.7 1468.5,2030.5 L1471.7,2042.1 Q1473.1,2046.9 1468.6,2048.2 L1457.9,2051.5 L1447.5,2055.0 L1437.5,2058.7 L1427.8,2062.5 L1418.6,2066.6 L1409.8,2070.8 L1401.5,2075.1 L1393.6,2079.5 Q1390.5,2081.4 1387.9,2077.1 L1381.6,2066.9 Q1379.0,2062.6 1382.4,2060.6 Z" fill="url(#cgr)" stroke="#9e9e9e" stroke-width="2.1" stroke-linejoin="round"/>
<path d="M1473.5,2023.9 L1485.4,2020.9 L1497.5,2018.1 L1509.9,2015.5 L1522.5,2013.1 L1535.4,2011.0 L1548.4,2009.1 L1561.6,2007.5 L1574.9,2006.1 Q1580.4,2005.6 1580.8,2010.6 L1581.9,2022.6 Q1582.3,2027.6 1577.0,2028.0 L1564.1,2029.4 L1551.3,2030.9 L1538.7,2032.8 L1526.3,2034.8 L1514.2,2037.1 L1502.2,2039.6 L1490.6,2042.3 L1479.2,2045.2 Q1474.6,2046.4 1473.3,2041.6 L1470.1,2030.1 Q1468.7,2025.3 1473.5,2023.9 Z" fill="url(#cgr)" stroke="#9e9e9e" stroke-width="2.1" stroke-linejoin="round"/>
<path d="M1587.8,2005.0 L1601.3,2004.1 L1615.0,2003.5 L1628.6,2003.1 L1642.3,2003.0 L1656.0,2003.1 L1669.6,2003.5 L1683.3,2004.1 L1696.8,2005.0 Q1702.3,2005.5 1701.9,2010.5 L1700.9,2022.4 Q1700.5,2027.4 1695.2,2027.0 L1682.0,2026.1 L1668.8,2025.5 L1655.6,2025.1 L1642.3,2025.0 L1629.0,2025.1 L1615.8,2025.5 L1602.6,2026.1 L1589.4,2027.0 Q1584.1,2027.4 1583.7,2022.4 L1582.7,2010.5 Q1582.3,2005.5 1587.8,2005.0 Z" fill="url(#cgr)" stroke="#9e9e9e" stroke-width="2.1" stroke-linejoin="round"/>
<path d="M1709.7,2006.1 L1723.0,2007.5 L1736.2,2009.1 L1749.2,2011.0 L1762.1,2013.1 L1774.7,2015.5 L1787.1,2018.1 L1799.2,2020.9 L1811.1,2023.9 Q1815.9,2025.3 1814.5,2030.1 L1811.3,2041.6 Q1810.0,2046.4 1805.4,2045.2 L1794.0,2042.3 L1782.4,2039.6 L1770.4,2037.1 L1758.3,2034.8 L1745.9,2032.8 L1733.3,2030.9 L1720.5,2029.4 L1707.6,2028.0 Q1702.3,2027.6 1702.7,2022.6 L1703.8,2010.6 Q1704.2,2005.6 1709.7,2006.1 Z" fill="url(#cgr)" stroke="#9e9e9e" stroke-width="2.1" stroke-linejoin="round"/>
<path d="M1822.2,2027.1 L1833.5,2030.5 L1844.4,2034.2 L1855.0,2038.1 L1865.3,2042.3 L1875.1,2046.6 L1884.6,2051.1 L1893.6,2055.7 L1902.2,2060.6 Q1905.6,2062.6 1903.0,2066.9 L1896.7,2077.1 Q1894.1,2081.4 1891.0,2079.5 L1883.1,2075.1 L1874.8,2070.8 L1866.0,2066.6 L1856.8,2062.5 L1847.1,2058.7 L1837.1,2055.0 L1826.7,2051.5 L1816.0,2048.2 Q1811.5,2046.9 1812.9,2042.1 L1816.1,2030.5 Q1817.5,2025.7 1822.2,2027.1 Z" fill="url(#cgr)" stroke="#9e9e9e" stroke-width="2.1" stroke-linejoin="round"/>
<ellipse cx="1423.6" cy="2052.4" rx="10.6" ry="8.7" transform="rotate(-22.7 1423.6 2052.4)" fill="url(#ngr)" stroke="#86c96b" stroke-width="1.7"/>
<ellipse cx="1524.4" cy="2024.0" rx="10.6" ry="8.7" transform="rotate(-10.0 1524.4 2024.0)" fill="url(#ngr)" stroke="#86c96b" stroke-width="1.7"/>
<ellipse cx="1642.3" cy="2014.0" rx="10.6" ry="8.7" transform="rotate(0.0 1642.3 2014.0)" fill="url(#ngr)" stroke="#86c96b" stroke-width="1.7"/>
<ellipse cx="1760.2" cy="2024.0" rx="10.6" ry="8.7" transform="rotate(10.0 1760.2 2024.0)" fill="url(#ngr)" stroke="#86c96b" stroke-width="1.7"/>
<ellipse cx="1861.0" cy="2052.4" rx="10.6" ry="8.7" transform="rotate(22.7 1861.0 2052.4)" fill="url(#ngr)" stroke="#86c96b" stroke-width="1.7"/>
<path d="M1424.2,2064.3 L1434.6,2060.3 L1445.4,2056.4 L1456.5,2052.9 L1467.9,2049.5 L1479.6,2046.3 L1491.7,2043.4 L1503.9,2040.7 L1516.5,2038.2 Q1521.6,2037.3 1522.5,2042.2 L1524.6,2054.0 Q1525.5,2058.9 1520.5,2059.9 L1508.4,2062.2 L1496.6,2064.8 L1485.1,2067.6 L1473.9,2070.7 L1463.0,2073.9 L1452.4,2077.3 L1442.2,2080.9 L1432.4,2084.7 Q1428.5,2086.3 1426.6,2081.7 L1422.0,2070.6 Q1420.0,2066.0 1424.2,2064.3 Z" fill="url(#cgr)" stroke="#9e9e9e" stroke-width="2.1" stroke-linejoin="round"/>
<path d="M1528.7,2036.1 L1541.6,2034.1 L1554.7,2032.3 L1568.0,2030.8 L1581.3,2029.6 L1594.8,2028.5 L1608.4,2027.8 L1622.1,2027.3 L1635.7,2027.0 Q1641.3,2027.0 1641.4,2032.0 L1641.4,2044.0 Q1641.4,2049.0 1635.9,2049.0 L1622.7,2049.3 L1609.4,2049.8 L1596.3,2050.5 L1583.2,2051.5 L1570.2,2052.7 L1557.4,2054.2 L1544.7,2055.9 L1532.2,2057.8 Q1527.2,2058.6 1526.3,2053.7 L1524.3,2041.9 Q1523.4,2037.0 1528.7,2036.1 Z" fill="url(#cgr)" stroke="#9e9e9e" stroke-width="2.1" stroke-linejoin="round"/>
<path d="M1648.9,2027.0 L1662.5,2027.3 L1676.2,2027.8 L1689.8,2028.5 L1703.3,2029.6 L1716.6,2030.8 L1729.9,2032.3 L1743.0,2034.1 L1755.9,2036.1 Q1761.2,2037.0 1760.3,2041.9 L1758.3,2053.7 Q1757.4,2058.6 1752.4,2057.8 L1739.9,2055.9 L1727.2,2054.2 L1714.4,2052.7 L1701.4,2051.5 L1688.3,2050.5 L1675.2,2049.8 L1661.9,2049.3 L1648.7,2049.0 Q1643.2,2049.0 1643.2,2044.0 L1643.2,2032.0 Q1643.3,2027.0 1648.9,2027.0 Z" fill="url(#cgr)" stroke="#9e9e9e" stroke-width="2.1" stroke-linejoin="round"/>
<path d="M1768.1,2038.2 L1780.7,2040.7 L1792.9,2043.4 L1805.0,2046.3 L1816.7,2049.5 L1828.1,2052.9 L1839.2,2056.4 L1850.0,2060.3 L1860.4,2064.3 Q1864.6,2066.0 1862.6,2070.6 L1858.0,2081.7 Q1856.1,2086.3 1852.2,2084.7 L1842.4,2080.9 L1832.2,2077.3 L1821.6,2073.9 L1810.7,2070.7 L1799.5,2067.6 L1788.0,2064.8 L1776.2,2062.2 L1764.1,2059.9 Q1759.1,2058.9 1760.0,2054.0 L1762.1,2042.2 Q1763.0,2037.3 1768.1,2038.2 Z" fill="url(#cgr)" stroke="#9e9e9e" stroke-width="2.1" stroke-linejoin="round"/>
<ellipse cx="1470.9" cy="2060.1" rx="10.6" ry="8.7" transform="rotate(-15.7 1470.9 2060.1)" fill="url(#ngr)" stroke="#86c96b" stroke-width="1.7"/>
<ellipse cx="1582.3" cy="2040.5" rx="10.6" ry="8.7" transform="rotate(-4.8 1582.3 2040.5)" fill="url(#ngr)" stroke="#86c96b" stroke-width="1.7"/>
<ellipse cx="1702.3" cy="2040.5" rx="10.6" ry="8.7" transform="rotate(4.8 1702.3 2040.5)" fill="url(#ngr)" stroke="#86c96b" stroke-width="1.7"/>
<ellipse cx="1813.7" cy="2060.1" rx="10.6" ry="8.7" transform="rotate(15.7 1813.7 2060.1)" fill="url(#ngr)" stroke="#86c96b" stroke-width="1.7"/>
</g>
<text x="1897.5" y="2091.4" font-size="41.2">Inflow tract</text>
<path d="M1530.5,2049 L1225,2307" stroke="#000" stroke-width="4" stroke-dasharray="10.8 25.7" stroke-dashoffset="4" fill="none"/>
<path d="M1642.4,2038 L2126.6,2307" stroke="#000" stroke-width="4" stroke-dasharray="10.8 26.0" stroke-dashoffset="6.3" fill="none"/>
<rect x="1216.8" y="2310" width="923.2" height="695" rx="52" ry="52" fill="#dff4ea"/>
<rect x="1216" y="2960" width="925" height="42" fill="url(#tint)" clip-path="url(#cellClip)"/>
<rect x="1216.8" y="2310" width="923.2" height="695" rx="52" ry="52" fill="none" stroke="#6abd45" stroke-width="8.8"/>
<rect x="1252.6" y="2355.4" width="850.8" height="600.6" rx="51" ry="51" fill="#dff4ea" stroke="#6abd45" stroke-width="8.8"/>
<circle cx="1712.2" cy="2679" r="192" fill="url(#glow)"/>
<ellipse cx="1712.2" cy="2680" rx="162.4" ry="164.8" fill="none" stroke="#d9727a" stroke-width="3.8"/>
<path d="M1708.8,2515.2 L1684.6,2501.8 L1684.6,2532.7 Z" fill="#d9727a"/>
<path d="M1824.7,2562.4 L1813.9,2532.7 L1795.0,2557.0 Z" fill="#d9727a"/>
<path d="M1873.2,2676.9 L1855.6,2652.6 L1886.6,2650.8 Z" fill="#d9727a"/>
<path d="M1857.0,2782.0 L1832.7,2764.5 L1829.2,2796.8 Z" fill="#d9727a"/>
<path d="M1714.2,2843.9 L1741.1,2829.1 L1741.1,2858.8 Z" fill="#d9727a"/>
<path d="M1599.7,2798.9 L1630.7,2803.5 L1609.1,2826.4 Z" fill="#d9727a"/>
<path d="M1551.2,2682.3 L1537.7,2709.2 L1568.7,2706.5 Z" fill="#d9727a"/>
<path d="M1597.0,2565.1 L1568.7,2575.9 L1593.0,2594.7 Z" fill="#d9727a"/>
<text x="1712.0" y="2664.5" font-size="44.5" text-anchor="middle">Heart rate/</text>
<text x="1712.0" y="2719.3" font-size="44.5" text-anchor="middle">rhythmicity</text>
<text x="1651.5" y="2413.0" font-size="41.2">Islet-1</text>
<text x="1365.0" y="2614.0" font-size="40.7">Wnt</text>
<text x="2260.5" y="2649.8" font-size="41.2" text-anchor="middle">Pacemaker</text>
<text x="2266.0" y="2700.5" font-size="41.2" text-anchor="middle">cell</text>
<path d="M1625,2406 H1463.8 V2840" fill="none" stroke="#000" stroke-width="3.2"/>
<path d="M1463.8,2856.0 L1455.6,2836.0 L1463.8,2841.5 L1472.0,2836.0 Z" fill="#000"/>
<path d="M1706,2422.7 V2480" fill="none" stroke="#000" stroke-width="3.2"/>
<path d="M1706.0,2496.0 L1697.8,2476.0 L1706.0,2481.5 L1714.2,2476.0 Z" fill="#000"/>
<path d="M1789,2406 H1948 V2840" fill="none" stroke="#000" stroke-width="3.2" stroke-dasharray="15.5 11"/>
<path d="M1948.0,2856.0 L1939.8,2836.0 L1948.0,2841.5 L1956.2,2836.0 Z" fill="#000"/>
<path d="M1454,2918.5 L1538,2819.5" stroke="#0000f0" stroke-width="4" fill="none"/>
<path d="M1547.2,2808.8 L1538.7,2830.4 L1536.8,2821.0 L1527.2,2820.7 Z" fill="#0000f0"/>
<path d="M1968.8,2924.3 L1885,2824.5" stroke="#0000f0" stroke-width="4" fill="none"/>
<path d="M1876.2,2814.0 L1896.1,2826.0 L1886.5,2826.3 L1884.6,2835.7 Z" fill="#0000f0"/>
<rect x="1524.6" y="2870.4" width="13.6" height="5.2" fill="#0000f0"/>
<path d="M1871.6,2870 h23.8 M1883.5,2858 v24" stroke="#0000f0" stroke-width="5" fill="none"/>
<path d="M1365.0,2933.7 H1433.8 Q1448.8,2933.7 1448.8,2948.7 C1448.2,2963.7 1442.8,2971.7 1442.8,2979.9 C1442.8,2990.2 1448.2,2998.2 1448.8,3011.2 Q1448.8,3026.2 1433.8,3026.2 L1425.9,3026.2 C1420.9,3026.2 1420.9,3019.2 1415.9,3019.2 H1409.9 C1404.9,3019.2 1404.9,3026.2 1399.9,3026.2 L1365.0,3026.2 Q1350.0,3026.2 1350.0,3011.2 C1350.5,2998.2 1356.0,2990.2 1356.0,2979.9 C1356.0,2971.7 1350.5,2963.7 1350.0,2948.7 Q1350.0,2933.7 1365.0,2933.7 Z" fill="#29a9e0" stroke="#0f75bc" stroke-width="7.5" stroke-linejoin="round"/>
<path d="M1939.2,2937.8 H2008.0 Q2023.0,2937.8 2023.0,2952.8 C2022.5,2967.8 2017.0,2975.8 2017.0,2984.0 C2017.0,2994.2 2022.5,3002.2 2023.0,3015.2 Q2023.0,3030.2 2008.0,3030.2 L2000.1,3030.2 C1995.1,3030.2 1995.1,3023.2 1990.1,3023.2 H1984.1 C1979.1,3023.2 1979.1,3030.2 1974.1,3030.2 L1939.2,3030.2 Q1924.2,3030.2 1924.2,3015.2 C1924.8,3002.2 1930.2,2994.2 1930.2,2984.0 C1930.2,2975.8 1924.8,2967.8 1924.2,2952.8 Q1924.2,2937.8 1939.2,2937.8 Z" fill="#ed1e79" stroke="#9e005d" stroke-width="7.5" stroke-linejoin="round"/>
<text x="0" y="0" font-size="34.8" font-weight="bold" text-anchor="middle" transform="translate(1400.8 2992.8) scale(1.34 1)">M2</text>
<text x="1974.5" y="2996.2" font-size="33.5" text-anchor="middle" font-weight="bold">βAR</text>
<circle cx="1315.2" cy="3048.2" r="8.1" fill="#f15a29"/>
<circle cx="1344.8" cy="3048.2" r="8.1" fill="#f15a29"/>
<circle cx="1383.2" cy="3040.2" r="8.1" fill="#f15a29"/>
<circle cx="1356" cy="3076.4" r="8.1" fill="#f15a29"/>
<circle cx="1306.5" cy="3086.4" r="8.1" fill="#f15a29"/>
<circle cx="1888.9" cy="3052" r="8.1" fill="#2e3192"/>
<circle cx="1919" cy="3052" r="8.1" fill="#2e3192"/>
<circle cx="1957.1" cy="3044.1" r="8.1" fill="#2e3192"/>
<circle cx="1929.8" cy="3080.6" r="8.1" fill="#2e3192"/>
<circle cx="1881" cy="3090.2" r="8.1" fill="#2e3192"/>
<text x="1348.4" y="3147.0" font-size="41.5" text-anchor="middle">Parasympathetic</text>
<text x="1353.0" y="3196.3" font-size="41.5" text-anchor="middle">input</text>
<text x="1921.7" y="3147.0" font-size="41.5" text-anchor="middle">Sympathetic</text>
<text x="1927.0" y="3196.3" font-size="41.5" text-anchor="middle">input</text>
</g>
</svg></body></html>
